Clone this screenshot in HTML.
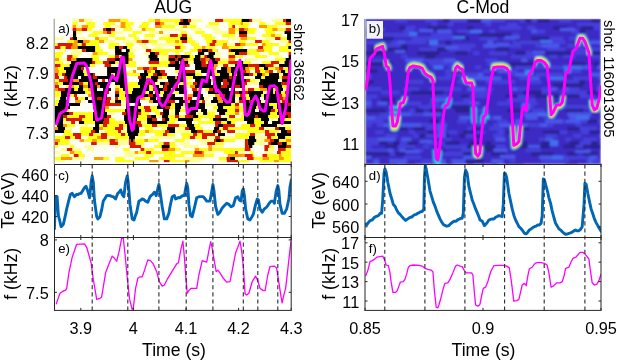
<!DOCTYPE html>
<html><head><meta charset="utf-8"><style>
html,body{margin:0;padding:0;background:#fff;overflow:hidden;}
svg{display:block;will-change:transform;}
text{font-family:"Liberation Sans", sans-serif;fill:#000;}
</style></head><body>
<svg width="617" height="360" viewBox="0 0 617 360">
<rect width="617" height="360" fill="#fff"/>
<defs><filter id="blur1" x="0" y="0" width="1" height="1"><feGaussianBlur stdDeviation="0.7"/></filter><clipPath id="sl"><rect x="55.0" y="18.8" width="236.2" height="143.5"/></clipPath></defs>
<g filter="url(#blur1)" clip-path="url(#sl)"><rect x="55.0" y="18.8" width="236.2" height="143.5" fill="#fff8a0"/><path fill="#ff9a00" d="M55 18.8h4.1v3.1h-4.1zM75 18.8h4.1v3.1h-4.1zM119 18.8h4.1v3.1h-4.1zM55 24.8h4.1v3.1h-4.1zM59 24.8h4.1v3.1h-4.1zM79 24.8h4.1v3.1h-4.1zM139 24.8h4.1v3.1h-4.1zM239 24.8h4.1v3.1h-4.1zM255 27.8h4.1v3.1h-4.1zM271 27.8h4.1v3.1h-4.1zM291 27.8h0.3v3.1h-0.3zM123 30.8h4.1v3.1h-4.1zM199 30.8h4.1v3.1h-4.1zM203 30.8h4.1v3.1h-4.1zM251 30.8h4.1v3.1h-4.1zM55 33.8h4.1v3.1h-4.1zM147 33.8h4.1v3.1h-4.1zM195 33.8h4.1v3.1h-4.1zM199 33.8h4.1v3.1h-4.1zM151 36.8h4.1v3.1h-4.1zM211 36.8h4.1v3.1h-4.1zM227 36.8h4.1v3.1h-4.1zM179 39.8h4.1v3.1h-4.1zM71 42.8h4.1v3.1h-4.1zM143 42.8h4.1v3.1h-4.1zM179 42.8h4.1v3.1h-4.1zM63 45.8h4.1v3.1h-4.1zM291 45.8h0.3v3.1h-0.3zM183 48.8h4.1v3.1h-4.1zM283 48.8h4.1v3.1h-4.1zM111 51.8h4.1v3.1h-4.1zM243 51.8h4.1v3.1h-4.1zM171 54.8h4.1v3.1h-4.1zM155 57.8h4.1v3.1h-4.1zM183 57.8h4.1v3.1h-4.1zM283 57.8h4.1v3.1h-4.1zM123 60.8h4.1v3.1h-4.1zM143 60.8h4.1v3.1h-4.1zM155 60.8h4.1v3.1h-4.1zM211 60.8h4.1v3.1h-4.1zM151 63.8h4.1v3.1h-4.1zM163 63.8h4.1v3.1h-4.1zM167 63.8h4.1v3.1h-4.1zM179 63.8h4.1v3.1h-4.1zM199 63.8h4.1v3.1h-4.1zM55 66.8h4.1v3.1h-4.1zM207 66.8h4.1v3.1h-4.1zM263 66.8h4.1v3.1h-4.1zM63 69.8h4.1v3.1h-4.1zM147 69.8h4.1v3.1h-4.1zM175 69.8h4.1v3.1h-4.1zM179 69.8h4.1v3.1h-4.1zM235 69.8h4.1v3.1h-4.1zM291 69.8h0.3v3.1h-0.3zM187 75.8h4.1v3.1h-4.1zM155 78.8h4.1v3.1h-4.1zM283 78.8h4.1v3.1h-4.1zM99 81.8h4.1v3.1h-4.1zM159 81.8h4.1v3.1h-4.1zM55 84.8h4.1v3.1h-4.1zM91 84.8h4.1v3.1h-4.1zM95 84.8h4.1v3.1h-4.1zM159 84.8h4.1v3.1h-4.1zM203 84.8h4.1v3.1h-4.1zM55 87.8h4.1v3.1h-4.1zM135 87.8h4.1v3.1h-4.1zM139 87.8h4.1v3.1h-4.1zM143 87.8h4.1v3.1h-4.1zM155 87.8h4.1v3.1h-4.1zM235 87.8h4.1v3.1h-4.1zM243 87.8h4.1v3.1h-4.1zM151 90.8h4.1v3.1h-4.1zM159 90.8h4.1v3.1h-4.1zM195 90.8h4.1v3.1h-4.1zM235 90.8h4.1v3.1h-4.1zM119 93.8h4.1v3.1h-4.1zM227 96.8h4.1v3.1h-4.1zM231 96.8h4.1v3.1h-4.1zM167 102.8h4.1v3.1h-4.1zM187 102.8h4.1v3.1h-4.1zM235 102.8h4.1v3.1h-4.1zM95 105.8h4.1v3.1h-4.1zM123 105.8h4.1v3.1h-4.1zM227 105.8h4.1v3.1h-4.1zM163 108.8h4.1v3.1h-4.1zM215 108.8h4.1v3.1h-4.1zM283 108.8h4.1v3.1h-4.1zM107 111.8h4.1v3.1h-4.1zM79 114.8h4.1v3.1h-4.1zM207 114.8h4.1v3.1h-4.1zM159 117.8h4.1v3.1h-4.1zM227 117.8h4.1v3.1h-4.1zM199 120.8h4.1v3.1h-4.1zM239 120.8h4.1v3.1h-4.1zM275 120.8h4.1v3.1h-4.1zM279 120.8h4.1v3.1h-4.1zM83 123.8h4.1v3.1h-4.1zM163 123.8h4.1v3.1h-4.1zM175 123.8h4.1v3.1h-4.1zM183 123.8h4.1v3.1h-4.1zM203 123.8h4.1v3.1h-4.1zM95 126.8h4.1v3.1h-4.1zM127 126.8h4.1v3.1h-4.1zM135 126.8h4.1v3.1h-4.1zM235 126.8h4.1v3.1h-4.1zM75 129.8h4.1v3.1h-4.1zM87 129.8h4.1v3.1h-4.1zM207 129.8h4.1v3.1h-4.1zM79 132.8h4.1v3.1h-4.1zM131 132.8h4.1v3.1h-4.1zM147 132.8h4.1v3.1h-4.1zM151 132.8h4.1v3.1h-4.1zM251 132.8h4.1v3.1h-4.1zM255 132.8h4.1v3.1h-4.1zM175 135.8h4.1v3.1h-4.1zM179 135.8h4.1v3.1h-4.1zM187 135.8h4.1v3.1h-4.1zM199 135.8h4.1v3.1h-4.1zM99 138.8h4.1v3.1h-4.1zM215 138.8h4.1v3.1h-4.1zM55 141.8h4.1v3.1h-4.1zM191 141.8h4.1v3.1h-4.1zM107 144.8h4.1v3.1h-4.1zM163 144.8h4.1v3.1h-4.1zM183 144.8h4.1v3.1h-4.1zM99 147.8h4.1v3.1h-4.1zM247 147.8h4.1v3.1h-4.1zM163 150.8h4.1v3.1h-4.1zM87 153.8h4.1v3.1h-4.1zM119 153.8h4.1v3.1h-4.1zM195 153.8h4.1v3.1h-4.1zM271 153.8h4.1v3.1h-4.1zM275 153.8h4.1v3.1h-4.1zM267 156.8h4.1v3.1h-4.1z"/><path fill="#ffff14" d="M59 18.8h8.1v3.1h-8.1zM83 18.8h8.1v3.1h-8.1zM115 18.8h4.1v3.1h-4.1zM123 18.8h12.1v3.1h-12.1zM139 18.8h4.1v3.1h-4.1zM147 18.8h4.1v3.1h-4.1zM179 18.8h12.1v3.1h-12.1zM219 18.8h4.1v3.1h-4.1zM223 18.8h12.1v3.1h-12.1zM235 18.8h8.1v3.1h-8.1zM271 18.8h4.1v3.1h-4.1zM275 18.8h12.1v3.1h-12.1zM55 21.8h8.1v3.1h-8.1zM83 21.8h8.1v3.1h-8.1zM107 21.8h12.1v3.1h-12.1zM127 21.8h8.1v3.1h-8.1zM151 21.8h8.1v3.1h-8.1zM191 21.8h16.1v3.1h-16.1zM291 21.8h0.3v3.1h-0.3zM115 24.8h8.1v3.1h-8.1zM123 24.8h12.1v3.1h-12.1zM159 24.8h4.1v3.1h-4.1zM195 24.8h16.1v3.1h-16.1zM215 24.8h4.1v3.1h-4.1zM255 24.8h4.1v3.1h-4.1zM259 24.8h4.1v3.1h-4.1zM263 24.8h8.1v3.1h-8.1zM283 24.8h8.1v3.1h-8.1zM107 27.8h16.1v3.1h-16.1zM135 27.8h8.1v3.1h-8.1zM147 27.8h4.1v3.1h-4.1zM163 27.8h4.1v3.1h-4.1zM195 27.8h8.1v3.1h-8.1zM207 27.8h8.1v3.1h-8.1zM235 27.8h8.1v3.1h-8.1zM115 30.8h4.1v3.1h-4.1zM127 30.8h4.1v3.1h-4.1zM135 30.8h16.1v3.1h-16.1zM163 30.8h4.1v3.1h-4.1zM207 30.8h16.1v3.1h-16.1zM223 30.8h12.1v3.1h-12.1zM247 30.8h4.1v3.1h-4.1zM255 30.8h4.1v3.1h-4.1zM263 30.8h8.1v3.1h-8.1zM271 30.8h4.1v3.1h-4.1zM283 30.8h8.3v3.1h-8.3zM71 33.8h4.1v3.1h-4.1zM87 33.8h4.1v3.1h-4.1zM95 33.8h12.1v3.1h-12.1zM123 33.8h12.1v3.1h-12.1zM135 33.8h8.1v3.1h-8.1zM155 33.8h4.1v3.1h-4.1zM159 33.8h8.1v3.1h-8.1zM203 33.8h16.1v3.1h-16.1zM263 33.8h12.1v3.1h-12.1zM55 36.8h12.1v3.1h-12.1zM83 36.8h8.1v3.1h-8.1zM91 36.8h8.1v3.1h-8.1zM143 36.8h8.1v3.1h-8.1zM155 36.8h12.1v3.1h-12.1zM179 36.8h4.1v3.1h-4.1zM187 36.8h4.1v3.1h-4.1zM203 36.8h4.1v3.1h-4.1zM215 36.8h8.1v3.1h-8.1zM223 36.8h4.1v3.1h-4.1zM239 36.8h8.1v3.1h-8.1zM259 36.8h8.1v3.1h-8.1zM63 39.8h12.1v3.1h-12.1zM83 39.8h16.1v3.1h-16.1zM99 39.8h8.1v3.1h-8.1zM139 39.8h4.1v3.1h-4.1zM167 39.8h8.1v3.1h-8.1zM259 39.8h8.1v3.1h-8.1zM75 42.8h4.1v3.1h-4.1zM123 42.8h16.1v3.1h-16.1zM147 42.8h16.1v3.1h-16.1zM183 42.8h12.1v3.1h-12.1zM227 42.8h16.1v3.1h-16.1zM247 42.8h4.1v3.1h-4.1zM255 42.8h8.1v3.1h-8.1zM91 45.8h16.1v3.1h-16.1zM131 45.8h4.1v3.1h-4.1zM151 45.8h4.1v3.1h-4.1zM183 45.8h8.1v3.1h-8.1zM235 45.8h16.1v3.1h-16.1zM251 45.8h16.1v3.1h-16.1zM267 45.8h8.1v3.1h-8.1zM103 48.8h16.1v3.1h-16.1zM123 48.8h4.1v3.1h-4.1zM155 48.8h4.1v3.1h-4.1zM247 48.8h8.1v3.1h-8.1zM259 48.8h8.1v3.1h-8.1zM287 48.8h4.3v3.1h-4.3zM55 51.8h12.1v3.1h-12.1zM83 51.8h16.1v3.1h-16.1zM135 51.8h8.1v3.1h-8.1zM199 51.8h8.1v3.1h-8.1zM231 51.8h4.1v3.1h-4.1zM235 51.8h8.1v3.1h-8.1zM247 51.8h8.1v3.1h-8.1zM67 54.8h16.1v3.1h-16.1zM91 54.8h4.1v3.1h-4.1zM103 54.8h12.1v3.1h-12.1zM123 54.8h16.1v3.1h-16.1zM199 54.8h4.1v3.1h-4.1zM251 54.8h4.1v3.1h-4.1zM275 54.8h16.1v3.1h-16.1zM55 57.8h8.1v3.1h-8.1zM115 57.8h8.1v3.1h-8.1zM123 57.8h4.1v3.1h-4.1zM127 57.8h4.1v3.1h-4.1zM135 57.8h16.1v3.1h-16.1zM159 57.8h16.1v3.1h-16.1zM187 57.8h4.1v3.1h-4.1zM271 57.8h12.1v3.1h-12.1zM287 57.8h4.3v3.1h-4.3zM95 60.8h4.1v3.1h-4.1zM115 60.8h8.1v3.1h-8.1zM159 60.8h16.1v3.1h-16.1zM175 60.8h8.1v3.1h-8.1zM191 60.8h8.1v3.1h-8.1zM215 60.8h4.1v3.1h-4.1zM239 60.8h16.1v3.1h-16.1zM255 60.8h8.1v3.1h-8.1zM251 63.8h8.1v3.1h-8.1zM279 63.8h4.1v3.1h-4.1zM283 63.8h8.1v3.1h-8.1zM67 66.8h8.1v3.1h-8.1zM83 66.8h8.1v3.1h-8.1zM163 66.8h4.1v3.1h-4.1zM191 66.8h4.1v3.1h-4.1zM195 66.8h4.1v3.1h-4.1zM199 66.8h4.1v3.1h-4.1zM251 66.8h4.1v3.1h-4.1zM267 66.8h4.1v3.1h-4.1zM271 66.8h16.1v3.1h-16.1zM59 69.8h4.1v3.1h-4.1zM79 69.8h4.1v3.1h-4.1zM87 69.8h8.1v3.1h-8.1zM95 69.8h4.1v3.1h-4.1zM99 69.8h8.1v3.1h-8.1zM107 69.8h4.1v3.1h-4.1zM111 69.8h4.1v3.1h-4.1zM151 69.8h8.1v3.1h-8.1zM159 69.8h8.1v3.1h-8.1zM191 69.8h4.1v3.1h-4.1zM195 69.8h8.1v3.1h-8.1zM207 69.8h4.1v3.1h-4.1zM239 69.8h16.1v3.1h-16.1zM259 69.8h4.1v3.1h-4.1zM63 72.8h16.1v3.1h-16.1zM79 72.8h4.1v3.1h-4.1zM83 72.8h4.1v3.1h-4.1zM175 72.8h12.1v3.1h-12.1zM203 72.8h16.1v3.1h-16.1zM231 72.8h8.1v3.1h-8.1zM239 72.8h8.1v3.1h-8.1zM283 72.8h8.1v3.1h-8.1zM63 75.8h8.1v3.1h-8.1zM119 75.8h16.1v3.1h-16.1zM139 75.8h8.1v3.1h-8.1zM243 75.8h8.1v3.1h-8.1zM59 78.8h8.1v3.1h-8.1zM83 78.8h12.1v3.1h-12.1zM111 78.8h8.1v3.1h-8.1zM127 78.8h4.1v3.1h-4.1zM131 78.8h4.1v3.1h-4.1zM187 78.8h16.1v3.1h-16.1zM219 78.8h4.1v3.1h-4.1zM227 78.8h4.1v3.1h-4.1zM239 78.8h8.1v3.1h-8.1zM247 78.8h8.1v3.1h-8.1zM267 78.8h8.1v3.1h-8.1zM103 81.8h12.1v3.1h-12.1zM115 81.8h8.1v3.1h-8.1zM167 81.8h12.1v3.1h-12.1zM183 81.8h4.1v3.1h-4.1zM187 81.8h16.1v3.1h-16.1zM203 81.8h16.1v3.1h-16.1zM271 81.8h16.1v3.1h-16.1zM107 84.8h8.1v3.1h-8.1zM115 84.8h16.1v3.1h-16.1zM135 84.8h8.1v3.1h-8.1zM223 84.8h12.1v3.1h-12.1zM247 84.8h4.1v3.1h-4.1zM275 84.8h8.1v3.1h-8.1zM283 84.8h4.1v3.1h-4.1zM83 87.8h16.1v3.1h-16.1zM175 87.8h16.1v3.1h-16.1zM247 87.8h12.1v3.1h-12.1zM259 87.8h8.1v3.1h-8.1zM271 87.8h4.1v3.1h-4.1zM67 90.8h4.1v3.1h-4.1zM79 90.8h4.1v3.1h-4.1zM155 90.8h4.1v3.1h-4.1zM163 90.8h4.1v3.1h-4.1zM167 90.8h16.1v3.1h-16.1zM183 90.8h4.1v3.1h-4.1zM287 90.8h4.3v3.1h-4.3zM55 93.8h8.1v3.1h-8.1zM75 93.8h8.1v3.1h-8.1zM99 93.8h8.1v3.1h-8.1zM107 93.8h8.1v3.1h-8.1zM123 93.8h4.1v3.1h-4.1zM235 93.8h4.1v3.1h-4.1zM243 93.8h8.1v3.1h-8.1zM267 93.8h8.1v3.1h-8.1zM279 93.8h12.3v3.1h-12.3zM207 96.8h8.1v3.1h-8.1zM215 96.8h4.1v3.1h-4.1zM219 96.8h8.1v3.1h-8.1zM283 96.8h4.1v3.1h-4.1zM291 96.8h0.3v3.1h-0.3zM55 99.8h16.1v3.1h-16.1zM71 99.8h4.1v3.1h-4.1zM75 99.8h8.1v3.1h-8.1zM159 99.8h8.1v3.1h-8.1zM203 99.8h8.1v3.1h-8.1zM235 99.8h16.1v3.1h-16.1zM275 99.8h8.1v3.1h-8.1zM123 102.8h8.1v3.1h-8.1zM171 102.8h4.1v3.1h-4.1zM175 102.8h8.1v3.1h-8.1zM183 102.8h4.1v3.1h-4.1zM251 102.8h16.1v3.1h-16.1zM267 102.8h4.1v3.1h-4.1zM67 105.8h4.1v3.1h-4.1zM71 105.8h8.1v3.1h-8.1zM79 105.8h4.1v3.1h-4.1zM99 105.8h16.1v3.1h-16.1zM131 105.8h8.1v3.1h-8.1zM139 105.8h12.1v3.1h-12.1zM159 105.8h8.1v3.1h-8.1zM239 105.8h4.1v3.1h-4.1zM255 105.8h16.1v3.1h-16.1zM71 108.8h8.1v3.1h-8.1zM99 108.8h8.1v3.1h-8.1zM123 108.8h4.1v3.1h-4.1zM139 108.8h4.1v3.1h-4.1zM167 108.8h12.1v3.1h-12.1zM191 108.8h8.1v3.1h-8.1zM231 108.8h4.1v3.1h-4.1zM267 108.8h4.1v3.1h-4.1zM271 108.8h8.1v3.1h-8.1zM99 111.8h8.1v3.1h-8.1zM111 111.8h4.1v3.1h-4.1zM131 111.8h8.1v3.1h-8.1zM139 111.8h8.1v3.1h-8.1zM151 111.8h12.1v3.1h-12.1zM187 111.8h16.1v3.1h-16.1zM203 111.8h4.1v3.1h-4.1zM215 111.8h16.1v3.1h-16.1zM71 114.8h8.1v3.1h-8.1zM139 114.8h8.1v3.1h-8.1zM199 114.8h8.1v3.1h-8.1zM287 114.8h4.3v3.1h-4.3zM143 117.8h4.1v3.1h-4.1zM179 117.8h8.1v3.1h-8.1zM191 117.8h8.1v3.1h-8.1zM215 117.8h12.1v3.1h-12.1zM243 117.8h12.1v3.1h-12.1zM279 117.8h12.1v3.1h-12.1zM87 120.8h12.1v3.1h-12.1zM103 120.8h12.1v3.1h-12.1zM127 120.8h8.1v3.1h-8.1zM183 120.8h16.1v3.1h-16.1zM243 120.8h16.1v3.1h-16.1zM259 120.8h4.1v3.1h-4.1zM103 123.8h12.1v3.1h-12.1zM167 123.8h4.1v3.1h-4.1zM239 123.8h4.1v3.1h-4.1zM271 123.8h8.1v3.1h-8.1zM279 123.8h4.1v3.1h-4.1zM99 126.8h12.1v3.1h-12.1zM179 126.8h4.1v3.1h-4.1zM195 126.8h8.1v3.1h-8.1zM223 126.8h4.1v3.1h-4.1zM231 126.8h4.1v3.1h-4.1zM239 126.8h16.1v3.1h-16.1zM263 126.8h4.1v3.1h-4.1zM267 126.8h16.1v3.1h-16.1zM283 126.8h4.1v3.1h-4.1zM63 129.8h4.1v3.1h-4.1zM115 129.8h4.1v3.1h-4.1zM155 129.8h8.1v3.1h-8.1zM195 129.8h8.1v3.1h-8.1zM211 129.8h8.1v3.1h-8.1zM219 129.8h4.1v3.1h-4.1zM239 129.8h4.1v3.1h-4.1zM247 129.8h8.1v3.1h-8.1zM283 129.8h8.3v3.1h-8.3zM55 132.8h8.1v3.1h-8.1zM63 132.8h16.1v3.1h-16.1zM107 132.8h8.1v3.1h-8.1zM123 132.8h4.1v3.1h-4.1zM127 132.8h4.1v3.1h-4.1zM135 132.8h4.1v3.1h-4.1zM191 132.8h8.1v3.1h-8.1zM259 132.8h16.1v3.1h-16.1zM71 135.8h4.1v3.1h-4.1zM83 135.8h8.1v3.1h-8.1zM95 135.8h16.1v3.1h-16.1zM111 135.8h16.1v3.1h-16.1zM127 135.8h16.1v3.1h-16.1zM143 135.8h4.1v3.1h-4.1zM155 135.8h4.1v3.1h-4.1zM183 135.8h4.1v3.1h-4.1zM203 135.8h8.1v3.1h-8.1zM243 135.8h4.1v3.1h-4.1zM247 135.8h4.1v3.1h-4.1zM251 135.8h8.1v3.1h-8.1zM271 135.8h8.1v3.1h-8.1zM55 138.8h12.1v3.1h-12.1zM91 138.8h8.1v3.1h-8.1zM111 138.8h4.1v3.1h-4.1zM115 138.8h8.1v3.1h-8.1zM123 138.8h4.1v3.1h-4.1zM135 138.8h4.1v3.1h-4.1zM155 138.8h4.1v3.1h-4.1zM263 138.8h12.1v3.1h-12.1zM95 141.8h12.1v3.1h-12.1zM107 141.8h8.1v3.1h-8.1zM143 141.8h8.1v3.1h-8.1zM199 141.8h8.1v3.1h-8.1zM227 141.8h12.1v3.1h-12.1zM239 141.8h8.1v3.1h-8.1zM75 144.8h8.1v3.1h-8.1zM99 144.8h8.1v3.1h-8.1zM187 144.8h8.1v3.1h-8.1zM219 144.8h4.1v3.1h-4.1zM223 144.8h4.1v3.1h-4.1zM259 144.8h16.1v3.1h-16.1zM279 144.8h12.3v3.1h-12.3zM63 147.8h4.1v3.1h-4.1zM83 147.8h4.1v3.1h-4.1zM87 147.8h12.1v3.1h-12.1zM131 147.8h4.1v3.1h-4.1zM151 147.8h12.1v3.1h-12.1zM163 147.8h8.1v3.1h-8.1zM171 147.8h4.1v3.1h-4.1zM235 147.8h4.1v3.1h-4.1zM263 147.8h4.1v3.1h-4.1zM119 150.8h16.1v3.1h-16.1zM167 150.8h8.1v3.1h-8.1zM187 150.8h8.1v3.1h-8.1zM243 150.8h8.1v3.1h-8.1zM251 150.8h4.1v3.1h-4.1zM55 153.8h8.1v3.1h-8.1zM107 153.8h12.1v3.1h-12.1zM127 153.8h4.1v3.1h-4.1zM147 153.8h16.1v3.1h-16.1zM199 153.8h4.1v3.1h-4.1zM255 153.8h8.1v3.1h-8.1zM167 156.8h4.1v3.1h-4.1zM195 156.8h8.1v3.1h-8.1zM203 156.8h4.1v3.1h-4.1zM207 156.8h4.1v3.1h-4.1zM211 156.8h16.1v3.1h-16.1zM271 156.8h12.1v3.1h-12.1zM71 159.8h4.1v2.6h-4.1zM91 159.8h16.1v2.6h-16.1zM115 159.8h8.1v2.6h-8.1zM147 159.8h16.1v2.6h-16.1zM191 159.8h16.1v2.6h-16.1zM207 159.8h4.1v2.6h-4.1zM283 159.8h8.1v2.6h-8.1zM291 159.8h0.3v2.6h-0.3z"/><path fill="#ffff9a" d="M67 18.8h4.1v3.1h-4.1zM195 18.8h12.1v3.1h-12.1zM251 18.8h4.1v3.1h-4.1zM255 18.8h16.1v3.1h-16.1zM287 18.8h4.3v3.1h-4.3zM135 21.8h12.1v3.1h-12.1zM147 21.8h4.1v3.1h-4.1zM175 21.8h16.1v3.1h-16.1zM207 21.8h16.1v3.1h-16.1zM223 21.8h8.1v3.1h-8.1zM63 24.8h8.1v3.1h-8.1zM71 24.8h8.1v3.1h-8.1zM135 24.8h4.1v3.1h-4.1zM143 24.8h16.1v3.1h-16.1zM163 24.8h16.1v3.1h-16.1zM55 27.8h4.1v3.1h-4.1zM123 27.8h4.1v3.1h-4.1zM131 27.8h4.1v3.1h-4.1zM167 27.8h4.1v3.1h-4.1zM171 27.8h8.1v3.1h-8.1zM203 27.8h4.1v3.1h-4.1zM243 27.8h12.1v3.1h-12.1zM259 27.8h8.1v3.1h-8.1zM267 27.8h4.1v3.1h-4.1zM275 27.8h16.1v3.1h-16.1zM55 30.8h8.1v3.1h-8.1zM87 30.8h8.1v3.1h-8.1zM95 30.8h4.1v3.1h-4.1zM107 30.8h8.1v3.1h-8.1zM151 30.8h12.1v3.1h-12.1zM167 30.8h4.1v3.1h-4.1zM179 30.8h4.1v3.1h-4.1zM191 30.8h8.1v3.1h-8.1zM275 30.8h8.1v3.1h-8.1zM143 33.8h4.1v3.1h-4.1zM151 33.8h4.1v3.1h-4.1zM167 33.8h4.1v3.1h-4.1zM227 33.8h4.1v3.1h-4.1zM243 33.8h16.1v3.1h-16.1zM259 33.8h4.1v3.1h-4.1zM123 36.8h4.1v3.1h-4.1zM127 36.8h16.1v3.1h-16.1zM175 36.8h4.1v3.1h-4.1zM247 36.8h12.1v3.1h-12.1zM283 36.8h8.1v3.1h-8.1zM55 39.8h4.1v3.1h-4.1zM111 39.8h8.1v3.1h-8.1zM123 39.8h16.1v3.1h-16.1zM151 39.8h16.1v3.1h-16.1zM79 42.8h16.1v3.1h-16.1zM107 42.8h8.1v3.1h-8.1zM163 42.8h16.1v3.1h-16.1zM195 42.8h4.1v3.1h-4.1zM199 42.8h12.1v3.1h-12.1zM211 42.8h16.1v3.1h-16.1zM279 42.8h12.1v3.1h-12.1zM55 45.8h8.1v3.1h-8.1zM107 45.8h4.1v3.1h-4.1zM111 45.8h4.1v3.1h-4.1zM123 45.8h8.1v3.1h-8.1zM231 45.8h4.1v3.1h-4.1zM59 48.8h4.1v3.1h-4.1zM119 48.8h4.1v3.1h-4.1zM139 48.8h8.1v3.1h-8.1zM175 48.8h8.1v3.1h-8.1zM187 48.8h4.1v3.1h-4.1zM231 48.8h8.1v3.1h-8.1zM243 48.8h4.1v3.1h-4.1zM275 48.8h8.1v3.1h-8.1zM99 51.8h12.1v3.1h-12.1zM151 51.8h16.1v3.1h-16.1zM55 54.8h4.1v3.1h-4.1zM99 54.8h4.1v3.1h-4.1zM139 54.8h8.1v3.1h-8.1zM151 54.8h8.1v3.1h-8.1zM175 54.8h12.1v3.1h-12.1zM219 54.8h16.1v3.1h-16.1zM223 57.8h8.1v3.1h-8.1zM247 57.8h8.1v3.1h-8.1zM183 60.8h8.1v3.1h-8.1zM223 60.8h8.1v3.1h-8.1zM271 60.8h8.1v3.1h-8.1zM55 63.8h16.1v3.1h-16.1zM135 63.8h16.1v3.1h-16.1zM183 63.8h8.1v3.1h-8.1zM191 63.8h8.1v3.1h-8.1zM223 63.8h16.1v3.1h-16.1zM107 66.8h12.1v3.1h-12.1zM119 66.8h16.1v3.1h-16.1zM155 66.8h8.1v3.1h-8.1zM211 66.8h4.1v3.1h-4.1zM255 66.8h8.1v3.1h-8.1zM67 69.8h4.1v3.1h-4.1zM71 69.8h8.1v3.1h-8.1zM115 69.8h8.1v3.1h-8.1zM167 69.8h8.1v3.1h-8.1zM211 69.8h16.1v3.1h-16.1zM267 69.8h8.1v3.1h-8.1zM87 72.8h12.1v3.1h-12.1zM139 72.8h12.1v3.1h-12.1zM187 72.8h16.1v3.1h-16.1zM263 72.8h12.1v3.1h-12.1zM275 72.8h8.1v3.1h-8.1zM135 75.8h4.1v3.1h-4.1zM155 75.8h16.1v3.1h-16.1zM183 75.8h4.1v3.1h-4.1zM191 75.8h4.1v3.1h-4.1zM195 75.8h12.1v3.1h-12.1zM267 75.8h8.1v3.1h-8.1zM67 78.8h12.1v3.1h-12.1zM95 78.8h8.1v3.1h-8.1zM159 78.8h8.1v3.1h-8.1zM287 78.8h4.1v3.1h-4.1zM71 81.8h16.1v3.1h-16.1zM87 81.8h8.1v3.1h-8.1zM123 81.8h12.1v3.1h-12.1zM255 81.8h16.1v3.1h-16.1zM287 81.8h4.3v3.1h-4.3zM59 84.8h4.1v3.1h-4.1zM99 84.8h8.1v3.1h-8.1zM179 84.8h4.1v3.1h-4.1zM207 84.8h16.1v3.1h-16.1zM235 84.8h12.1v3.1h-12.1zM267 84.8h8.1v3.1h-8.1zM119 87.8h12.1v3.1h-12.1zM131 87.8h4.1v3.1h-4.1zM199 87.8h4.1v3.1h-4.1zM239 87.8h4.1v3.1h-4.1zM267 87.8h4.1v3.1h-4.1zM83 90.8h8.1v3.1h-8.1zM103 90.8h16.1v3.1h-16.1zM275 90.8h12.1v3.1h-12.1zM135 93.8h16.1v3.1h-16.1zM219 93.8h8.1v3.1h-8.1zM255 93.8h8.1v3.1h-8.1zM71 96.8h8.1v3.1h-8.1zM79 96.8h12.1v3.1h-12.1zM91 96.8h8.1v3.1h-8.1zM99 96.8h16.1v3.1h-16.1zM115 96.8h16.1v3.1h-16.1zM131 96.8h4.1v3.1h-4.1zM159 96.8h16.1v3.1h-16.1zM183 96.8h8.1v3.1h-8.1zM235 96.8h8.1v3.1h-8.1zM243 96.8h8.1v3.1h-8.1zM267 96.8h16.1v3.1h-16.1zM287 96.8h4.1v3.1h-4.1zM83 99.8h8.1v3.1h-8.1zM115 99.8h12.1v3.1h-12.1zM127 99.8h4.1v3.1h-4.1zM191 99.8h8.1v3.1h-8.1zM215 99.8h4.1v3.1h-4.1zM251 99.8h4.1v3.1h-4.1zM259 99.8h16.1v3.1h-16.1zM283 99.8h8.1v3.1h-8.1zM67 102.8h8.1v3.1h-8.1zM75 102.8h8.1v3.1h-8.1zM91 102.8h16.1v3.1h-16.1zM155 102.8h8.1v3.1h-8.1zM219 102.8h4.1v3.1h-4.1zM223 102.8h4.1v3.1h-4.1zM227 102.8h8.1v3.1h-8.1zM271 102.8h12.1v3.1h-12.1zM55 105.8h4.1v3.1h-4.1zM59 105.8h8.1v3.1h-8.1zM151 105.8h8.1v3.1h-8.1zM231 105.8h8.1v3.1h-8.1zM243 105.8h8.1v3.1h-8.1zM291 105.8h0.3v3.1h-0.3zM55 108.8h12.1v3.1h-12.1zM131 108.8h8.1v3.1h-8.1zM235 108.8h16.1v3.1h-16.1zM287 108.8h4.3v3.1h-4.3zM71 111.8h4.1v3.1h-4.1zM75 111.8h12.1v3.1h-12.1zM127 111.8h4.1v3.1h-4.1zM147 111.8h4.1v3.1h-4.1zM167 111.8h8.1v3.1h-8.1zM255 111.8h16.1v3.1h-16.1zM275 111.8h16.1v3.1h-16.1zM291 111.8h0.3v3.1h-0.3zM59 114.8h12.1v3.1h-12.1zM83 114.8h4.1v3.1h-4.1zM91 114.8h16.1v3.1h-16.1zM155 114.8h12.1v3.1h-12.1zM167 114.8h8.1v3.1h-8.1zM231 114.8h16.1v3.1h-16.1zM259 114.8h12.1v3.1h-12.1zM271 114.8h4.1v3.1h-4.1zM275 114.8h12.1v3.1h-12.1zM75 117.8h4.1v3.1h-4.1zM79 117.8h8.1v3.1h-8.1zM107 117.8h4.1v3.1h-4.1zM123 117.8h12.1v3.1h-12.1zM147 117.8h8.1v3.1h-8.1zM155 117.8h4.1v3.1h-4.1zM167 117.8h4.1v3.1h-4.1zM171 117.8h8.1v3.1h-8.1zM187 117.8h4.1v3.1h-4.1zM199 117.8h12.1v3.1h-12.1zM291 117.8h0.3v3.1h-0.3zM71 120.8h8.1v3.1h-8.1zM135 120.8h8.1v3.1h-8.1zM147 120.8h8.1v3.1h-8.1zM219 120.8h4.1v3.1h-4.1zM283 120.8h4.1v3.1h-4.1zM291 120.8h0.3v3.1h-0.3zM55 123.8h16.1v3.1h-16.1zM87 123.8h16.1v3.1h-16.1zM171 123.8h4.1v3.1h-4.1zM207 123.8h8.1v3.1h-8.1zM139 126.8h4.1v3.1h-4.1zM227 126.8h4.1v3.1h-4.1zM291 126.8h0.3v3.1h-0.3zM55 129.8h8.1v3.1h-8.1zM143 129.8h12.1v3.1h-12.1zM187 129.8h8.1v3.1h-8.1zM259 129.8h16.1v3.1h-16.1zM139 132.8h8.1v3.1h-8.1zM155 132.8h8.1v3.1h-8.1zM163 132.8h12.1v3.1h-12.1zM187 132.8h4.1v3.1h-4.1zM199 132.8h8.1v3.1h-8.1zM207 132.8h12.1v3.1h-12.1zM219 132.8h8.1v3.1h-8.1zM75 135.8h8.1v3.1h-8.1zM219 135.8h4.1v3.1h-4.1zM223 135.8h8.1v3.1h-8.1zM231 135.8h12.1v3.1h-12.1zM139 138.8h16.1v3.1h-16.1zM191 138.8h12.1v3.1h-12.1zM227 138.8h16.1v3.1h-16.1zM71 141.8h8.1v3.1h-8.1zM79 141.8h8.1v3.1h-8.1zM115 141.8h4.1v3.1h-4.1zM135 141.8h8.1v3.1h-8.1zM171 141.8h12.1v3.1h-12.1zM215 141.8h12.1v3.1h-12.1zM247 141.8h12.1v3.1h-12.1zM291 141.8h0.3v3.1h-0.3zM123 144.8h12.1v3.1h-12.1zM147 144.8h4.1v3.1h-4.1zM243 144.8h16.1v3.1h-16.1zM175 147.8h16.1v3.1h-16.1zM251 147.8h12.1v3.1h-12.1zM283 147.8h8.3v3.1h-8.3zM91 150.8h8.1v3.1h-8.1zM179 150.8h8.1v3.1h-8.1zM255 150.8h8.1v3.1h-8.1zM63 153.8h4.1v3.1h-4.1zM123 153.8h4.1v3.1h-4.1zM131 153.8h8.1v3.1h-8.1zM187 153.8h4.1v3.1h-4.1zM203 153.8h8.1v3.1h-8.1zM263 153.8h8.1v3.1h-8.1zM283 153.8h8.3v3.1h-8.3zM79 156.8h16.1v3.1h-16.1zM131 156.8h12.1v3.1h-12.1zM143 156.8h16.1v3.1h-16.1zM227 156.8h8.1v3.1h-8.1zM63 159.8h8.1v2.6h-8.1zM123 159.8h8.1v2.6h-8.1zM131 159.8h16.1v2.6h-16.1zM215 159.8h16.1v2.6h-16.1z"/><path fill="#fffff4" d="M71 18.8h4.1v3.1h-4.1zM79 18.8h4.1v3.1h-4.1zM91 18.8h4.1v3.1h-4.1zM95 18.8h8.1v3.1h-8.1zM103 18.8h12.1v3.1h-12.1zM143 18.8h4.1v3.1h-4.1zM151 18.8h12.1v3.1h-12.1zM163 18.8h16.1v3.1h-16.1zM191 18.8h4.1v3.1h-4.1zM207 18.8h12.1v3.1h-12.1zM243 18.8h8.1v3.1h-8.1zM63 21.8h4.1v3.1h-4.1zM67 21.8h8.1v3.1h-8.1zM75 21.8h8.1v3.1h-8.1zM91 21.8h16.1v3.1h-16.1zM119 21.8h8.1v3.1h-8.1zM159 21.8h16.1v3.1h-16.1zM231 21.8h16.1v3.1h-16.1zM247 21.8h8.1v3.1h-8.1zM255 21.8h12.1v3.1h-12.1zM267 21.8h4.1v3.1h-4.1zM271 21.8h8.1v3.1h-8.1zM279 21.8h4.1v3.1h-4.1zM283 21.8h8.1v3.1h-8.1zM83 24.8h4.1v3.1h-4.1zM87 24.8h4.1v3.1h-4.1zM91 24.8h4.1v3.1h-4.1zM95 24.8h12.1v3.1h-12.1zM107 24.8h8.1v3.1h-8.1zM179 24.8h8.1v3.1h-8.1zM187 24.8h8.1v3.1h-8.1zM211 24.8h4.1v3.1h-4.1zM219 24.8h4.1v3.1h-4.1zM223 24.8h4.1v3.1h-4.1zM227 24.8h12.1v3.1h-12.1zM243 24.8h12.1v3.1h-12.1zM271 24.8h8.1v3.1h-8.1zM291 24.8h0.3v3.1h-0.3zM59 27.8h16.1v3.1h-16.1zM75 27.8h16.1v3.1h-16.1zM91 27.8h4.1v3.1h-4.1zM95 27.8h12.1v3.1h-12.1zM143 27.8h4.1v3.1h-4.1zM151 27.8h12.1v3.1h-12.1zM179 27.8h4.1v3.1h-4.1zM183 27.8h8.1v3.1h-8.1zM219 27.8h8.1v3.1h-8.1zM227 27.8h4.1v3.1h-4.1zM231 27.8h4.1v3.1h-4.1zM63 30.8h8.1v3.1h-8.1zM71 30.8h16.1v3.1h-16.1zM103 30.8h4.1v3.1h-4.1zM131 30.8h4.1v3.1h-4.1zM171 30.8h4.1v3.1h-4.1zM175 30.8h4.1v3.1h-4.1zM183 30.8h8.1v3.1h-8.1zM235 30.8h12.1v3.1h-12.1zM259 30.8h4.1v3.1h-4.1zM59 33.8h4.1v3.1h-4.1zM63 33.8h8.1v3.1h-8.1zM75 33.8h12.1v3.1h-12.1zM107 33.8h16.1v3.1h-16.1zM171 33.8h8.1v3.1h-8.1zM179 33.8h16.1v3.1h-16.1zM219 33.8h4.1v3.1h-4.1zM231 33.8h4.1v3.1h-4.1zM235 33.8h8.1v3.1h-8.1zM275 33.8h8.1v3.1h-8.1zM283 33.8h8.1v3.1h-8.1zM291 33.8h0.3v3.1h-0.3zM67 36.8h16.1v3.1h-16.1zM99 36.8h4.1v3.1h-4.1zM107 36.8h4.1v3.1h-4.1zM111 36.8h8.1v3.1h-8.1zM119 36.8h4.1v3.1h-4.1zM167 36.8h8.1v3.1h-8.1zM183 36.8h4.1v3.1h-4.1zM191 36.8h8.1v3.1h-8.1zM199 36.8h4.1v3.1h-4.1zM231 36.8h4.1v3.1h-4.1zM235 36.8h4.1v3.1h-4.1zM267 36.8h16.1v3.1h-16.1zM291 36.8h0.3v3.1h-0.3zM75 39.8h8.1v3.1h-8.1zM119 39.8h4.1v3.1h-4.1zM147 39.8h4.1v3.1h-4.1zM175 39.8h4.1v3.1h-4.1zM187 39.8h12.1v3.1h-12.1zM199 39.8h8.1v3.1h-8.1zM207 39.8h4.1v3.1h-4.1zM211 39.8h8.1v3.1h-8.1zM223 39.8h12.1v3.1h-12.1zM239 39.8h8.1v3.1h-8.1zM247 39.8h4.1v3.1h-4.1zM251 39.8h8.1v3.1h-8.1zM267 39.8h4.1v3.1h-4.1zM271 39.8h4.1v3.1h-4.1zM275 39.8h4.1v3.1h-4.1zM279 39.8h12.1v3.1h-12.1zM291 39.8h0.3v3.1h-0.3zM55 42.8h16.1v3.1h-16.1zM95 42.8h12.1v3.1h-12.1zM115 42.8h8.1v3.1h-8.1zM139 42.8h4.1v3.1h-4.1zM243 42.8h4.1v3.1h-4.1zM251 42.8h4.1v3.1h-4.1zM263 42.8h16.1v3.1h-16.1zM291 42.8h0.3v3.1h-0.3zM67 45.8h12.1v3.1h-12.1zM79 45.8h12.1v3.1h-12.1zM115 45.8h4.1v3.1h-4.1zM135 45.8h16.1v3.1h-16.1zM155 45.8h16.1v3.1h-16.1zM171 45.8h12.1v3.1h-12.1zM191 45.8h16.1v3.1h-16.1zM207 45.8h12.1v3.1h-12.1zM219 45.8h8.1v3.1h-8.1zM279 45.8h12.1v3.1h-12.1zM55 48.8h4.1v3.1h-4.1zM67 48.8h8.1v3.1h-8.1zM75 48.8h4.1v3.1h-4.1zM79 48.8h4.1v3.1h-4.1zM83 48.8h12.1v3.1h-12.1zM95 48.8h8.1v3.1h-8.1zM127 48.8h8.1v3.1h-8.1zM135 48.8h4.1v3.1h-4.1zM147 48.8h8.1v3.1h-8.1zM159 48.8h8.1v3.1h-8.1zM167 48.8h8.1v3.1h-8.1zM191 48.8h16.1v3.1h-16.1zM207 48.8h8.1v3.1h-8.1zM219 48.8h12.1v3.1h-12.1zM239 48.8h4.1v3.1h-4.1zM255 48.8h4.1v3.1h-4.1zM267 48.8h8.1v3.1h-8.1zM67 51.8h16.1v3.1h-16.1zM115 51.8h8.1v3.1h-8.1zM123 51.8h12.1v3.1h-12.1zM143 51.8h8.1v3.1h-8.1zM167 51.8h16.1v3.1h-16.1zM183 51.8h16.1v3.1h-16.1zM207 51.8h8.1v3.1h-8.1zM215 51.8h16.1v3.1h-16.1zM255 51.8h12.1v3.1h-12.1zM267 51.8h4.1v3.1h-4.1zM271 51.8h12.1v3.1h-12.1zM283 51.8h4.1v3.1h-4.1zM287 51.8h4.3v3.1h-4.3zM59 54.8h8.1v3.1h-8.1zM83 54.8h8.1v3.1h-8.1zM115 54.8h4.1v3.1h-4.1zM119 54.8h4.1v3.1h-4.1zM147 54.8h4.1v3.1h-4.1zM163 54.8h8.1v3.1h-8.1zM187 54.8h8.1v3.1h-8.1zM195 54.8h4.1v3.1h-4.1zM203 54.8h16.1v3.1h-16.1zM235 54.8h8.1v3.1h-8.1zM243 54.8h4.1v3.1h-4.1zM247 54.8h4.1v3.1h-4.1zM259 54.8h16.1v3.1h-16.1zM291 54.8h0.3v3.1h-0.3zM63 57.8h12.1v3.1h-12.1zM75 57.8h8.1v3.1h-8.1zM83 57.8h12.1v3.1h-12.1zM95 57.8h12.1v3.1h-12.1zM107 57.8h8.1v3.1h-8.1zM151 57.8h4.1v3.1h-4.1zM175 57.8h8.1v3.1h-8.1zM191 57.8h16.1v3.1h-16.1zM207 57.8h8.1v3.1h-8.1zM215 57.8h8.1v3.1h-8.1zM231 57.8h12.1v3.1h-12.1zM255 57.8h4.1v3.1h-4.1zM259 57.8h4.1v3.1h-4.1zM263 57.8h8.1v3.1h-8.1zM55 60.8h16.1v3.1h-16.1zM71 60.8h12.1v3.1h-12.1zM83 60.8h8.1v3.1h-8.1zM99 60.8h16.1v3.1h-16.1zM127 60.8h16.1v3.1h-16.1zM147 60.8h8.1v3.1h-8.1zM199 60.8h4.1v3.1h-4.1zM203 60.8h8.1v3.1h-8.1zM219 60.8h4.1v3.1h-4.1zM231 60.8h8.1v3.1h-8.1zM263 60.8h8.1v3.1h-8.1zM279 60.8h8.1v3.1h-8.1zM287 60.8h4.3v3.1h-4.3zM71 63.8h4.1v3.1h-4.1zM75 63.8h8.1v3.1h-8.1zM83 63.8h4.1v3.1h-4.1zM87 63.8h16.1v3.1h-16.1zM103 63.8h12.1v3.1h-12.1zM115 63.8h8.1v3.1h-8.1zM123 63.8h12.1v3.1h-12.1zM155 63.8h8.1v3.1h-8.1zM171 63.8h4.1v3.1h-4.1zM175 63.8h4.1v3.1h-4.1zM203 63.8h4.1v3.1h-4.1zM207 63.8h16.1v3.1h-16.1zM239 63.8h12.1v3.1h-12.1zM259 63.8h12.1v3.1h-12.1zM271 63.8h4.1v3.1h-4.1zM275 63.8h4.1v3.1h-4.1zM291 63.8h0.3v3.1h-0.3zM59 66.8h4.1v3.1h-4.1zM63 66.8h4.1v3.1h-4.1zM79 66.8h4.1v3.1h-4.1zM91 66.8h16.1v3.1h-16.1zM135 66.8h8.1v3.1h-8.1zM143 66.8h12.1v3.1h-12.1zM167 66.8h4.1v3.1h-4.1zM171 66.8h4.1v3.1h-4.1zM175 66.8h12.1v3.1h-12.1zM187 66.8h4.1v3.1h-4.1zM203 66.8h4.1v3.1h-4.1zM215 66.8h8.1v3.1h-8.1zM223 66.8h8.1v3.1h-8.1zM231 66.8h4.1v3.1h-4.1zM235 66.8h12.1v3.1h-12.1zM247 66.8h4.1v3.1h-4.1zM287 66.8h4.1v3.1h-4.1zM291 66.8h0.3v3.1h-0.3zM83 69.8h4.1v3.1h-4.1zM127 69.8h16.1v3.1h-16.1zM143 69.8h4.1v3.1h-4.1zM183 69.8h8.1v3.1h-8.1zM203 69.8h4.1v3.1h-4.1zM227 69.8h8.1v3.1h-8.1zM255 69.8h4.1v3.1h-4.1zM263 69.8h4.1v3.1h-4.1zM275 69.8h4.1v3.1h-4.1zM283 69.8h8.1v3.1h-8.1zM55 72.8h8.1v3.1h-8.1zM99 72.8h8.1v3.1h-8.1zM107 72.8h4.1v3.1h-4.1zM111 72.8h12.1v3.1h-12.1zM123 72.8h8.1v3.1h-8.1zM135 72.8h4.1v3.1h-4.1zM151 72.8h16.1v3.1h-16.1zM167 72.8h8.1v3.1h-8.1zM219 72.8h12.1v3.1h-12.1zM247 72.8h4.1v3.1h-4.1zM255 72.8h8.1v3.1h-8.1zM291 72.8h0.3v3.1h-0.3zM55 75.8h8.1v3.1h-8.1zM71 75.8h16.1v3.1h-16.1zM87 75.8h16.1v3.1h-16.1zM103 75.8h16.1v3.1h-16.1zM147 75.8h4.1v3.1h-4.1zM171 75.8h4.1v3.1h-4.1zM175 75.8h8.1v3.1h-8.1zM207 75.8h4.1v3.1h-4.1zM211 75.8h12.1v3.1h-12.1zM223 75.8h8.1v3.1h-8.1zM235 75.8h8.1v3.1h-8.1zM251 75.8h4.1v3.1h-4.1zM255 75.8h4.1v3.1h-4.1zM259 75.8h8.1v3.1h-8.1zM275 75.8h8.1v3.1h-8.1zM283 75.8h8.1v3.1h-8.1zM291 75.8h0.3v3.1h-0.3zM79 78.8h4.1v3.1h-4.1zM103 78.8h8.1v3.1h-8.1zM119 78.8h8.1v3.1h-8.1zM135 78.8h4.1v3.1h-4.1zM139 78.8h12.1v3.1h-12.1zM167 78.8h16.1v3.1h-16.1zM183 78.8h4.1v3.1h-4.1zM203 78.8h12.1v3.1h-12.1zM215 78.8h4.1v3.1h-4.1zM223 78.8h4.1v3.1h-4.1zM231 78.8h8.1v3.1h-8.1zM255 78.8h12.1v3.1h-12.1zM275 78.8h8.1v3.1h-8.1zM291 78.8h0.3v3.1h-0.3zM55 81.8h16.1v3.1h-16.1zM95 81.8h4.1v3.1h-4.1zM135 81.8h4.1v3.1h-4.1zM139 81.8h4.1v3.1h-4.1zM143 81.8h12.1v3.1h-12.1zM155 81.8h4.1v3.1h-4.1zM163 81.8h4.1v3.1h-4.1zM179 81.8h4.1v3.1h-4.1zM219 81.8h12.1v3.1h-12.1zM231 81.8h8.1v3.1h-8.1zM239 81.8h16.1v3.1h-16.1zM63 84.8h8.1v3.1h-8.1zM71 84.8h4.1v3.1h-4.1zM75 84.8h16.1v3.1h-16.1zM143 84.8h4.1v3.1h-4.1zM147 84.8h12.1v3.1h-12.1zM163 84.8h16.1v3.1h-16.1zM183 84.8h8.1v3.1h-8.1zM191 84.8h8.1v3.1h-8.1zM199 84.8h4.1v3.1h-4.1zM251 84.8h16.1v3.1h-16.1zM287 84.8h4.1v3.1h-4.1zM291 84.8h0.3v3.1h-0.3zM63 87.8h16.1v3.1h-16.1zM79 87.8h4.1v3.1h-4.1zM99 87.8h16.1v3.1h-16.1zM115 87.8h4.1v3.1h-4.1zM147 87.8h4.1v3.1h-4.1zM151 87.8h4.1v3.1h-4.1zM159 87.8h16.1v3.1h-16.1zM191 87.8h8.1v3.1h-8.1zM203 87.8h16.1v3.1h-16.1zM219 87.8h8.1v3.1h-8.1zM227 87.8h8.1v3.1h-8.1zM275 87.8h4.1v3.1h-4.1zM279 87.8h12.3v3.1h-12.3zM55 90.8h12.1v3.1h-12.1zM71 90.8h8.1v3.1h-8.1zM91 90.8h4.1v3.1h-4.1zM95 90.8h8.1v3.1h-8.1zM123 90.8h12.1v3.1h-12.1zM135 90.8h12.1v3.1h-12.1zM147 90.8h4.1v3.1h-4.1zM187 90.8h8.1v3.1h-8.1zM199 90.8h16.1v3.1h-16.1zM215 90.8h16.1v3.1h-16.1zM231 90.8h4.1v3.1h-4.1zM239 90.8h12.1v3.1h-12.1zM251 90.8h16.1v3.1h-16.1zM267 90.8h8.1v3.1h-8.1zM63 93.8h12.1v3.1h-12.1zM83 93.8h16.1v3.1h-16.1zM115 93.8h4.1v3.1h-4.1zM127 93.8h8.1v3.1h-8.1zM151 93.8h12.1v3.1h-12.1zM167 93.8h16.1v3.1h-16.1zM183 93.8h12.1v3.1h-12.1zM195 93.8h4.1v3.1h-4.1zM199 93.8h4.1v3.1h-4.1zM211 93.8h4.1v3.1h-4.1zM227 93.8h8.1v3.1h-8.1zM239 93.8h4.1v3.1h-4.1zM251 93.8h4.1v3.1h-4.1zM275 93.8h4.1v3.1h-4.1zM55 96.8h16.1v3.1h-16.1zM135 96.8h16.1v3.1h-16.1zM151 96.8h8.1v3.1h-8.1zM175 96.8h8.1v3.1h-8.1zM191 96.8h16.1v3.1h-16.1zM251 96.8h4.1v3.1h-4.1zM255 96.8h12.1v3.1h-12.1zM91 99.8h8.1v3.1h-8.1zM99 99.8h16.1v3.1h-16.1zM131 99.8h12.1v3.1h-12.1zM143 99.8h4.1v3.1h-4.1zM147 99.8h8.1v3.1h-8.1zM155 99.8h4.1v3.1h-4.1zM167 99.8h16.1v3.1h-16.1zM183 99.8h8.1v3.1h-8.1zM211 99.8h4.1v3.1h-4.1zM219 99.8h16.1v3.1h-16.1zM255 99.8h4.1v3.1h-4.1zM291 99.8h0.3v3.1h-0.3zM55 102.8h8.1v3.1h-8.1zM63 102.8h4.1v3.1h-4.1zM83 102.8h8.1v3.1h-8.1zM107 102.8h8.1v3.1h-8.1zM115 102.8h8.1v3.1h-8.1zM131 102.8h16.1v3.1h-16.1zM147 102.8h8.1v3.1h-8.1zM163 102.8h4.1v3.1h-4.1zM191 102.8h16.1v3.1h-16.1zM207 102.8h12.1v3.1h-12.1zM239 102.8h12.1v3.1h-12.1zM283 102.8h8.1v3.1h-8.1zM291 102.8h0.3v3.1h-0.3zM83 105.8h12.1v3.1h-12.1zM115 105.8h8.1v3.1h-8.1zM127 105.8h4.1v3.1h-4.1zM167 105.8h16.1v3.1h-16.1zM183 105.8h16.1v3.1h-16.1zM199 105.8h16.1v3.1h-16.1zM215 105.8h12.1v3.1h-12.1zM251 105.8h4.1v3.1h-4.1zM271 105.8h4.1v3.1h-4.1zM275 105.8h16.1v3.1h-16.1zM67 108.8h4.1v3.1h-4.1zM79 108.8h12.1v3.1h-12.1zM91 108.8h8.1v3.1h-8.1zM111 108.8h12.1v3.1h-12.1zM127 108.8h4.1v3.1h-4.1zM143 108.8h16.1v3.1h-16.1zM159 108.8h4.1v3.1h-4.1zM179 108.8h8.1v3.1h-8.1zM187 108.8h4.1v3.1h-4.1zM199 108.8h16.1v3.1h-16.1zM219 108.8h12.1v3.1h-12.1zM251 108.8h16.1v3.1h-16.1zM279 108.8h4.1v3.1h-4.1zM55 111.8h16.1v3.1h-16.1zM87 111.8h8.1v3.1h-8.1zM95 111.8h4.1v3.1h-4.1zM115 111.8h12.1v3.1h-12.1zM175 111.8h12.1v3.1h-12.1zM207 111.8h8.1v3.1h-8.1zM231 111.8h4.1v3.1h-4.1zM235 111.8h4.1v3.1h-4.1zM239 111.8h4.1v3.1h-4.1zM243 111.8h12.1v3.1h-12.1zM271 111.8h4.1v3.1h-4.1zM55 114.8h4.1v3.1h-4.1zM87 114.8h4.1v3.1h-4.1zM107 114.8h12.1v3.1h-12.1zM119 114.8h8.1v3.1h-8.1zM127 114.8h12.1v3.1h-12.1zM147 114.8h8.1v3.1h-8.1zM179 114.8h4.1v3.1h-4.1zM183 114.8h16.1v3.1h-16.1zM211 114.8h12.1v3.1h-12.1zM223 114.8h8.1v3.1h-8.1zM247 114.8h12.1v3.1h-12.1zM55 117.8h4.1v3.1h-4.1zM59 117.8h16.1v3.1h-16.1zM87 117.8h8.1v3.1h-8.1zM95 117.8h8.1v3.1h-8.1zM103 117.8h4.1v3.1h-4.1zM111 117.8h12.1v3.1h-12.1zM135 117.8h8.1v3.1h-8.1zM163 117.8h4.1v3.1h-4.1zM211 117.8h4.1v3.1h-4.1zM231 117.8h12.1v3.1h-12.1zM255 117.8h4.1v3.1h-4.1zM259 117.8h4.1v3.1h-4.1zM263 117.8h16.1v3.1h-16.1zM55 120.8h4.1v3.1h-4.1zM59 120.8h8.1v3.1h-8.1zM67 120.8h4.1v3.1h-4.1zM79 120.8h4.1v3.1h-4.1zM83 120.8h4.1v3.1h-4.1zM99 120.8h4.1v3.1h-4.1zM115 120.8h12.1v3.1h-12.1zM155 120.8h8.1v3.1h-8.1zM163 120.8h4.1v3.1h-4.1zM167 120.8h4.1v3.1h-4.1zM171 120.8h12.1v3.1h-12.1zM203 120.8h16.1v3.1h-16.1zM223 120.8h4.1v3.1h-4.1zM227 120.8h12.1v3.1h-12.1zM263 120.8h4.1v3.1h-4.1zM271 120.8h4.1v3.1h-4.1zM287 120.8h4.1v3.1h-4.1zM71 123.8h8.1v3.1h-8.1zM79 123.8h4.1v3.1h-4.1zM115 123.8h16.1v3.1h-16.1zM131 123.8h8.1v3.1h-8.1zM139 123.8h8.1v3.1h-8.1zM147 123.8h8.1v3.1h-8.1zM155 123.8h8.1v3.1h-8.1zM179 123.8h4.1v3.1h-4.1zM187 123.8h16.1v3.1h-16.1zM215 123.8h16.1v3.1h-16.1zM231 123.8h8.1v3.1h-8.1zM243 123.8h16.1v3.1h-16.1zM259 123.8h8.1v3.1h-8.1zM267 123.8h4.1v3.1h-4.1zM283 123.8h4.1v3.1h-4.1zM287 123.8h4.3v3.1h-4.3zM55 126.8h4.1v3.1h-4.1zM59 126.8h8.1v3.1h-8.1zM67 126.8h4.1v3.1h-4.1zM71 126.8h4.1v3.1h-4.1zM75 126.8h8.1v3.1h-8.1zM83 126.8h12.1v3.1h-12.1zM111 126.8h8.1v3.1h-8.1zM131 126.8h4.1v3.1h-4.1zM143 126.8h8.1v3.1h-8.1zM151 126.8h16.1v3.1h-16.1zM167 126.8h12.1v3.1h-12.1zM183 126.8h12.1v3.1h-12.1zM203 126.8h8.1v3.1h-8.1zM211 126.8h12.1v3.1h-12.1zM255 126.8h8.1v3.1h-8.1zM287 126.8h4.1v3.1h-4.1zM67 129.8h8.1v3.1h-8.1zM79 129.8h8.1v3.1h-8.1zM91 129.8h8.1v3.1h-8.1zM99 129.8h16.1v3.1h-16.1zM119 129.8h8.1v3.1h-8.1zM127 129.8h16.1v3.1h-16.1zM167 129.8h4.1v3.1h-4.1zM171 129.8h16.1v3.1h-16.1zM203 129.8h4.1v3.1h-4.1zM223 129.8h12.1v3.1h-12.1zM243 129.8h4.1v3.1h-4.1zM255 129.8h4.1v3.1h-4.1zM275 129.8h8.1v3.1h-8.1zM83 132.8h16.1v3.1h-16.1zM99 132.8h8.1v3.1h-8.1zM115 132.8h8.1v3.1h-8.1zM175 132.8h12.1v3.1h-12.1zM227 132.8h12.1v3.1h-12.1zM239 132.8h12.1v3.1h-12.1zM275 132.8h8.1v3.1h-8.1zM283 132.8h4.1v3.1h-4.1zM287 132.8h4.3v3.1h-4.3zM55 135.8h16.1v3.1h-16.1zM91 135.8h4.1v3.1h-4.1zM147 135.8h8.1v3.1h-8.1zM159 135.8h4.1v3.1h-4.1zM163 135.8h8.1v3.1h-8.1zM171 135.8h4.1v3.1h-4.1zM191 135.8h8.1v3.1h-8.1zM211 135.8h8.1v3.1h-8.1zM259 135.8h12.1v3.1h-12.1zM279 135.8h8.1v3.1h-8.1zM287 135.8h4.3v3.1h-4.3zM67 138.8h12.1v3.1h-12.1zM79 138.8h8.1v3.1h-8.1zM87 138.8h4.1v3.1h-4.1zM103 138.8h4.1v3.1h-4.1zM107 138.8h4.1v3.1h-4.1zM127 138.8h8.1v3.1h-8.1zM159 138.8h16.1v3.1h-16.1zM175 138.8h16.1v3.1h-16.1zM203 138.8h12.1v3.1h-12.1zM219 138.8h8.1v3.1h-8.1zM243 138.8h16.1v3.1h-16.1zM259 138.8h4.1v3.1h-4.1zM275 138.8h8.1v3.1h-8.1zM283 138.8h8.3v3.1h-8.3zM59 141.8h12.1v3.1h-12.1zM87 141.8h8.1v3.1h-8.1zM119 141.8h8.1v3.1h-8.1zM127 141.8h8.1v3.1h-8.1zM151 141.8h12.1v3.1h-12.1zM163 141.8h8.1v3.1h-8.1zM183 141.8h8.1v3.1h-8.1zM195 141.8h4.1v3.1h-4.1zM207 141.8h8.1v3.1h-8.1zM259 141.8h8.1v3.1h-8.1zM267 141.8h8.1v3.1h-8.1zM275 141.8h16.1v3.1h-16.1zM55 144.8h12.1v3.1h-12.1zM67 144.8h8.1v3.1h-8.1zM83 144.8h12.1v3.1h-12.1zM111 144.8h12.1v3.1h-12.1zM135 144.8h4.1v3.1h-4.1zM139 144.8h8.1v3.1h-8.1zM151 144.8h12.1v3.1h-12.1zM167 144.8h16.1v3.1h-16.1zM195 144.8h12.1v3.1h-12.1zM207 144.8h12.1v3.1h-12.1zM227 144.8h12.1v3.1h-12.1zM275 144.8h4.1v3.1h-4.1zM55 147.8h8.1v3.1h-8.1zM67 147.8h16.1v3.1h-16.1zM107 147.8h12.1v3.1h-12.1zM119 147.8h12.1v3.1h-12.1zM135 147.8h12.1v3.1h-12.1zM147 147.8h4.1v3.1h-4.1zM191 147.8h8.1v3.1h-8.1zM199 147.8h4.1v3.1h-4.1zM203 147.8h4.1v3.1h-4.1zM207 147.8h16.1v3.1h-16.1zM223 147.8h12.1v3.1h-12.1zM239 147.8h8.1v3.1h-8.1zM267 147.8h12.1v3.1h-12.1zM279 147.8h4.1v3.1h-4.1zM55 150.8h8.1v3.1h-8.1zM63 150.8h8.1v3.1h-8.1zM71 150.8h12.1v3.1h-12.1zM87 150.8h4.1v3.1h-4.1zM99 150.8h12.1v3.1h-12.1zM111 150.8h8.1v3.1h-8.1zM135 150.8h4.1v3.1h-4.1zM139 150.8h4.1v3.1h-4.1zM143 150.8h4.1v3.1h-4.1zM147 150.8h8.1v3.1h-8.1zM155 150.8h8.1v3.1h-8.1zM195 150.8h8.1v3.1h-8.1zM203 150.8h8.1v3.1h-8.1zM211 150.8h8.1v3.1h-8.1zM219 150.8h16.1v3.1h-16.1zM235 150.8h4.1v3.1h-4.1zM239 150.8h4.1v3.1h-4.1zM263 150.8h4.1v3.1h-4.1zM267 150.8h8.1v3.1h-8.1zM275 150.8h8.1v3.1h-8.1zM283 150.8h8.3v3.1h-8.3zM67 153.8h16.1v3.1h-16.1zM95 153.8h12.1v3.1h-12.1zM139 153.8h8.1v3.1h-8.1zM163 153.8h8.1v3.1h-8.1zM171 153.8h16.1v3.1h-16.1zM191 153.8h4.1v3.1h-4.1zM211 153.8h8.1v3.1h-8.1zM219 153.8h16.1v3.1h-16.1zM235 153.8h4.1v3.1h-4.1zM239 153.8h16.1v3.1h-16.1zM279 153.8h4.1v3.1h-4.1zM55 156.8h16.1v3.1h-16.1zM71 156.8h8.1v3.1h-8.1zM99 156.8h8.1v3.1h-8.1zM107 156.8h16.1v3.1h-16.1zM123 156.8h8.1v3.1h-8.1zM159 156.8h8.1v3.1h-8.1zM171 156.8h8.1v3.1h-8.1zM179 156.8h16.1v3.1h-16.1zM235 156.8h12.1v3.1h-12.1zM247 156.8h4.1v3.1h-4.1zM251 156.8h16.1v3.1h-16.1zM287 156.8h4.3v3.1h-4.3zM55 159.8h8.1v2.6h-8.1zM75 159.8h16.1v2.6h-16.1zM107 159.8h4.1v2.6h-4.1zM111 159.8h4.1v2.6h-4.1zM163 159.8h12.1v2.6h-12.1zM175 159.8h16.1v2.6h-16.1zM211 159.8h4.1v2.6h-4.1zM231 159.8h12.1v2.6h-12.1zM243 159.8h12.1v2.6h-12.1zM255 159.8h16.1v2.6h-16.1zM271 159.8h8.1v2.6h-8.1zM279 159.8h4.1v2.6h-4.1z"/><path fill="#e01800" d="M135 18.8h4.1v3.1h-4.1zM279 24.8h4.1v3.1h-4.1zM127 27.8h4.1v3.1h-4.1zM191 27.8h4.1v3.1h-4.1zM215 27.8h4.1v3.1h-4.1zM99 30.8h4.1v3.1h-4.1zM119 30.8h4.1v3.1h-4.1zM91 33.8h4.1v3.1h-4.1zM223 33.8h4.1v3.1h-4.1zM103 36.8h4.1v3.1h-4.1zM207 36.8h4.1v3.1h-4.1zM59 39.8h4.1v3.1h-4.1zM107 39.8h4.1v3.1h-4.1zM143 39.8h4.1v3.1h-4.1zM183 39.8h4.1v3.1h-4.1zM219 39.8h4.1v3.1h-4.1zM235 39.8h4.1v3.1h-4.1zM119 45.8h4.1v3.1h-4.1zM227 45.8h4.1v3.1h-4.1zM275 45.8h4.1v3.1h-4.1zM63 48.8h4.1v3.1h-4.1zM215 48.8h4.1v3.1h-4.1zM95 54.8h4.1v3.1h-4.1zM159 54.8h4.1v3.1h-4.1zM255 54.8h4.1v3.1h-4.1zM131 57.8h4.1v3.1h-4.1zM243 57.8h4.1v3.1h-4.1zM91 60.8h4.1v3.1h-4.1zM75 66.8h4.1v3.1h-4.1zM55 69.8h4.1v3.1h-4.1zM123 69.8h4.1v3.1h-4.1zM279 69.8h4.1v3.1h-4.1zM131 72.8h4.1v3.1h-4.1zM251 72.8h4.1v3.1h-4.1zM151 75.8h4.1v3.1h-4.1zM231 75.8h4.1v3.1h-4.1zM55 78.8h4.1v3.1h-4.1zM151 78.8h4.1v3.1h-4.1zM131 84.8h4.1v3.1h-4.1zM59 87.8h4.1v3.1h-4.1zM119 90.8h4.1v3.1h-4.1zM163 93.8h4.1v3.1h-4.1zM203 93.8h4.1v3.1h-4.1zM207 93.8h4.1v3.1h-4.1zM215 93.8h4.1v3.1h-4.1zM263 93.8h4.1v3.1h-4.1zM199 99.8h4.1v3.1h-4.1zM107 108.8h4.1v3.1h-4.1zM163 111.8h4.1v3.1h-4.1zM175 114.8h4.1v3.1h-4.1zM143 120.8h4.1v3.1h-4.1zM267 120.8h4.1v3.1h-4.1zM119 126.8h4.1v3.1h-4.1zM123 126.8h4.1v3.1h-4.1zM163 129.8h4.1v3.1h-4.1zM235 129.8h4.1v3.1h-4.1zM95 144.8h4.1v3.1h-4.1zM239 144.8h4.1v3.1h-4.1zM103 147.8h4.1v3.1h-4.1zM83 150.8h4.1v3.1h-4.1zM175 150.8h4.1v3.1h-4.1zM83 153.8h4.1v3.1h-4.1zM91 153.8h4.1v3.1h-4.1zM95 156.8h4.1v3.1h-4.1zM283 156.8h4.1v3.1h-4.1z"/><path fill="#ff9a00" d="M55 67h3.1v3.1h-3.1zM55 70h4.1v3.1h-4.1zM73 79h6.1v3.1h-6.1zM55 82h3.1v3.1h-3.1zM70 85h4.1v3.1h-4.1zM83 85h5.1v3.1h-5.1zM97 85h3.1v3.1h-3.1zM55 88h3.1v3.1h-3.1zM88 88h4.1v3.1h-4.1zM88 94h4.1v3.1h-4.1zM75 100h6.1v3.1h-6.1zM137 67h6.1v3.1h-6.1zM149 67h4.1v3.1h-4.1zM133 70h3.1v3.1h-3.1zM147 70h4.1v3.1h-4.1zM158 76h4.1v3.1h-4.1zM115 88h4.1v3.1h-4.1zM140 97h5.1v3.1h-5.1zM149 100h4.1v3.1h-4.1zM213 67h3.1v3.1h-3.1zM227 67h4.1v3.1h-4.1zM227 70h4.1v3.1h-4.1zM175 76h2.1v3.1h-2.1zM190 85h5.1v3.1h-5.1zM188 94h5.1v3.1h-5.1zM215 94h5.1v3.1h-5.1zM217 97h5.1v3.1h-5.1zM185 100h5.1v3.1h-5.1zM218 100h5.1v3.1h-5.1zM245 67h4.1v3.1h-4.1zM275 67h4.1v3.1h-4.1zM246 70h4.1v3.1h-4.1zM265 70h4.1v3.1h-4.1zM277 70h4.1v3.1h-4.1zM262 73h3.1v3.1h-3.1zM260 88h7.1v3.1h-7.1zM283 97h5.1v3.1h-5.1zM105 106h4.1v3.1h-4.1zM63 124h4.1v3.1h-4.1zM55 127h3.1v3.1h-3.1zM99 127h4.1v3.1h-4.1zM97 136h4.1v3.1h-4.1zM145 130h4.1v3.1h-4.1zM235 106h4.1v3.1h-4.1zM235 112h4.1v3.1h-4.1zM79 18.8h5.4v3.3h-5.4zM108.3 18.8h6.8v3.3h-6.8zM72.3 25h4.1v3.1h-4.1zM81.7 25h6.8v3.1h-6.8zM76.3 28h5.4v3.1h-5.4zM103 31h4.1v3.1h-4.1zM95 37h4.1v3.1h-4.1zM73.7 40h4.1v3.1h-4.1zM83 40h6.8v3.1h-6.8zM99 40h5.4v3.1h-5.4zM72.3 43h5.4v3.1h-5.4zM71 46h6.8v3.1h-6.8zM92.3 52h5.4v3.1h-5.4zM55 58h4.1v3.1h-4.1zM71 58h5.4v3.1h-5.4zM115 18.8h5.4v3.3h-5.4zM155 18.8h5.4v3.3h-5.4zM120.3 22h5.4v3.1h-5.4zM160.3 22h4.1v3.1h-4.1zM120.3 25h5.4v3.1h-5.4zM155 25h6.8v3.1h-6.8zM141.7 28h4.1v3.1h-4.1zM159 31h4.1v3.1h-4.1zM136.3 40h5.4v3.1h-5.4zM128.3 58h4.1v3.1h-4.1zM183 25h4.1v3.1h-4.1zM228.3 28h6.8v3.1h-6.8zM228.3 31h6.8v3.1h-6.8zM175 40h4.1v3.1h-4.1zM223 43h4.1v3.1h-4.1zM201.7 46h4.1v3.1h-4.1zM221.7 46h6.8v3.1h-6.8zM183 58h5.4v3.1h-5.4zM205.7 58h4.1v3.1h-4.1zM228.3 58h6.8v3.1h-6.8zM213.7 64h4.1v3.1h-4.1zM240.3 22h2.8v3.1h-2.8zM259 25h8.1v3.1h-8.1zM244.3 28h4.1v3.1h-4.1zM272.3 28h5.4v3.1h-5.4zM271 34h4.1v3.1h-4.1zM240.3 37h6.8v3.1h-6.8zM240.3 43h5.4v3.1h-5.4zM261.7 43h4.1v3.1h-4.1zM256.3 49h8.1v3.1h-8.1zM55 139h5v3.1h-5zM79.3 139h5v3.1h-5zM92 139h5v3.1h-5zM69.6 151h5v3.1h-5zM60.8 157h11.8v3.1h-11.8zM93.9 157h9.8v3.1h-9.8zM115 139h3v3.1h-3zM144.2 139h4v3.1h-4zM168.5 148h6.6v3.1h-6.6zM134.5 151h4v3.1h-4zM149 160h9.8v2.4h-9.8zM208.1 145h4v3.1h-4zM194.5 148h5v3.1h-5zM208.1 148h4v3.1h-4zM202.2 151h2v3.1h-2zM192.5 154h11.8v3.1h-11.8zM227.5 154h7.6v3.1h-7.6zM184.7 160h5v2.4h-5zM264.2 139h5.9v3.1h-5.9zM285.6 139h5.6v3.1h-5.6zM235 154h9.8v3.1h-9.8zM278.8 154h3v3.1h-3zM262.2 157h6.9v3.1h-6.9zM278.8 157h5v3.1h-5zM273.9 160h5v2.4h-5z"/><path fill="#ffff14" d="M58 67h6.1v3.1h-6.1zM59 70h7.1v3.1h-7.1zM83 70h6.1v3.1h-6.1zM58 73h4.1v3.1h-4.1zM84 73h5.1v3.1h-5.1zM111 73h4.1v3.1h-4.1zM55 79h4.1v3.1h-4.1zM58 82h5.1v3.1h-5.1zM83 82h5.1v3.1h-5.1zM66 85h4.1v3.1h-4.1zM74 85h5.1v3.1h-5.1zM74 88h4.1v3.1h-4.1zM83 88h5.1v3.1h-5.1zM55 91h6.1v3.1h-6.1zM85 91h6.1v3.1h-6.1zM55 94h6.1v3.1h-6.1zM67 94h7.1v3.1h-7.1zM78 97h7.1v3.1h-7.1zM55 100h4.1v3.1h-4.1zM151 70h4.1v3.1h-4.1zM126 73h14.1v3.1h-14.1zM148 73h5.1v3.1h-5.1zM146 76h5.1v3.1h-5.1zM162 76h5.1v3.1h-5.1zM126 82h12.1v3.1h-12.1zM115 85h5.1v3.1h-5.1zM126 85h14.1v3.1h-14.1zM149 85h6.1v3.1h-6.1zM119 88h4.1v3.1h-4.1zM126 88h7.1v3.1h-7.1zM149 88h4.1v3.1h-4.1zM171 88h4.1v3.1h-4.1zM119 91h7.1v3.1h-7.1zM127 91h5.1v3.1h-5.1zM145 91h3.1v3.1h-3.1zM160 91h4.1v3.1h-4.1zM119 94h6.1v3.1h-6.1zM118 97h8.1v3.1h-8.1zM145 97h5.1v3.1h-5.1zM175 70h4.1v3.1h-4.1zM212 70h5.1v3.1h-5.1zM195 73h7.1v3.1h-7.1zM213 73h7.1v3.1h-7.1zM229 73h3.1v3.1h-3.1zM185 76h8.1v3.1h-8.1zM211 79h4.1v3.1h-4.1zM178 82h7.1v3.1h-7.1zM185 82h8.1v3.1h-8.1zM197 88h4.1v3.1h-4.1zM205 88h4.1v3.1h-4.1zM175 91h4.1v3.1h-4.1zM184 94h4.1v3.1h-4.1zM183 97h5.1v3.1h-5.1zM198 100h4.1v3.1h-4.1zM249 67h6.1v3.1h-6.1zM259 67h5.1v3.1h-5.1zM268 67h7.1v3.1h-7.1zM283 67h5.1v3.1h-5.1zM260 70h5.1v3.1h-5.1zM285 70h3.1v3.1h-3.1zM235 73h2.1v3.1h-2.1zM253 73h4.1v3.1h-4.1zM265 73h4.1v3.1h-4.1zM261 76h4.1v3.1h-4.1zM279 76h3.1v3.1h-3.1zM250 79h5.1v3.1h-5.1zM282 85h6.1v3.1h-6.1zM241 88h7.1v3.1h-7.1zM254 88h6.1v3.1h-6.1zM273 88h4.1v3.1h-4.1zM273 91h2.1v3.1h-2.1zM281 91h4.1v3.1h-4.1zM235 94h5.1v3.1h-5.1zM245 94h4.1v3.1h-4.1zM261 94h3.1v3.1h-3.1zM282 94h6.1v3.1h-6.1zM246 97h4.1v3.1h-4.1zM278 100h4.1v3.1h-4.1zM55 103h3.1v3.1h-3.1zM66 109h3.1v3.1h-3.1zM105 109h10.1v3.1h-10.1zM73 112h20.1v3.1h-20.1zM67 115h12.1v3.1h-12.1zM85 115h8.1v3.1h-8.1zM63 118h3.1v3.1h-3.1zM82 118h11.1v3.1h-11.1zM109 118h6.1v3.1h-6.1zM84 121h11.1v3.1h-11.1zM109 121h6.1v3.1h-6.1zM67 124h8.1v3.1h-8.1zM99 124h4.1v3.1h-4.1zM107 124h8.1v3.1h-8.1zM80 127h13.1v3.1h-13.1zM103 127h12.1v3.1h-12.1zM64 130h7.1v3.1h-7.1zM80 130h11.1v3.1h-11.1zM105 130h10.1v3.1h-10.1zM63 133h10.1v3.1h-10.1zM81 133h8.1v3.1h-8.1zM93 133h8.1v3.1h-8.1zM107 133h8.1v3.1h-8.1zM55 136h10.1v3.1h-10.1zM70 136h5.1v3.1h-5.1zM88 136h9.1v3.1h-9.1zM171 103h4.1v3.1h-4.1zM138 106h6.1v3.1h-6.1zM150 106h7.1v3.1h-7.1zM170 106h5.1v3.1h-5.1zM115 109h10.1v3.1h-10.1zM141 109h4.1v3.1h-4.1zM151 109h8.1v3.1h-8.1zM141 112h8.1v3.1h-8.1zM155 112h5.1v3.1h-5.1zM138 115h9.1v3.1h-9.1zM168 115h7.1v3.1h-7.1zM137 118h10.1v3.1h-10.1zM169 118h6.1v3.1h-6.1zM115 121h10.1v3.1h-10.1zM167 121h8.1v3.1h-8.1zM115 124h4.1v3.1h-4.1zM123 124h4.1v3.1h-4.1zM142 124h10.1v3.1h-10.1zM157 124h11.1v3.1h-11.1zM145 127h8.1v3.1h-8.1zM115 130h3.1v3.1h-3.1zM139 130h6.1v3.1h-6.1zM149 130h16.1v3.1h-16.1zM115 133h6.1v3.1h-6.1zM125 133h3.1v3.1h-3.1zM138 133h7.1v3.1h-7.1zM155 133h8.1v3.1h-8.1zM167 133h8.1v3.1h-8.1zM115 136h13.1v3.1h-13.1zM183 103h3.1v3.1h-3.1zM231 103h4.1v3.1h-4.1zM213 106h5.1v3.1h-5.1zM223 106h12.1v3.1h-12.1zM180 109h6.1v3.1h-6.1zM227 109h8.1v3.1h-8.1zM207 112h8.1v3.1h-8.1zM225 112h10.1v3.1h-10.1zM179 115h6.1v3.1h-6.1zM198 115h17.1v3.1h-17.1zM175 118h3.1v3.1h-3.1zM193 118h8.1v3.1h-8.1zM209 118h4.1v3.1h-4.1zM227 118h8.1v3.1h-8.1zM198 121h17.1v3.1h-17.1zM221 121h6.1v3.1h-6.1zM231 121h4.1v3.1h-4.1zM179 124h8.1v3.1h-8.1zM194 124h6.1v3.1h-6.1zM195 127h8.1v3.1h-8.1zM219 127h4.1v3.1h-4.1zM228 127h7.1v3.1h-7.1zM203 130h10.1v3.1h-10.1zM181 133h12.1v3.1h-12.1zM197 133h5.1v3.1h-5.1zM182 136h8.1v3.1h-8.1zM195 136h7.1v3.1h-7.1zM257 103h2.1v3.1h-2.1zM269 103h8.1v3.1h-8.1zM239 106h5.1v3.1h-5.1zM256 106h3.1v3.1h-3.1zM273 106h4.1v3.1h-4.1zM239 109h5.1v3.1h-5.1zM275 109h3.1v3.1h-3.1zM270 112h7.1v3.1h-7.1zM241 115h3.1v3.1h-3.1zM268 115h11.1v3.1h-11.1zM235 118h9.1v3.1h-9.1zM254 118h7.1v3.1h-7.1zM283 118h8.1v3.1h-8.1zM254 121h10.1v3.1h-10.1zM241 124h9.1v3.1h-9.1zM255 124h6.1v3.1h-6.1zM235 127h24.1v3.1h-24.1zM285 127h6.1v3.1h-6.1zM247 130h18.1v3.1h-18.1zM269 130h10.1v3.1h-10.1zM235 133h15.1v3.1h-15.1zM235 136h13.1v3.1h-13.1zM271 136h7.1v3.1h-7.1zM285 136h6.1v3.1h-6.1zM72.3 22h5.4v3.1h-5.4zM85.7 22h9.4v3.1h-9.4zM103 22h12.1v3.1h-12.1zM88.3 25h6.8v3.1h-6.8zM104.3 25h6.8v3.1h-6.8zM87 28h5.4v3.1h-5.4zM92.3 31h10.8v3.1h-10.8zM111 31h4.1v3.1h-4.1zM88.3 34h9.4v3.1h-9.4zM108.3 34h6.8v3.1h-6.8zM99 37h9.4v3.1h-9.4zM67 40h6.8v3.1h-6.8zM89.7 40h9.4v3.1h-9.4zM55 43h2.8v3.1h-2.8zM77.7 43h4.1v3.1h-4.1zM85.7 43h13.4v3.1h-13.4zM108.3 43h6.8v3.1h-6.8zM60.3 46h5.4v3.1h-5.4zM95 46h5.4v3.1h-5.4zM108.3 46h6.8v3.1h-6.8zM95 49h8.1v3.1h-8.1zM55 52h8.1v3.1h-8.1zM97.7 52h10.8v3.1h-10.8zM55 55h6.8v3.1h-6.8zM72.3 55h5.4v3.1h-5.4zM91 55h8.1v3.1h-8.1zM108.3 55h6.8v3.1h-6.8zM92.3 58h6.8v3.1h-6.8zM55 61h8.1v3.1h-8.1zM95 61h8.1v3.1h-8.1zM60.3 64h9.4v3.1h-9.4zM89.7 64h5.4v3.1h-5.4zM120.3 18.8h8.1v3.3h-8.1zM148.3 18.8h6.8v3.3h-6.8zM160.3 18.8h14.8v3.3h-14.8zM125.7 22h8.1v3.1h-8.1zM141.7 22h8.1v3.1h-8.1zM125.7 25h5.4v3.1h-5.4zM139 25h9.4v3.1h-9.4zM161.7 25h13.4v3.1h-13.4zM123 28h9.4v3.1h-9.4zM145.7 28h9.4v3.1h-9.4zM132.3 31h9.4v3.1h-9.4zM128.3 34h8.1v3.1h-8.1zM144.3 34h10.8v3.1h-10.8zM115 37h10.8v3.1h-10.8zM133.7 37h5.4v3.1h-5.4zM159 37h16.1v3.1h-16.1zM148.3 40h9.4v3.1h-9.4zM165.7 40h9.4v3.1h-9.4zM115 43h4.1v3.1h-4.1zM125.7 43h8.1v3.1h-8.1zM127 46h5.4v3.1h-5.4zM151 49h24.1v3.1h-24.1zM128.3 52h5.4v3.1h-5.4zM159 52h9.4v3.1h-9.4zM119 55h2.8v3.1h-2.8zM128.3 55h6.8v3.1h-6.8zM115 61h4.1v3.1h-4.1zM128.3 61h8.1v3.1h-8.1zM159 61h10.8v3.1h-10.8zM124.3 64h12.1v3.1h-12.1zM149.7 64h18.8v3.1h-18.8zM175 18.8h5.4v3.3h-5.4zM223 18.8h12.1v3.3h-12.1zM175 22h4.1v3.1h-4.1zM208.3 22h10.8v3.1h-10.8zM228.3 22h6.8v3.1h-6.8zM180.3 25h2.8v3.1h-2.8zM187 25h9.4v3.1h-9.4zM228.3 25h4.1v3.1h-4.1zM180.3 31h6.8v3.1h-6.8zM195 31h9.4v3.1h-9.4zM177.7 34h4.1v3.1h-4.1zM201.7 34h10.8v3.1h-10.8zM221.7 34h13.4v3.1h-13.4zM175 37h5.4v3.1h-5.4zM187 37h5.4v3.1h-5.4zM204.3 37h10.8v3.1h-10.8zM179 40h2.8v3.1h-2.8zM187 40h8.1v3.1h-8.1zM205.7 40h6.8v3.1h-6.8zM216.3 40h12.1v3.1h-12.1zM175 43h8.1v3.1h-8.1zM191 43h8.1v3.1h-8.1zM207 43h2.8v3.1h-2.8zM215 43h8.1v3.1h-8.1zM180.3 46h5.4v3.1h-5.4zM193.7 46h8.1v3.1h-8.1zM205.7 46h9.4v3.1h-9.4zM228.3 46h6.8v3.1h-6.8zM175 49h8.1v3.1h-8.1zM189.7 49h8.1v3.1h-8.1zM212.3 49h5.4v3.1h-5.4zM175 52h4.1v3.1h-4.1zM184.3 52h6.8v3.1h-6.8zM228.3 52h6.8v3.1h-6.8zM189.7 55h5.4v3.1h-5.4zM200.3 55h4.1v3.1h-4.1zM188.3 58h5.4v3.1h-5.4zM205.7 61h2.8v3.1h-2.8zM217.7 61h10.8v3.1h-10.8zM235 18.8h6.8v3.3h-6.8zM235 22h5.4v3.1h-5.4zM243 22h6.8v3.1h-6.8zM259 22h6.8v3.1h-6.8zM275 22h10.8v3.1h-10.8zM239 25h9.4v3.1h-9.4zM267 25h10.8v3.1h-10.8zM235 28h4.1v3.1h-4.1zM248.3 28h8.1v3.1h-8.1zM264.3 28h8.1v3.1h-8.1zM277.7 28h8.1v3.1h-8.1zM247 31h8.1v3.1h-8.1zM265.7 31h9.4v3.1h-9.4zM261.7 34h9.4v3.1h-9.4zM275 34h6.8v3.1h-6.8zM247 37h9.4v3.1h-9.4zM280.3 37h6.8v3.1h-6.8zM239 40h6.8v3.1h-6.8zM261.7 40h8.1v3.1h-8.1zM245.7 43h12.1v3.1h-12.1zM265.7 43h13.4v3.1h-13.4zM285.7 43h5.4v3.1h-5.4zM235 46h8.1v3.1h-8.1zM263 46h9.4v3.1h-9.4zM279 46h9.4v3.1h-9.4zM247 49h9.4v3.1h-9.4zM264.3 49h8.1v3.1h-8.1zM279 49h12.1v3.1h-12.1zM247 52h12.1v3.1h-12.1zM268.3 52h10.8v3.1h-10.8zM235 55h8.1v3.1h-8.1zM255 55h12.1v3.1h-12.1zM275 58h10.8v3.1h-10.8zM243 61h8.1v3.1h-8.1zM261.7 61h9.4v3.1h-9.4zM59.9 139h9.8v3.1h-9.8zM84.2 139h7.9v3.1h-7.9zM96.8 139h12.7v3.1h-12.7zM57.9 142h11.8v3.1h-11.8zM55 145h3v3.1h-3zM69.6 145h5v3.1h-5zM74.5 151h7.9v3.1h-7.9zM60.8 154h8.9v3.1h-8.9zM78.3 154h5.9v3.1h-5.9zM55 157h5.9v3.1h-5.9zM103.6 157h5.9v3.1h-5.9zM134.5 139h9.8v3.1h-9.8zM148.1 139h10.8v3.1h-10.8zM135.4 142h8.9v3.1h-8.9zM158.8 142h5v3.1h-5zM169.5 142h5.6v3.1h-5.6zM153.9 145h7.9v3.1h-7.9zM169.5 145h5.6v3.1h-5.6zM122.8 148h6.9v3.1h-6.9zM144.2 148h9.8v3.1h-9.8zM138.3 151h7.9v3.1h-7.9zM151 151h24.1v3.1h-24.1zM144.2 154h9.8v3.1h-9.8zM163.6 154h11.5v3.1h-11.5zM115 157h9.8v3.1h-9.8zM134.5 157h14.7v3.1h-14.7zM158.8 157h16.3v3.1h-16.3zM115 160h19.6v2.4h-19.6zM169.5 160h5.6v2.4h-5.6zM175 139h9.8v3.1h-9.8zM223.6 139h11.5v3.1h-11.5zM214.9 142h8.9v3.1h-8.9zM175 148h5.9v3.1h-5.9zM199.3 148h8.9v3.1h-8.9zM212 148h23.2v3.1h-23.2zM180.8 151h13.7v3.1h-13.7zM223.6 151h11.5v3.1h-11.5zM175 154h9.8v3.1h-9.8zM204.2 154h9.8v3.1h-9.8zM218.8 157h7.9v3.1h-7.9zM175 160h9.8v2.4h-9.8zM278.8 139h6.9v3.1h-6.9zM286.6 142h4.7v3.1h-4.7zM269 145h5v3.1h-5zM235 148h9.8v3.1h-9.8zM285.6 148h5.6v3.1h-5.6zM249.6 151h4v3.1h-4zM280.7 151h10.5v3.1h-10.5zM252.5 154h2v3.1h-2zM267.1 154h11.8v3.1h-11.8zM281.7 154h9.5v3.1h-9.5zM253.5 157h8.9v3.1h-8.9zM269 157h9.8v3.1h-9.8zM283.6 157h7.6v3.1h-7.6zM237.9 160h11.8v2.4h-11.8zM259.3 160h14.7v2.4h-14.7zM278.8 160h12.5v2.4h-12.5z"/><path fill="#000000" d="M64 67h7.1v3.1h-7.1zM71 67h6.1v3.1h-6.1zM77 67h4.1v3.1h-4.1zM107 67h8.1v3.1h-8.1zM66 70h5.1v3.1h-5.1zM71 70h7.1v3.1h-7.1zM78 70h5.1v3.1h-5.1zM107 70h8.1v3.1h-8.1zM65 73h7.1v3.1h-7.1zM72 73h3.1v3.1h-3.1zM75 73h9.1v3.1h-9.1zM89 73h4.1v3.1h-4.1zM107 73h4.1v3.1h-4.1zM67 76h4.1v3.1h-4.1zM71 76h2.1v3.1h-2.1zM73 76h5.1v3.1h-5.1zM81 76h12.1v3.1h-12.1zM97 76h18.1v3.1h-18.1zM68 79h1.1v3.1h-1.1zM69 79h4.1v3.1h-4.1zM79 79h19.1v3.1h-19.1zM108 79h7.1v3.1h-7.1zM63 82h4.1v3.1h-4.1zM67 82h4.1v3.1h-4.1zM71 82h8.1v3.1h-8.1zM88 82h7.1v3.1h-7.1zM98 82h11.1v3.1h-11.1zM79 85h4.1v3.1h-4.1zM88 85h5.1v3.1h-5.1zM93 85h4.1v3.1h-4.1zM100 85h9.1v3.1h-9.1zM65 88h5.1v3.1h-5.1zM70 88h4.1v3.1h-4.1zM78 88h5.1v3.1h-5.1zM92 88h5.1v3.1h-5.1zM103 88h8.1v3.1h-8.1zM61 91h4.1v3.1h-4.1zM65 91h5.1v3.1h-5.1zM70 91h6.1v3.1h-6.1zM76 91h9.1v3.1h-9.1zM91 91h12.1v3.1h-12.1zM101 91h4.1v3.1h-4.1zM61 94h6.1v3.1h-6.1zM92 94h5.1v3.1h-5.1zM97 94h5.1v3.1h-5.1zM102 94h5.1v3.1h-5.1zM60 97h6.1v3.1h-6.1zM85 97h3.1v3.1h-3.1zM93 97h4.1v3.1h-4.1zM102 97h5.1v3.1h-5.1zM59 100h8.1v3.1h-8.1zM88 100h4.1v3.1h-4.1zM92 100h10.1v3.1h-10.1zM102 100h4.1v3.1h-4.1zM115 67h4.1v3.1h-4.1zM119 67h6.1v3.1h-6.1zM115 70h5.1v3.1h-5.1zM120 70h6.1v3.1h-6.1zM144 70h3.1v3.1h-3.1zM155 70h5.1v3.1h-5.1zM115 73h5.1v3.1h-5.1zM120 73h6.1v3.1h-6.1zM140 73h8.1v3.1h-8.1zM157 73h5.1v3.1h-5.1zM115 76h4.1v3.1h-4.1zM119 76h7.1v3.1h-7.1zM141 76h5.1v3.1h-5.1zM151 76h7.1v3.1h-7.1zM167 76h8.1v3.1h-8.1zM115 79h4.1v3.1h-4.1zM119 79h8.1v3.1h-8.1zM139 79h9.1v3.1h-9.1zM148 79h3.1v3.1h-3.1zM151 79h6.1v3.1h-6.1zM168 79h7.1v3.1h-7.1zM115 82h3.1v3.1h-3.1zM118 82h4.1v3.1h-4.1zM122 82h4.1v3.1h-4.1zM138 82h9.1v3.1h-9.1zM151 82h4.1v3.1h-4.1zM160 82h5.1v3.1h-5.1zM169 82h6.1v3.1h-6.1zM120 85h6.1v3.1h-6.1zM140 85h8.1v3.1h-8.1zM148 85h1.1v3.1h-1.1zM155 85h4.1v3.1h-4.1zM163 85h1.1v3.1h-1.1zM167 85h8.1v3.1h-8.1zM123 88h3.1v3.1h-3.1zM133 88h10.1v3.1h-10.1zM143 88h6.1v3.1h-6.1zM157 88h6.1v3.1h-6.1zM167 88h4.1v3.1h-4.1zM132 91h12.1v3.1h-12.1zM144 91h1.1v3.1h-1.1zM149 91h4.1v3.1h-4.1zM155 91h5.1v3.1h-5.1zM164 91h7.1v3.1h-7.1zM115 94h4.1v3.1h-4.1zM125 94h5.1v3.1h-5.1zM130 94h7.1v3.1h-7.1zM137 94h7.1v3.1h-7.1zM144 94h4.1v3.1h-4.1zM153 94h6.1v3.1h-6.1zM163 94h4.1v3.1h-4.1zM171 94h4.1v3.1h-4.1zM126 97h2.1v3.1h-2.1zM128 97h9.1v3.1h-9.1zM137 97h3.1v3.1h-3.1zM150 97h6.1v3.1h-6.1zM161 97h4.1v3.1h-4.1zM165 97h4.1v3.1h-4.1zM169 97h6.1v3.1h-6.1zM115 100h6.1v3.1h-6.1zM126 100h3.1v3.1h-3.1zM129 100h8.1v3.1h-8.1zM137 100h3.1v3.1h-3.1zM153 100h7.1v3.1h-7.1zM160 100h3.1v3.1h-3.1zM163 100h5.1v3.1h-5.1zM175 67h5.1v3.1h-5.1zM180 67h5.1v3.1h-5.1zM195 67h14.1v3.1h-14.1zM209 67h3.1v3.1h-3.1zM221 67h6.1v3.1h-6.1zM231 67h4.1v3.1h-4.1zM179 70h7.1v3.1h-7.1zM201 70h8.1v3.1h-8.1zM209 70h3.1v3.1h-3.1zM217 70h10.1v3.1h-10.1zM231 70h4.1v3.1h-4.1zM178 73h7.1v3.1h-7.1zM185 73h10.1v3.1h-10.1zM207 73h3.1v3.1h-3.1zM210 73h3.1v3.1h-3.1zM220 73h9.1v3.1h-9.1zM232 73h3.1v3.1h-3.1zM177 76h8.1v3.1h-8.1zM193 76h9.1v3.1h-9.1zM202 76h3.1v3.1h-3.1zM205 76h5.1v3.1h-5.1zM215 76h14.1v3.1h-14.1zM232 76h3.1v3.1h-3.1zM175 79h3.1v3.1h-3.1zM178 79h7.1v3.1h-7.1zM195 79h6.1v3.1h-6.1zM201 79h4.1v3.1h-4.1zM205 79h6.1v3.1h-6.1zM215 79h8.1v3.1h-8.1zM227 79h8.1v3.1h-8.1zM175 82h2.1v3.1h-2.1zM177 82h1.1v3.1h-1.1zM197 82h4.1v3.1h-4.1zM201 82h6.1v3.1h-6.1zM207 82h4.1v3.1h-4.1zM213 82h8.1v3.1h-8.1zM229 82h6.1v3.1h-6.1zM179 85h4.1v3.1h-4.1zM183 85h2.1v3.1h-2.1zM195 85h6.1v3.1h-6.1zM201 85h4.1v3.1h-4.1zM205 85h8.1v3.1h-8.1zM217 85h4.1v3.1h-4.1zM227 85h8.1v3.1h-8.1zM175 88h6.1v3.1h-6.1zM181 88h4.1v3.1h-4.1zM213 88h4.1v3.1h-4.1zM217 88h3.1v3.1h-3.1zM220 88h9.1v3.1h-9.1zM232 88h3.1v3.1h-3.1zM179 91h4.1v3.1h-4.1zM183 91h2.1v3.1h-2.1zM193 91h8.1v3.1h-8.1zM208 91h7.1v3.1h-7.1zM215 91h4.1v3.1h-4.1zM219 91h16.1v3.1h-16.1zM193 94h6.1v3.1h-6.1zM199 94h4.1v3.1h-4.1zM225 94h4.1v3.1h-4.1zM229 94h4.1v3.1h-4.1zM233 94h2.1v3.1h-2.1zM175 97h8.1v3.1h-8.1zM199 97h5.1v3.1h-5.1zM213 97h4.1v3.1h-4.1zM222 97h5.1v3.1h-5.1zM227 97h4.1v3.1h-4.1zM231 97h4.1v3.1h-4.1zM179 100h6.1v3.1h-6.1zM190 100h8.1v3.1h-8.1zM211 100h7.1v3.1h-7.1zM223 100h4.1v3.1h-4.1zM227 100h4.1v3.1h-4.1zM231 100h4.1v3.1h-4.1zM235 67h2.1v3.1h-2.1zM237 67h5.1v3.1h-5.1zM242 67h3.1v3.1h-3.1zM264 67h4.1v3.1h-4.1zM288 67h3.1v3.1h-3.1zM235 70h3.1v3.1h-3.1zM238 70h5.1v3.1h-5.1zM281 70h4.1v3.1h-4.1zM288 70h3.1v3.1h-3.1zM237 73h3.1v3.1h-3.1zM240 73h4.1v3.1h-4.1zM244 73h5.1v3.1h-5.1zM257 73h5.1v3.1h-5.1zM269 73h10.1v3.1h-10.1zM283 73h5.1v3.1h-5.1zM288 73h3.1v3.1h-3.1zM235 76h5.1v3.1h-5.1zM240 76h4.1v3.1h-4.1zM255 76h6.1v3.1h-6.1zM265 76h14.1v3.1h-14.1zM288 76h3.1v3.1h-3.1zM235 79h2.1v3.1h-2.1zM237 79h6.1v3.1h-6.1zM243 79h3.1v3.1h-3.1zM260 79h18.1v3.1h-18.1zM282 79h6.1v3.1h-6.1zM288 79h3.1v3.1h-3.1zM235 82h3.1v3.1h-3.1zM238 82h5.1v3.1h-5.1zM259 82h22.1v3.1h-22.1zM288 82h3.1v3.1h-3.1zM240 85h3.1v3.1h-3.1zM243 85h2.1v3.1h-2.1zM263 85h7.1v3.1h-7.1zM270 85h7.1v3.1h-7.1zM277 85h5.1v3.1h-5.1zM288 85h3.1v3.1h-3.1zM267 88h3.1v3.1h-3.1zM270 88h3.1v3.1h-3.1zM277 88h6.1v3.1h-6.1zM288 88h3.1v3.1h-3.1zM239 91h5.1v3.1h-5.1zM248 91h15.1v3.1h-15.1zM268 91h2.1v3.1h-2.1zM270 91h3.1v3.1h-3.1zM275 91h6.1v3.1h-6.1zM288 91h3.1v3.1h-3.1zM249 94h5.1v3.1h-5.1zM254 94h4.1v3.1h-4.1zM258 94h3.1v3.1h-3.1zM264 94h4.1v3.1h-4.1zM268 94h4.1v3.1h-4.1zM272 94h7.1v3.1h-7.1zM288 94h3.1v3.1h-3.1zM239 97h3.1v3.1h-3.1zM250 97h4.1v3.1h-4.1zM254 97h3.1v3.1h-3.1zM257 97h3.1v3.1h-3.1zM264 97h3.1v3.1h-3.1zM267 97h4.1v3.1h-4.1zM271 97h8.1v3.1h-8.1zM288 97h3.1v3.1h-3.1zM243 100h6.1v3.1h-6.1zM253 100h4.1v3.1h-4.1zM257 100h4.1v3.1h-4.1zM267 100h2.1v3.1h-2.1zM269 100h2.1v3.1h-2.1zM271 100h7.1v3.1h-7.1zM288 100h3.1v3.1h-3.1zM58 103h8.1v3.1h-8.1zM66 103h2.1v3.1h-2.1zM69 103h11.1v3.1h-11.1zM93 103h3.1v3.1h-3.1zM96 103h6.1v3.1h-6.1zM102 103h3.1v3.1h-3.1zM55 106h10.1v3.1h-10.1zM65 106h3.1v3.1h-3.1zM68 106h2.1v3.1h-2.1zM93 106h4.1v3.1h-4.1zM97 106h5.1v3.1h-5.1zM102 106h3.1v3.1h-3.1zM55 109h4.1v3.1h-4.1zM59 109h7.1v3.1h-7.1zM94 109h3.1v3.1h-3.1zM97 109h3.1v3.1h-3.1zM100 109h5.1v3.1h-5.1zM55 112h4.1v3.1h-4.1zM59 112h2.1v3.1h-2.1zM61 112h8.1v3.1h-8.1zM93 112h4.1v3.1h-4.1zM97 112h3.1v3.1h-3.1zM100 112h7.1v3.1h-7.1zM55 115h4.1v3.1h-4.1zM59 115h4.1v3.1h-4.1zM93 115h4.1v3.1h-4.1zM97 115h4.1v3.1h-4.1zM101 115h6.1v3.1h-6.1zM55 118h4.1v3.1h-4.1zM59 118h4.1v3.1h-4.1zM93 118h4.1v3.1h-4.1zM97 118h2.1v3.1h-2.1zM99 118h5.1v3.1h-5.1zM55 121h3.1v3.1h-3.1zM58 121h5.1v3.1h-5.1zM79 121h5.1v3.1h-5.1zM95 121h8.1v3.1h-8.1zM57 124h6.1v3.1h-6.1zM95 124h4.1v3.1h-4.1zM58 127h7.1v3.1h-7.1zM93 127h6.1v3.1h-6.1zM55 130h9.1v3.1h-9.1zM95 130h4.1v3.1h-4.1zM126 103h3.1v3.1h-3.1zM135 103h3.1v3.1h-3.1zM138 103h3.1v3.1h-3.1zM158 103h7.1v3.1h-7.1zM165 103h6.1v3.1h-6.1zM126 106h4.1v3.1h-4.1zM130 106h5.1v3.1h-5.1zM135 106h3.1v3.1h-3.1zM157 106h5.1v3.1h-5.1zM162 106h3.1v3.1h-3.1zM125 109h3.1v3.1h-3.1zM128 109h8.1v3.1h-8.1zM136 109h5.1v3.1h-5.1zM163 109h6.1v3.1h-6.1zM126 112h2.1v3.1h-2.1zM128 112h7.1v3.1h-7.1zM135 112h3.1v3.1h-3.1zM163 112h6.1v3.1h-6.1zM124 115h5.1v3.1h-5.1zM129 115h6.1v3.1h-6.1zM135 115h3.1v3.1h-3.1zM151 115h5.1v3.1h-5.1zM162 115h6.1v3.1h-6.1zM124 118h5.1v3.1h-5.1zM129 118h6.1v3.1h-6.1zM135 118h2.1v3.1h-2.1zM147 118h5.1v3.1h-5.1zM165 118h4.1v3.1h-4.1zM125 121h4.1v3.1h-4.1zM129 121h6.1v3.1h-6.1zM147 121h20.1v3.1h-20.1zM127 124h3.1v3.1h-3.1zM130 124h4.1v3.1h-4.1zM134 124h4.1v3.1h-4.1zM127 127h4.1v3.1h-4.1zM131 127h2.1v3.1h-2.1zM133 127h6.1v3.1h-6.1zM167 127h8.1v3.1h-8.1zM127 130h12.1v3.1h-12.1zM169 130h6.1v3.1h-6.1zM128 133h10.1v3.1h-10.1zM129 136h6.1v3.1h-6.1zM175 103h8.1v3.1h-8.1zM186 103h3.1v3.1h-3.1zM189 103h6.1v3.1h-6.1zM195 103h4.1v3.1h-4.1zM199 103h6.1v3.1h-6.1zM217 103h8.1v3.1h-8.1zM225 103h6.1v3.1h-6.1zM175 106h6.1v3.1h-6.1zM187 106h4.1v3.1h-4.1zM191 106h6.1v3.1h-6.1zM197 106h8.1v3.1h-8.1zM218 106h5.1v3.1h-5.1zM175 109h5.1v3.1h-5.1zM186 109h4.1v3.1h-4.1zM190 109h8.1v3.1h-8.1zM201 109h6.1v3.1h-6.1zM217 109h10.1v3.1h-10.1zM175 112h4.1v3.1h-4.1zM187 112h9.1v3.1h-9.1zM203 112h4.1v3.1h-4.1zM219 112h6.1v3.1h-6.1zM193 115h5.1v3.1h-5.1zM178 118h15.1v3.1h-15.1zM213 118h14.1v3.1h-14.1zM186 121h6.1v3.1h-6.1zM227 121h4.1v3.1h-4.1zM187 124h7.1v3.1h-7.1zM218 124h5.1v3.1h-5.1zM189 127h6.1v3.1h-6.1zM214 127h5.1v3.1h-5.1zM191 130h6.1v3.1h-6.1zM213 130h4.1v3.1h-4.1zM218 133h7.1v3.1h-7.1zM244 103h3.1v3.1h-3.1zM247 103h4.1v3.1h-4.1zM251 103h2.1v3.1h-2.1zM253 103h4.1v3.1h-4.1zM259 103h6.1v3.1h-6.1zM265 103h4.1v3.1h-4.1zM277 103h4.1v3.1h-4.1zM281 103h4.1v3.1h-4.1zM285 103h3.1v3.1h-3.1zM244 106h6.1v3.1h-6.1zM250 106h6.1v3.1h-6.1zM259 106h6.1v3.1h-6.1zM265 106h8.1v3.1h-8.1zM277 106h6.1v3.1h-6.1zM283 106h8.1v3.1h-8.1zM244 109h7.1v3.1h-7.1zM251 109h4.1v3.1h-4.1zM259 109h4.1v3.1h-4.1zM263 109h4.1v3.1h-4.1zM267 109h4.1v3.1h-4.1zM278 109h7.1v3.1h-7.1zM285 109h6.1v3.1h-6.1zM244 112h1.1v3.1h-1.1zM245 112h6.1v3.1h-6.1zM251 112h12.1v3.1h-12.1zM263 112h3.1v3.1h-3.1zM266 112h4.1v3.1h-4.1zM277 112h8.1v3.1h-8.1zM244 115h11.1v3.1h-11.1zM258 115h10.1v3.1h-10.1zM279 115h4.1v3.1h-4.1zM283 115h5.1v3.1h-5.1zM244 118h10.1v3.1h-10.1zM261 118h8.1v3.1h-8.1zM278 118h5.1v3.1h-5.1zM247 121h7.1v3.1h-7.1zM264 121h4.1v3.1h-4.1zM272 121h7.1v3.1h-7.1zM279 121h4.1v3.1h-4.1zM283 121h8.1v3.1h-8.1zM261 124h16.1v3.1h-16.1zM279 127h6.1v3.1h-6.1zM281 130h6.1v3.1h-6.1zM277 133h14.1v3.1h-14.1zM249 136h6.1v3.1h-6.1zM278 136h7.1v3.1h-7.1zM105.7 28h5.4v3.1h-5.4zM73 31h3.4v3.1h-3.4zM73 34h3.4v3.1h-3.4zM73 37h4.1v3.1h-4.1zM77.7 40h5.4v3.1h-5.4zM77.7 46h17.4v3.1h-17.4zM85.7 49h9.4v3.1h-9.4zM76.3 58h16.1v3.1h-16.1zM71 61h4.1v3.1h-4.1zM75 61h12.1v3.1h-12.1zM87 61h5.4v3.1h-5.4zM108.3 61h6.8v3.1h-6.8zM69.7 64h5.4v3.1h-5.4zM75 64h12.1v3.1h-12.1zM87 64h2.8v3.1h-2.8zM115 46h4.1v3.1h-4.1zM123 46h4.1v3.1h-4.1zM115 49h6.8v3.1h-6.8zM125.7 49h4.1v3.1h-4.1zM115 52h13.4v3.1h-13.4zM149.7 52h5.4v3.1h-5.4zM121.7 55h6.8v3.1h-6.8zM148.3 55h9.4v3.1h-9.4zM115 58h5.4v3.1h-5.4zM120.3 58h5.4v3.1h-5.4zM125.7 58h2.8v3.1h-2.8zM149.7 58h9.4v3.1h-9.4zM168.3 58h6.8v3.1h-6.8zM119 61h5.4v3.1h-5.4zM124.3 61h4.1v3.1h-4.1zM119 64h5.4v3.1h-5.4zM168.3 64h6.8v3.1h-6.8zM183 18.8h5.4v3.3h-5.4zM179 22h10.8v3.1h-10.8zM180.3 37h6.8v3.1h-6.8zM201.7 49h6.8v3.1h-6.8zM231 49h4.1v3.1h-4.1zM197.7 52h6.8v3.1h-6.8zM208.3 52h6.8v3.1h-6.8zM175 55h2.8v3.1h-2.8zM180.3 55h9.4v3.1h-9.4zM195 55h5.4v3.1h-5.4zM207 55h6.8v3.1h-6.8zM177.7 58h5.4v3.1h-5.4zM193.7 58h6.8v3.1h-6.8zM209.7 58h5.4v3.1h-5.4zM175 61h4.1v3.1h-4.1zM180.3 61h4.1v3.1h-4.1zM184.3 61h4.1v3.1h-4.1zM193.7 61h8.1v3.1h-8.1zM208.3 61h5.4v3.1h-5.4zM213.7 61h4.1v3.1h-4.1zM175 64h4.1v3.1h-4.1zM179 64h6.8v3.1h-6.8zM195 64h6.8v3.1h-6.8zM207 64h6.8v3.1h-6.8zM241.7 18.8h8.1v3.3h-8.1zM285.7 18.8h5.4v3.3h-5.4zM239 31h8.1v3.1h-8.1zM284.3 31h6.8v3.1h-6.8zM287 34h4.1v3.1h-4.1zM287 37h4.1v3.1h-4.1zM288.3 46h2.8v3.1h-2.8zM235 49h12.1v3.1h-12.1zM235 52h4.1v3.1h-4.1zM288.3 55h2.8v3.1h-2.8zM285.7 58h5.4v3.1h-5.4zM239 61h4.1v3.1h-4.1zM284.3 61h4.1v3.1h-4.1zM288.3 61h2.8v3.1h-2.8zM235 64h4.1v3.1h-4.1zM239 64h4.1v3.1h-4.1zM243 64h5.4v3.1h-5.4zM259 64h6.8v3.1h-6.8zM279 64h8.1v3.1h-8.1zM287 64h4.1v3.1h-4.1zM130.6 139h3v3.1h-3zM161.7 145h7.9v3.1h-7.9zM215.9 139h5v3.1h-5zM229.5 157h5.6v3.1h-5.6zM247.6 139h8.9v3.1h-8.9zM273.9 139h5v3.1h-5zM247.6 142h6.9v3.1h-6.9zM271 142h6.9v3.1h-6.9zM281.7 142h5v3.1h-5zM248.6 145h4v3.1h-4zM277.8 145h8.9v3.1h-8.9z"/><path fill="#e01800" d="M81 67h3.1v3.1h-3.1zM55 73h3.1v3.1h-3.1zM62 73h3.1v3.1h-3.1zM93 73h2.1v3.1h-2.1zM55 76h4.1v3.1h-4.1zM64 76h3.1v3.1h-3.1zM93 76h4.1v3.1h-4.1zM59 79h6.1v3.1h-6.1zM65 79h3.1v3.1h-3.1zM102 79h3.1v3.1h-3.1zM79 82h4.1v3.1h-4.1zM95 82h3.1v3.1h-3.1zM55 85h4.1v3.1h-4.1zM58 88h7.1v3.1h-7.1zM105 91h4.1v3.1h-4.1zM74 94h3.1v3.1h-3.1zM75 97h3.1v3.1h-3.1zM97 97h5.1v3.1h-5.1zM107 97h4.1v3.1h-4.1zM106 100h4.1v3.1h-4.1zM143 67h6.1v3.1h-6.1zM153 67h4.1v3.1h-4.1zM160 70h5.1v3.1h-5.1zM153 73h4.1v3.1h-4.1zM162 73h5.1v3.1h-5.1zM138 76h3.1v3.1h-3.1zM147 82h4.1v3.1h-4.1zM165 82h4.1v3.1h-4.1zM164 85h3.1v3.1h-3.1zM153 88h4.1v3.1h-4.1zM163 88h4.1v3.1h-4.1zM115 91h4.1v3.1h-4.1zM148 94h5.1v3.1h-5.1zM167 94h4.1v3.1h-4.1zM115 97h3.1v3.1h-3.1zM157 97h4.1v3.1h-4.1zM168 100h7.1v3.1h-7.1zM186 70h9.1v3.1h-9.1zM229 76h3.1v3.1h-3.1zM223 79h4.1v3.1h-4.1zM193 82h4.1v3.1h-4.1zM223 82h6.1v3.1h-6.1zM175 85h3.1v3.1h-3.1zM213 85h4.1v3.1h-4.1zM221 85h6.1v3.1h-6.1zM192 88h5.1v3.1h-5.1zM209 88h4.1v3.1h-4.1zM220 94h5.1v3.1h-5.1zM188 97h4.1v3.1h-4.1zM202 100h3.1v3.1h-3.1zM255 67h4.1v3.1h-4.1zM279 67h4.1v3.1h-4.1zM243 70h3.1v3.1h-3.1zM255 70h5.1v3.1h-5.1zM269 70h4.1v3.1h-4.1zM249 73h4.1v3.1h-4.1zM282 76h6.1v3.1h-6.1zM246 79h4.1v3.1h-4.1zM243 82h4.1v3.1h-4.1zM281 82h7.1v3.1h-7.1zM235 85h5.1v3.1h-5.1zM259 85h4.1v3.1h-4.1zM248 88h6.1v3.1h-6.1zM235 91h4.1v3.1h-4.1zM244 91h4.1v3.1h-4.1zM285 91h3.1v3.1h-3.1zM240 94h5.1v3.1h-5.1zM279 94h3.1v3.1h-3.1zM242 97h4.1v3.1h-4.1zM279 97h4.1v3.1h-4.1zM239 100h4.1v3.1h-4.1zM249 100h4.1v3.1h-4.1zM282 100h6.1v3.1h-6.1zM105 103h10.1v3.1h-10.1zM69 112h4.1v3.1h-4.1zM63 115h4.1v3.1h-4.1zM79 115h6.1v3.1h-6.1zM107 115h4.1v3.1h-4.1zM66 118h16.1v3.1h-16.1zM104 118h5.1v3.1h-5.1zM71 121h4.1v3.1h-4.1zM103 121h6.1v3.1h-6.1zM103 124h4.1v3.1h-4.1zM91 130h4.1v3.1h-4.1zM73 133h8.1v3.1h-8.1zM89 133h4.1v3.1h-4.1zM101 133h6.1v3.1h-6.1zM65 136h5.1v3.1h-5.1zM75 136h6.1v3.1h-6.1zM101 136h6.1v3.1h-6.1zM115 103h6.1v3.1h-6.1zM144 106h6.1v3.1h-6.1zM165 106h5.1v3.1h-5.1zM145 109h6.1v3.1h-6.1zM122 112h4.1v3.1h-4.1zM138 112h3.1v3.1h-3.1zM160 112h3.1v3.1h-3.1zM147 115h4.1v3.1h-4.1zM152 118h5.1v3.1h-5.1zM162 118h3.1v3.1h-3.1zM135 121h6.1v3.1h-6.1zM119 124h4.1v3.1h-4.1zM138 124h4.1v3.1h-4.1zM152 124h5.1v3.1h-5.1zM168 124h7.1v3.1h-7.1zM115 127h8.1v3.1h-8.1zM118 130h3.1v3.1h-3.1zM165 130h4.1v3.1h-4.1zM121 133h4.1v3.1h-4.1zM163 133h4.1v3.1h-4.1zM175 115h4.1v3.1h-4.1zM185 115h8.1v3.1h-8.1zM215 115h6.1v3.1h-6.1zM229 115h6.1v3.1h-6.1zM215 121h6.1v3.1h-6.1zM175 124h4.1v3.1h-4.1zM215 124h3.1v3.1h-3.1zM223 124h12.1v3.1h-12.1zM185 127h4.1v3.1h-4.1zM223 127h5.1v3.1h-5.1zM197 130h6.1v3.1h-6.1zM217 130h4.1v3.1h-4.1zM227 130h8.1v3.1h-8.1zM193 133h4.1v3.1h-4.1zM202 133h13.1v3.1h-13.1zM190 136h5.1v3.1h-5.1zM202 136h5.1v3.1h-5.1zM215 136h5.1v3.1h-5.1zM235 103h4.1v3.1h-4.1zM288 103h3.1v3.1h-3.1zM235 109h4.1v3.1h-4.1zM271 109h4.1v3.1h-4.1zM285 112h6.1v3.1h-6.1zM255 115h3.1v3.1h-3.1zM288 115h3.1v3.1h-3.1zM250 124h5.1v3.1h-5.1zM259 127h5.1v3.1h-5.1zM275 127h4.1v3.1h-4.1zM265 130h4.1v3.1h-4.1zM287 130h4.1v3.1h-4.1zM250 133h5.1v3.1h-5.1zM265 133h10.1v3.1h-10.1zM267 136h4.1v3.1h-4.1zM72.3 28h4.1v3.1h-4.1zM81.7 28h5.4v3.1h-5.4zM103 28h2.8v3.1h-2.8zM111 28h4.1v3.1h-4.1zM107 31h4.1v3.1h-4.1zM69.7 37h3.4v3.1h-3.4zM57.7 43h14.8v3.1h-14.8zM81.7 43h4.1v3.1h-4.1zM55 46h5.4v3.1h-5.4zM65.7 46h5.4v3.1h-5.4zM81.7 49h4.1v3.1h-4.1zM67 55h5.4v3.1h-5.4zM67 58h4.1v3.1h-4.1zM107 58h8.1v3.1h-8.1zM92.3 61h2.8v3.1h-2.8zM103 61h5.4v3.1h-5.4zM55 64h5.4v3.1h-5.4zM104.3 64h6.8v3.1h-6.8zM155 22h5.4v3.1h-5.4zM169.7 34h5.4v3.1h-5.4zM141.7 40h6.8v3.1h-6.8zM119 46h4.1v3.1h-4.1zM145.7 49h5.4v3.1h-5.4zM155 52h4.1v3.1h-4.1zM115 55h4.1v3.1h-4.1zM168.3 55h6.8v3.1h-6.8zM148.3 61h10.8v3.1h-10.8zM169.7 61h5.4v3.1h-5.4zM180.3 18.8h2.8v3.3h-2.8zM188.3 18.8h2.8v3.3h-2.8zM215 18.8h8.1v3.3h-8.1zM232.3 25h2.8v3.1h-2.8zM175 34h2.8v3.1h-2.8zM181.7 34h5.4v3.1h-5.4zM181.7 40h5.4v3.1h-5.4zM212.3 40h4.1v3.1h-4.1zM209.7 43h5.4v3.1h-5.4zM175 46h5.4v3.1h-5.4zM197.7 49h4.1v3.1h-4.1zM208.3 49h4.1v3.1h-4.1zM228.3 49h2.8v3.1h-2.8zM177.7 55h2.8v3.1h-2.8zM204.3 55h2.8v3.1h-2.8zM228.3 55h6.8v3.1h-6.8zM175 58h2.8v3.1h-2.8zM200.3 58h5.4v3.1h-5.4zM215 58h5.4v3.1h-5.4zM201.7 61h4.1v3.1h-4.1zM228.3 61h6.8v3.1h-6.8zM185.7 64h4.1v3.1h-4.1zM201.7 64h5.4v3.1h-5.4zM223 64h5.4v3.1h-5.4zM249.7 18.8h2.8v3.3h-2.8zM283 18.8h2.8v3.3h-2.8zM285.7 22h5.4v3.1h-5.4zM239 28h5.4v3.1h-5.4zM285.7 28h5.4v3.1h-5.4zM239 34h8.1v3.1h-8.1zM275 37h5.4v3.1h-5.4zM255 40h6.8v3.1h-6.8zM288.3 40h2.8v3.1h-2.8zM235 43h5.4v3.1h-5.4zM257.7 46h5.4v3.1h-5.4zM239 52h8.1v3.1h-8.1zM288.3 52h2.8v3.1h-2.8zM235 61h4.1v3.1h-4.1zM271 61h8.1v3.1h-8.1zM248.3 64h10.8v3.1h-10.8zM265.7 64h8.1v3.1h-8.1zM109.5 139h5.6v3.1h-5.6zM55 142h3v3.1h-3zM91 142h5.9v3.1h-5.9zM109.5 142h5.6v3.1h-5.6zM66.7 148h5.9v3.1h-5.9zM73.5 154h5v3.1h-5zM128.6 139h2v3.1h-2zM133.5 139h1.1v3.1h-1.1zM115 142h3v3.1h-3zM128.6 142h6.9v3.1h-6.9zM163.6 142h5.9v3.1h-5.9zM129.6 145h11.8v3.1h-11.8zM140.3 148h4v3.1h-4zM161.7 148h6.9v3.1h-6.9zM146.1 151h5v3.1h-5zM163.6 160h5.9v2.4h-5.9zM213.9 139h2v3.1h-2zM220.7 139h3v3.1h-3zM207.1 142h7.9v3.1h-7.9zM194.5 151h7.9v3.1h-7.9zM226.6 157h3v3.1h-3zM226.6 160h8.6v2.4h-8.6zM244.7 139h3v3.1h-3zM270 139h4v3.1h-4zM244.7 142h3v3.1h-3zM268.1 142h3v3.1h-3zM277.8 142h4v3.1h-4zM244.7 145h4v3.1h-4zM264.2 145h5v3.1h-5zM286.6 145h4.7v3.1h-4.7zM244.7 148h5.9v3.1h-5.9zM264.2 148h4v3.1h-4zM277.8 148h7.9v3.1h-7.9zM235 151h3v3.1h-3zM276.8 151h4v3.1h-4zM244.7 154h7.9v3.1h-7.9zM262.2 154h5v3.1h-5zM246.7 157h6.9v3.1h-6.9zM235 160h3v2.4h-3z"/><path fill="#fffff4" d="M84 67h23.1v3.1h-23.1zM89 70h18.1v3.1h-18.1zM95 73h12.1v3.1h-12.1zM59 76h5.1v3.1h-5.1zM78 76h3.1v3.1h-3.1zM98 79h4.1v3.1h-4.1zM105 79h3.1v3.1h-3.1zM109 82h6.1v3.1h-6.1zM59 85h7.1v3.1h-7.1zM109 85h6.1v3.1h-6.1zM97 88h6.1v3.1h-6.1zM111 88h4.1v3.1h-4.1zM109 91h6.1v3.1h-6.1zM77 94h11.1v3.1h-11.1zM107 94h8.1v3.1h-8.1zM66 97h9.1v3.1h-9.1zM88 97h5.1v3.1h-5.1zM111 97h4.1v3.1h-4.1zM67 100h8.1v3.1h-8.1zM81 100h7.1v3.1h-7.1zM126 67h11.1v3.1h-11.1zM157 67h18.1v3.1h-18.1zM136 70h8.1v3.1h-8.1zM165 70h10.1v3.1h-10.1zM167 73h8.1v3.1h-8.1zM126 76h12.1v3.1h-12.1zM127 79h11.1v3.1h-11.1zM158 79h10.1v3.1h-10.1zM140 100h9.1v3.1h-9.1zM185 67h10.1v3.1h-10.1zM216 67h5.1v3.1h-5.1zM175 73h3.1v3.1h-3.1zM202 73h5.1v3.1h-5.1zM210 76h5.1v3.1h-5.1zM191 79h4.1v3.1h-4.1zM211 82h2.1v3.1h-2.1zM185 88h7.1v3.1h-7.1zM201 88h4.1v3.1h-4.1zM229 88h3.1v3.1h-3.1zM185 91h8.1v3.1h-8.1zM201 91h7.1v3.1h-7.1zM175 94h9.1v3.1h-9.1zM203 94h5.1v3.1h-5.1zM192 97h6.1v3.1h-6.1zM208 97h5.1v3.1h-5.1zM175 100h4.1v3.1h-4.1zM205 100h6.1v3.1h-6.1zM250 70h5.1v3.1h-5.1zM273 70h4.1v3.1h-4.1zM250 76h5.1v3.1h-5.1zM278 79h4.1v3.1h-4.1zM248 85h11.1v3.1h-11.1zM235 88h6.1v3.1h-6.1zM235 97h4.1v3.1h-4.1zM260 97h4.1v3.1h-4.1zM80 103h13.1v3.1h-13.1zM70 106h23.1v3.1h-23.1zM109 106h6.1v3.1h-6.1zM69 109h25.1v3.1h-25.1zM111 115h4.1v3.1h-4.1zM75 121h3.1v3.1h-3.1zM75 124h6.1v3.1h-6.1zM88 124h7.1v3.1h-7.1zM72 127h8.1v3.1h-8.1zM71 130h9.1v3.1h-9.1zM99 130h6.1v3.1h-6.1zM55 133h8.1v3.1h-8.1zM81 136h7.1v3.1h-7.1zM129 103h6.1v3.1h-6.1zM141 103h17.1v3.1h-17.1zM115 106h11.1v3.1h-11.1zM159 109h4.1v3.1h-4.1zM115 112h7.1v3.1h-7.1zM149 112h6.1v3.1h-6.1zM115 115h9.1v3.1h-9.1zM115 118h9.1v3.1h-9.1zM157 118h5.1v3.1h-5.1zM139 127h6.1v3.1h-6.1zM153 127h9.1v3.1h-9.1zM145 133h10.1v3.1h-10.1zM143 136h8.1v3.1h-8.1zM205 106h8.1v3.1h-8.1zM179 112h7.1v3.1h-7.1zM215 112h4.1v3.1h-4.1zM201 118h8.1v3.1h-8.1zM175 121h11.1v3.1h-11.1zM192 121h6.1v3.1h-6.1zM200 124h15.1v3.1h-15.1zM203 127h11.1v3.1h-11.1zM175 133h6.1v3.1h-6.1zM225 133h10.1v3.1h-10.1zM175 136h7.1v3.1h-7.1zM255 109h4.1v3.1h-4.1zM235 115h6.1v3.1h-6.1zM235 121h12.1v3.1h-12.1zM268 121h4.1v3.1h-4.1zM235 124h6.1v3.1h-6.1zM235 130h12.1v3.1h-12.1zM259 133h6.1v3.1h-6.1zM55 18.8h17.4v3.3h-17.4zM92.3 18.8h16.1v3.3h-16.1zM55 22h17.4v3.1h-17.4zM77.7 22h8.1v3.1h-8.1zM95 22h8.1v3.1h-8.1zM55 25h17.4v3.1h-17.4zM95 25h9.4v3.1h-9.4zM111 25h4.1v3.1h-4.1zM55 28h17.4v3.1h-17.4zM92.3 28h10.8v3.1h-10.8zM55 31h17.4v3.1h-17.4zM81.7 31h10.8v3.1h-10.8zM55 34h17.4v3.1h-17.4zM76.3 34h12.1v3.1h-12.1zM97.7 34h10.8v3.1h-10.8zM63 37h6.8v3.1h-6.8zM85.7 37h9.4v3.1h-9.4zM108.3 37h6.8v3.1h-6.8zM55 40h12.1v3.1h-12.1zM99 43h9.4v3.1h-9.4zM100.3 46h8.1v3.1h-8.1zM55 49h4.1v3.1h-4.1zM65.7 49h6.8v3.1h-6.8zM103 49h12.1v3.1h-12.1zM63 52h8.1v3.1h-8.1zM81.7 52h10.8v3.1h-10.8zM108.3 52h6.8v3.1h-6.8zM61.7 55h5.4v3.1h-5.4zM77.7 55h13.4v3.1h-13.4zM99 55h9.4v3.1h-9.4zM99 58h8.1v3.1h-8.1zM63 61h4.1v3.1h-4.1zM95 64h9.4v3.1h-9.4zM128.3 18.8h20.1v3.3h-20.1zM115 22h5.4v3.1h-5.4zM133.7 22h8.1v3.1h-8.1zM149.7 22h5.4v3.1h-5.4zM131 25h8.1v3.1h-8.1zM148.3 25h6.8v3.1h-6.8zM115 28h8.1v3.1h-8.1zM132.3 28h9.4v3.1h-9.4zM155 28h5.4v3.1h-5.4zM123 31h9.4v3.1h-9.4zM141.7 31h8.1v3.1h-8.1zM163 31h12.1v3.1h-12.1zM115 34h13.4v3.1h-13.4zM136.3 34h8.1v3.1h-8.1zM155 34h8.1v3.1h-8.1zM125.7 37h8.1v3.1h-8.1zM139 37h5.4v3.1h-5.4zM152.3 37h6.8v3.1h-6.8zM115 40h8.1v3.1h-8.1zM157.7 40h8.1v3.1h-8.1zM119 43h6.8v3.1h-6.8zM133.7 43h5.4v3.1h-5.4zM145.7 43h6.8v3.1h-6.8zM132.3 46h9.4v3.1h-9.4zM148.3 46h6.8v3.1h-6.8zM163 46h12.1v3.1h-12.1zM121.7 49h4.1v3.1h-4.1zM136.3 49h9.4v3.1h-9.4zM133.7 52h10.8v3.1h-10.8zM168.3 52h6.8v3.1h-6.8zM135 55h13.4v3.1h-13.4zM132.3 58h16.1v3.1h-16.1zM136.3 61h12.1v3.1h-12.1zM115 64h4.1v3.1h-4.1zM136.3 64h13.4v3.1h-13.4zM201.7 18.8h13.4v3.3h-13.4zM196.3 22h12.1v3.1h-12.1zM219 22h9.4v3.1h-9.4zM175 25h5.4v3.1h-5.4zM196.3 25h9.4v3.1h-9.4zM217.7 25h10.8v3.1h-10.8zM183 28h8.1v3.1h-8.1zM201.7 28h10.8v3.1h-10.8zM220.3 28h8.1v3.1h-8.1zM175 31h5.4v3.1h-5.4zM187 31h8.1v3.1h-8.1zM204.3 31h10.8v3.1h-10.8zM191 34h10.8v3.1h-10.8zM212.3 34h9.4v3.1h-9.4zM192.3 37h12.1v3.1h-12.1zM215 37h13.4v3.1h-13.4zM195 40h10.8v3.1h-10.8zM228.3 40h6.8v3.1h-6.8zM183 43h8.1v3.1h-8.1zM199 43h8.1v3.1h-8.1zM185.7 46h8.1v3.1h-8.1zM215 46h6.8v3.1h-6.8zM183 49h6.8v3.1h-6.8zM217.7 49h10.8v3.1h-10.8zM179 52h5.4v3.1h-5.4zM191 52h6.8v3.1h-6.8zM204.3 52h4.1v3.1h-4.1zM220.3 52h8.1v3.1h-8.1zM220.3 55h8.1v3.1h-8.1zM189.7 64h5.4v3.1h-5.4zM261.7 18.8h10.8v3.3h-10.8zM249.7 22h9.4v3.1h-9.4zM265.7 22h9.4v3.1h-9.4zM235 25h4.1v3.1h-4.1zM248.3 25h10.8v3.1h-10.8zM277.7 25h8.1v3.1h-8.1zM256.3 28h8.1v3.1h-8.1zM255 31h10.8v3.1h-10.8zM275 31h9.4v3.1h-9.4zM235 34h4.1v3.1h-4.1zM247 34h14.8v3.1h-14.8zM281.7 34h5.4v3.1h-5.4zM256.3 37h9.4v3.1h-9.4zM235 40h4.1v3.1h-4.1zM245.7 40h9.4v3.1h-9.4zM269.7 40h10.8v3.1h-10.8zM257.7 43h4.1v3.1h-4.1zM279 43h6.8v3.1h-6.8zM243 46h14.8v3.1h-14.8zM272.3 46h6.8v3.1h-6.8zM272.3 49h6.8v3.1h-6.8zM259 52h9.4v3.1h-9.4zM279 52h9.4v3.1h-9.4zM243 55h12.1v3.1h-12.1zM267 55h8.1v3.1h-8.1zM281.7 55h6.8v3.1h-6.8zM235 58h10.8v3.1h-10.8zM257.7 58h17.4v3.1h-17.4zM251 61h10.8v3.1h-10.8zM69.6 139h9.8v3.1h-9.8zM69.6 142h21.5v3.1h-21.5zM57.9 145h11.8v3.1h-11.8zM74.5 145h9.8v3.1h-9.8zM92 145h23.2v3.1h-23.2zM55 148h5.9v3.1h-5.9zM80.3 148h6.9v3.1h-6.9zM93.9 148h21.2v3.1h-21.2zM59.9 151h9.8v3.1h-9.8zM82.2 151h32.9v3.1h-32.9zM55 154h5.9v3.1h-5.9zM69.6 154h4v3.1h-4zM84.2 154h30.9v3.1h-30.9zM84.2 157h9.8v3.1h-9.8zM109.5 157h5.6v3.1h-5.6zM64.7 160h50.4v2.4h-50.4zM158.8 139h16.3v3.1h-16.3zM144.2 142h14.7v3.1h-14.7zM119.9 145h9.8v3.1h-9.8zM144.2 145h9.8v3.1h-9.8zM115 148h7.9v3.1h-7.9zM129.6 148h10.8v3.1h-10.8zM153.9 148h7.9v3.1h-7.9zM115 151h9.8v3.1h-9.8zM115 154h9.8v3.1h-9.8zM134.5 154h9.8v3.1h-9.8zM153.9 154h9.8v3.1h-9.8zM124.7 157h9.8v3.1h-9.8zM149 157h9.8v3.1h-9.8zM134.5 160h14.7v2.4h-14.7zM158.8 160h5v2.4h-5zM184.7 139h14.7v3.1h-14.7zM175 142h5v3.1h-5zM189.6 142h12.7v3.1h-12.7zM223.6 142h11.5v3.1h-11.5zM177.9 145h6.9v3.1h-6.9zM199.3 145h8.9v3.1h-8.9zM223.6 145h11.5v3.1h-11.5zM180.8 148h13.7v3.1h-13.7zM175 151h5.9v3.1h-5.9zM213.9 151h9.8v3.1h-9.8zM184.7 154h7.9v3.1h-7.9zM213.9 154h13.7v3.1h-13.7zM175 157h7.9v3.1h-7.9zM204.2 157h14.7v3.1h-14.7zM199.3 160h19.6v2.4h-19.6zM235 139h9.8v3.1h-9.8zM235 142h9.8v3.1h-9.8zM264.2 142h4v3.1h-4zM235 145h9.8v3.1h-9.8zM252.5 145h11.8v3.1h-11.8zM273.9 145h4v3.1h-4zM250.6 148h13.7v3.1h-13.7zM273.9 148h4v3.1h-4zM244.7 151h5v3.1h-5zM253.5 151h10.8v3.1h-10.8zM273.9 151h3v3.1h-3zM254.5 154h7.9v3.1h-7.9zM237.9 157h8.9v3.1h-8.9zM249.6 160h9.8v2.4h-9.8z"/><path fill="#ffff9a" d="M55 97h5.1v3.1h-5.1zM110 100h5.1v3.1h-5.1zM126 70h7.1v3.1h-7.1zM155 82h5.1v3.1h-5.1zM159 85h4.1v3.1h-4.1zM153 91h2.1v3.1h-2.1zM171 91h4.1v3.1h-4.1zM159 94h4.1v3.1h-4.1zM121 100h5.1v3.1h-5.1zM195 70h6.1v3.1h-6.1zM185 79h6.1v3.1h-6.1zM185 85h5.1v3.1h-5.1zM208 94h7.1v3.1h-7.1zM204 97h4.1v3.1h-4.1zM279 73h4.1v3.1h-4.1zM244 76h6.1v3.1h-6.1zM255 79h5.1v3.1h-5.1zM247 82h12.1v3.1h-12.1zM245 85h3.1v3.1h-3.1zM283 88h5.1v3.1h-5.1zM263 91h5.1v3.1h-5.1zM235 100h4.1v3.1h-4.1zM261 100h6.1v3.1h-6.1zM107 112h8.1v3.1h-8.1zM63 121h8.1v3.1h-8.1zM55 124h2.1v3.1h-2.1zM81 124h7.1v3.1h-7.1zM65 127h7.1v3.1h-7.1zM107 136h8.1v3.1h-8.1zM121 103h5.1v3.1h-5.1zM169 109h6.1v3.1h-6.1zM169 112h6.1v3.1h-6.1zM156 115h6.1v3.1h-6.1zM141 121h6.1v3.1h-6.1zM123 127h4.1v3.1h-4.1zM162 127h5.1v3.1h-5.1zM121 130h6.1v3.1h-6.1zM135 136h8.1v3.1h-8.1zM151 136h24.1v3.1h-24.1zM205 103h12.1v3.1h-12.1zM181 106h6.1v3.1h-6.1zM198 109h3.1v3.1h-3.1zM207 109h10.1v3.1h-10.1zM196 112h7.1v3.1h-7.1zM221 115h8.1v3.1h-8.1zM175 127h10.1v3.1h-10.1zM175 130h16.1v3.1h-16.1zM221 130h6.1v3.1h-6.1zM215 133h3.1v3.1h-3.1zM207 136h8.1v3.1h-8.1zM220 136h15.1v3.1h-15.1zM239 103h5.1v3.1h-5.1zM239 112h5.1v3.1h-5.1zM269 118h9.1v3.1h-9.1zM277 124h14.1v3.1h-14.1zM264 127h11.1v3.1h-11.1zM255 133h4.1v3.1h-4.1zM275 133h2.1v3.1h-2.1zM255 136h12.1v3.1h-12.1zM72.3 18.8h6.8v3.3h-6.8zM84.3 18.8h8.1v3.3h-8.1zM76.3 25h5.4v3.1h-5.4zM76.3 31h5.4v3.1h-5.4zM55 37h8.1v3.1h-8.1zM77 37h8.8v3.1h-8.8zM104.3 40h10.8v3.1h-10.8zM59 49h6.8v3.1h-6.8zM72.3 49h9.4v3.1h-9.4zM71 52h10.8v3.1h-10.8zM59 58h8.1v3.1h-8.1zM67 61h4.1v3.1h-4.1zM111 64h4.1v3.1h-4.1zM164.3 22h10.8v3.1h-10.8zM115 25h5.4v3.1h-5.4zM160.3 28h14.8v3.1h-14.8zM115 31h8.1v3.1h-8.1zM149.7 31h9.4v3.1h-9.4zM163 34h6.8v3.1h-6.8zM144.3 37h8.1v3.1h-8.1zM123 40h13.4v3.1h-13.4zM139 43h6.8v3.1h-6.8zM152.3 43h22.8v3.1h-22.8zM141.7 46h6.8v3.1h-6.8zM155 46h8.1v3.1h-8.1zM129.7 49h6.8v3.1h-6.8zM144.3 52h5.4v3.1h-5.4zM157.7 55h10.8v3.1h-10.8zM159 58h9.4v3.1h-9.4zM191 18.8h10.8v3.3h-10.8zM189.7 22h6.8v3.1h-6.8zM205.7 25h12.1v3.1h-12.1zM175 28h8.1v3.1h-8.1zM191 28h10.8v3.1h-10.8zM212.3 28h8.1v3.1h-8.1zM215 31h13.4v3.1h-13.4zM187 34h4.1v3.1h-4.1zM228.3 37h6.8v3.1h-6.8zM227 43h8.1v3.1h-8.1zM215 52h5.4v3.1h-5.4zM213.7 55h6.8v3.1h-6.8zM220.3 58h8.1v3.1h-8.1zM188.3 61h5.4v3.1h-5.4zM217.7 64h5.4v3.1h-5.4zM228.3 64h6.8v3.1h-6.8zM252.3 18.8h9.4v3.3h-9.4zM272.3 18.8h10.8v3.3h-10.8zM285.7 25h5.4v3.1h-5.4zM235 31h4.1v3.1h-4.1zM235 37h5.4v3.1h-5.4zM265.7 37h9.4v3.1h-9.4zM280.3 40h8.1v3.1h-8.1zM275 55h6.8v3.1h-6.8zM245.7 58h12.1v3.1h-12.1zM279 61h5.4v3.1h-5.4zM273.7 64h5.4v3.1h-5.4zM96.8 142h12.7v3.1h-12.7zM84.2 145h7.9v3.1h-7.9zM60.8 148h5.9v3.1h-5.9zM72.5 148h7.9v3.1h-7.9zM87.1 148h6.9v3.1h-6.9zM55 151h5v3.1h-5zM72.5 157h11.8v3.1h-11.8zM55 160h9.8v2.4h-9.8zM117.9 139h10.8v3.1h-10.8zM117.9 142h10.8v3.1h-10.8zM115 145h5v3.1h-5zM141.3 145h3v3.1h-3zM124.7 151h9.8v3.1h-9.8zM124.7 154h9.8v3.1h-9.8zM199.3 139h14.7v3.1h-14.7zM179.9 142h9.8v3.1h-9.8zM202.2 142h5v3.1h-5zM175 145h3v3.1h-3zM184.7 145h14.7v3.1h-14.7zM212 145h11.8v3.1h-11.8zM204.2 151h9.8v3.1h-9.8zM182.8 157h21.5v3.1h-21.5zM189.6 160h9.8v2.4h-9.8zM218.8 160h7.9v2.4h-7.9zM256.4 139h7.9v3.1h-7.9zM254.5 142h9.8v3.1h-9.8zM268.1 148h5.9v3.1h-5.9zM237.9 151h6.9v3.1h-6.9zM264.2 151h9.8v3.1h-9.8zM235 157h3v3.1h-3z"/></g>
<defs><filter id="blur2" x="0" y="0" width="1" height="1"><feGaussianBlur stdDeviation="1.1"/></filter><clipPath id="sr"><rect x="365.3" y="18.8" width="235.6" height="145.5"/></clipPath></defs>
<defs><path id="cml" d="M365.6 90.3 L367.8 78.1 L370.0 58.6 L372.2 56.2 L374.4 53.8 L376.7 48.9 L380.0 47.4 L382.7 46.5 L384.4 53.8 L386.2 66.0 L388.4 67.4 L390.0 83.0 L391.1 102.5 L392.9 125.9 L395.6 125.9 L397.3 122.0 L398.9 112.2 L400.4 103.5 L403.3 102.5 L404.9 97.6 L406.7 85.4 L408.4 70.8 L410.0 67.4 L413.3 66.0 L418.9 66.9 L422.2 68.4 L424.9 73.3 L427.8 75.7 L431.1 77.2 L432.9 80.6 L434.4 122.0 L436.2 158.5 L437.8 160.0 L438.9 153.6 L441.1 136.6 L443.3 117.1 L444.9 106.4 L447.8 104.9 L450.0 97.6 L452.9 83.0 L455.6 68.4 L457.3 66.0 L460.0 68.4 L462.2 69.4 L464.4 78.1 L466.2 83.0 L468.9 83.0 L471.6 83.0 L472.9 87.9 L474.4 126.8 L475.6 153.6 L477.8 156.1 L479.6 153.6 L480.0 151.2 L481.8 131.7 L483.3 117.1 L485.6 114.7 L487.8 102.5 L490.7 80.6 L493.8 67.4 L497.8 66.9 L503.3 66.9 L506.7 68.4 L509.3 72.3 L511.1 97.6 L512.9 129.3 L513.8 145.4 L516.7 143.9 L518.9 141.5 L520.4 126.8 L522.2 109.8 L524.4 106.4 L526.2 111.3 L527.8 90.3 L529.3 74.2 L532.2 70.8 L535.1 62.5 L537.3 60.6 L541.1 60.6 L544.4 62.5 L547.1 66.0 L548.9 83.0 L551.1 114.7 L553.3 112.2 L556.7 104.9 L560.0 104.9 L562.2 102.5 L564.0 90.3 L565.6 73.3 L568.9 70.8 L570.7 61.1 L572.9 51.3 L576.0 48.9 L577.8 44.0 L580.0 38.2 L582.7 38.2 L584.9 41.6 L586.7 46.5 L588.9 52.8 L590.4 78.1 L592.2 104.9 L594.4 109.8 L596.7 108.3 L598.9 100.1 L601.1 85.4" fill="none" stroke-linejoin="round"/><clipPath id="h0"><rect x="375" y="40" width="12" height="10"/></clipPath><clipPath id="h1"><rect x="384" y="60" width="10" height="10"/></clipPath><clipPath id="h2"><rect x="406" y="60" width="22" height="11"/></clipPath><clipPath id="h3"><rect x="422" y="70" width="13" height="12"/></clipPath><clipPath id="h4"><rect x="452" y="61" width="11" height="10"/></clipPath><clipPath id="h5"><rect x="462" y="77" width="14" height="9"/></clipPath><clipPath id="h6"><rect x="491" y="59" width="20" height="11"/></clipPath><clipPath id="h7"><rect x="535" y="56" width="18" height="11"/></clipPath><clipPath id="h8"><rect x="533" y="46" width="10" height="10"/></clipPath><clipPath id="h9"><rect x="576" y="34" width="14" height="12"/></clipPath><clipPath id="h10"><rect x="587" y="46" width="10" height="9"/></clipPath><clipPath id="h11"><rect x="387" y="116" width="14" height="21"/></clipPath><clipPath id="h12"><rect x="432" y="150" width="10" height="14"/></clipPath><clipPath id="h13"><rect x="472" y="146" width="14" height="12"/></clipPath><clipPath id="h14"><rect x="510" y="126" width="13" height="24"/></clipPath><clipPath id="h15"><rect x="548" y="96" width="18" height="22"/></clipPath><clipPath id="h16"><rect x="588" y="100" width="13" height="12"/></clipPath><clipPath id="h17"><rect x="398" y="97" width="11" height="10"/></clipPath><clipPath id="h18"><rect x="440" y="98" width="12" height="10"/></clipPath><clipPath id="h19"><rect x="468" y="107" width="19" height="16"/></clipPath></defs><g filter="url(#blur2)" clip-path="url(#sr)"><rect x="365.3" y="18.8" width="235.6" height="145.5" fill="#3c2cc4"/><path fill="#4440dc" d="M365.3 18.8h12.1v3.7h-12.1zM395.3 18.8h12.1v3.7h-12.1zM425.3 18.8h12.1v3.7h-12.1zM449.3 18.8h18.1v3.7h-18.1zM491.3 18.8h14.1v3.7h-14.1zM519.3 18.8h6.1v3.7h-6.1zM531.3 18.8h6.1v3.7h-6.1zM559.3 18.8h12.1v3.7h-12.1zM431.3 22.4h6.1v3.7h-6.1zM447.3 22.4h6.1v3.7h-6.1zM485.3 22.4h6.1v3.7h-6.1zM507.3 22.4h10.1v3.7h-10.1zM577.3 22.4h14.1v3.7h-14.1zM591.3 22.4h9.7v3.7h-9.7zM365.3 26h10.1v3.7h-10.1zM405.3 26h10.1v3.7h-10.1zM499.3 26h6.1v3.7h-6.1zM505.3 26h10.1v3.7h-10.1zM515.3 26h6.1v3.7h-6.1zM527.3 26h8.1v3.7h-8.1zM593.3 26h7.7v3.7h-7.7zM403.3 29.6h10.1v3.7h-10.1zM457.3 29.6h12.1v3.7h-12.1zM469.3 29.6h12.1v3.7h-12.1zM489.3 29.6h6.1v3.7h-6.1zM537.3 29.6h8.1v3.7h-8.1zM571.3 29.6h8.1v3.7h-8.1zM599.3 29.6h1.7v3.7h-1.7zM383.3 33.2h6.1v3.7h-6.1zM389.3 33.2h14.1v3.7h-14.1zM403.3 33.2h6.1v3.7h-6.1zM431.3 33.2h6.1v3.7h-6.1zM437.3 33.2h10.1v3.7h-10.1zM447.3 33.2h6.1v3.7h-6.1zM511.3 33.2h8.1v3.7h-8.1zM575.3 33.2h12.1v3.7h-12.1zM599.3 33.2h1.7v3.7h-1.7zM411.3 36.8h18.1v3.7h-18.1zM429.3 36.8h14.1v3.7h-14.1zM443.3 36.8h10.1v3.7h-10.1zM479.3 36.8h18.1v3.7h-18.1zM503.3 36.8h12.1v3.7h-12.1zM549.3 36.8h6.1v3.7h-6.1zM555.3 36.8h8.1v3.7h-8.1zM569.3 36.8h8.1v3.7h-8.1zM365.3 40.4h14.1v3.7h-14.1zM391.3 40.4h6.1v3.7h-6.1zM405.3 40.4h6.1v3.7h-6.1zM411.3 40.4h8.1v3.7h-8.1zM419.3 40.4h8.1v3.7h-8.1zM513.3 40.4h14.1v3.7h-14.1zM527.3 40.4h6.1v3.7h-6.1zM533.3 40.4h6.1v3.7h-6.1zM547.3 40.4h6.1v3.7h-6.1zM553.3 40.4h12.1v3.7h-12.1zM383.3 44h18.1v3.7h-18.1zM431.3 44h14.1v3.7h-14.1zM451.3 44h12.1v3.7h-12.1zM463.3 44h12.1v3.7h-12.1zM497.3 44h6.1v3.7h-6.1zM503.3 44h18.1v3.7h-18.1zM535.3 44h6.1v3.7h-6.1zM567.3 44h14.1v3.7h-14.1zM419.3 47.6h18.1v3.7h-18.1zM447.3 47.6h12.1v3.7h-12.1zM459.3 47.6h12.1v3.7h-12.1zM547.3 47.6h18.1v3.7h-18.1zM573.3 47.6h10.1v3.7h-10.1zM583.3 47.6h17.7v3.7h-17.7zM473.3 51.2h6.1v3.7h-6.1zM489.3 51.2h18.1v3.7h-18.1zM525.3 51.2h10.1v3.7h-10.1zM571.3 51.2h18.1v3.7h-18.1zM401.3 54.8h6.1v3.7h-6.1zM511.3 54.8h12.1v3.7h-12.1zM523.3 54.8h6.1v3.7h-6.1zM529.3 54.8h14.1v3.7h-14.1zM549.3 54.8h8.1v3.7h-8.1zM563.3 54.8h6.1v3.7h-6.1zM569.3 54.8h6.1v3.7h-6.1zM589.3 54.8h10.1v3.7h-10.1zM371.3 58.4h14.1v3.7h-14.1zM423.3 58.4h6.1v3.7h-6.1zM429.3 58.4h14.1v3.7h-14.1zM485.3 58.4h12.1v3.7h-12.1zM429.3 62h6.1v3.7h-6.1zM435.3 62h14.1v3.7h-14.1zM449.3 62h14.1v3.7h-14.1zM487.3 62h8.1v3.7h-8.1zM537.3 62h8.1v3.7h-8.1zM599.3 62h1.7v3.7h-1.7zM385.3 65.6h6.1v3.7h-6.1zM409.3 65.6h10.1v3.7h-10.1zM449.3 65.6h6.1v3.7h-6.1zM475.3 65.6h6.1v3.7h-6.1zM495.3 65.6h8.1v3.7h-8.1zM515.3 65.6h12.1v3.7h-12.1zM527.3 65.6h6.1v3.7h-6.1zM533.3 65.6h18.1v3.7h-18.1zM551.3 65.6h12.1v3.7h-12.1zM423.3 69.2h8.1v3.7h-8.1zM445.3 69.2h6.1v3.7h-6.1zM483.3 69.2h8.1v3.7h-8.1zM511.3 69.2h6.1v3.7h-6.1zM563.3 69.2h18.1v3.7h-18.1zM365.3 72.8h6.1v3.7h-6.1zM445.3 72.8h12.1v3.7h-12.1zM457.3 72.8h8.1v3.7h-8.1zM465.3 72.8h12.1v3.7h-12.1zM507.3 72.8h8.1v3.7h-8.1zM535.3 72.8h14.1v3.7h-14.1zM549.3 72.8h14.1v3.7h-14.1zM365.3 76.4h6.1v3.7h-6.1zM437.3 76.4h6.1v3.7h-6.1zM443.3 76.4h8.1v3.7h-8.1zM459.3 76.4h8.1v3.7h-8.1zM519.3 76.4h10.1v3.7h-10.1zM573.3 76.4h18.1v3.7h-18.1zM597.3 76.4h3.7v3.7h-3.7zM405.3 80h18.1v3.7h-18.1zM457.3 80h14.1v3.7h-14.1zM485.3 80h14.1v3.7h-14.1zM499.3 80h8.1v3.7h-8.1zM507.3 80h8.1v3.7h-8.1zM527.3 80h14.1v3.7h-14.1zM565.3 80h14.1v3.7h-14.1zM597.3 83.6h3.7v3.7h-3.7zM365.3 87.2h6.1v3.7h-6.1zM371.3 87.2h10.1v3.7h-10.1zM403.3 87.2h8.1v3.7h-8.1zM411.3 87.2h8.1v3.7h-8.1zM429.3 87.2h18.1v3.7h-18.1zM447.3 87.2h14.1v3.7h-14.1zM485.3 87.2h8.1v3.7h-8.1zM517.3 87.2h12.1v3.7h-12.1zM541.3 87.2h6.1v3.7h-6.1zM569.3 87.2h10.1v3.7h-10.1zM381.3 90.8h18.1v3.7h-18.1zM473.3 90.8h18.1v3.7h-18.1zM541.3 90.8h10.1v3.7h-10.1zM559.3 90.8h18.1v3.7h-18.1zM577.3 90.8h10.1v3.7h-10.1zM365.3 94.4h12.1v3.7h-12.1zM401.3 94.4h6.1v3.7h-6.1zM433.3 94.4h6.1v3.7h-6.1zM439.3 94.4h12.1v3.7h-12.1zM469.3 94.4h18.1v3.7h-18.1zM517.3 94.4h12.1v3.7h-12.1zM579.3 94.4h10.1v3.7h-10.1zM589.3 94.4h6.1v3.7h-6.1zM365.3 98h6.1v3.7h-6.1zM463.3 98h10.1v3.7h-10.1zM507.3 98h10.1v3.7h-10.1zM517.3 98h18.1v3.7h-18.1zM589.3 98h10.1v3.7h-10.1zM401.3 101.6h8.1v3.7h-8.1zM409.3 101.6h12.1v3.7h-12.1zM429.3 101.6h10.1v3.7h-10.1zM447.3 101.6h8.1v3.7h-8.1zM455.3 101.6h14.1v3.7h-14.1zM497.3 101.6h14.1v3.7h-14.1zM527.3 101.6h10.1v3.7h-10.1zM365.3 105.2h6.1v3.7h-6.1zM419.3 105.2h18.1v3.7h-18.1zM437.3 105.2h14.1v3.7h-14.1zM521.3 105.2h12.1v3.7h-12.1zM563.3 105.2h6.1v3.7h-6.1zM569.3 105.2h12.1v3.7h-12.1zM581.3 105.2h14.1v3.7h-14.1zM409.3 108.8h6.1v3.7h-6.1zM475.3 108.8h14.1v3.7h-14.1zM531.3 108.8h14.1v3.7h-14.1zM589.3 108.8h11.7v3.7h-11.7zM379.3 112.4h18.1v3.7h-18.1zM411.3 112.4h12.1v3.7h-12.1zM481.3 112.4h8.1v3.7h-8.1zM375.3 116h18.1v3.7h-18.1zM485.3 116h8.1v3.7h-8.1zM543.3 116h6.1v3.7h-6.1zM549.3 116h6.1v3.7h-6.1zM365.3 119.6h12.1v3.7h-12.1zM377.3 119.6h6.1v3.7h-6.1zM439.3 119.6h6.1v3.7h-6.1zM457.3 119.6h10.1v3.7h-10.1zM497.3 119.6h10.1v3.7h-10.1zM569.3 119.6h18.1v3.7h-18.1zM597.3 119.6h3.7v3.7h-3.7zM365.3 123.2h6.1v3.7h-6.1zM377.3 123.2h6.1v3.7h-6.1zM421.3 123.2h8.1v3.7h-8.1zM429.3 123.2h18.1v3.7h-18.1zM471.3 123.2h14.1v3.7h-14.1zM493.3 123.2h6.1v3.7h-6.1zM527.3 123.2h12.1v3.7h-12.1zM547.3 123.2h6.1v3.7h-6.1zM575.3 123.2h6.1v3.7h-6.1zM425.3 126.8h18.1v3.7h-18.1zM467.3 126.8h6.1v3.7h-6.1zM489.3 126.8h14.1v3.7h-14.1zM579.3 126.8h18.1v3.7h-18.1zM375.3 130.4h8.1v3.7h-8.1zM409.3 130.4h6.1v3.7h-6.1zM447.3 130.4h10.1v3.7h-10.1zM475.3 130.4h10.1v3.7h-10.1zM497.3 130.4h8.1v3.7h-8.1zM559.3 130.4h8.1v3.7h-8.1zM581.3 130.4h8.1v3.7h-8.1zM385.3 134h12.1v3.7h-12.1zM413.3 134h6.1v3.7h-6.1zM425.3 134h18.1v3.7h-18.1zM465.3 134h10.1v3.7h-10.1zM493.3 134h10.1v3.7h-10.1zM509.3 134h14.1v3.7h-14.1zM545.3 134h12.1v3.7h-12.1zM573.3 134h8.1v3.7h-8.1zM365.3 137.6h12.1v3.7h-12.1zM445.3 137.6h6.1v3.7h-6.1zM539.3 137.6h6.1v3.7h-6.1zM565.3 137.6h6.1v3.7h-6.1zM583.3 137.6h14.1v3.7h-14.1zM365.3 141.2h14.1v3.7h-14.1zM399.3 141.2h8.1v3.7h-8.1zM427.3 141.2h18.1v3.7h-18.1zM551.3 141.2h6.1v3.7h-6.1zM579.3 141.2h12.1v3.7h-12.1zM365.3 144.8h6.1v3.7h-6.1zM397.3 144.8h18.1v3.7h-18.1zM423.3 144.8h6.1v3.7h-6.1zM443.3 144.8h18.1v3.7h-18.1zM461.3 144.8h6.1v3.7h-6.1zM495.3 144.8h10.1v3.7h-10.1zM575.3 144.8h8.1v3.7h-8.1zM365.3 148.4h14.1v3.7h-14.1zM379.3 148.4h8.1v3.7h-8.1zM413.3 148.4h10.1v3.7h-10.1zM431.3 148.4h8.1v3.7h-8.1zM461.3 148.4h8.1v3.7h-8.1zM469.3 148.4h6.1v3.7h-6.1zM475.3 148.4h10.1v3.7h-10.1zM525.3 148.4h6.1v3.7h-6.1zM531.3 148.4h10.1v3.7h-10.1zM585.3 148.4h6.1v3.7h-6.1zM389.3 152h6.1v3.7h-6.1zM437.3 152h12.1v3.7h-12.1zM449.3 152h14.1v3.7h-14.1zM471.3 152h6.1v3.7h-6.1zM403.3 155.6h18.1v3.7h-18.1zM501.3 155.6h14.1v3.7h-14.1zM563.3 155.6h14.1v3.7h-14.1zM577.3 155.6h12.1v3.7h-12.1zM421.3 159.2h14.1v3.7h-14.1zM509.3 159.2h6.1v3.7h-6.1zM541.3 159.2h10.1v3.7h-10.1zM551.3 159.2h18.1v3.7h-18.1zM593.3 159.2h7.7v3.7h-7.7zM365.3 162.8h8.1v1.6h-8.1zM397.3 162.8h8.1v1.6h-8.1zM415.3 162.8h8.1v1.6h-8.1z"/><path fill="#2c2090" d="M443.3 18.8h6.1v3.7h-6.1zM467.3 18.8h14.1v3.7h-14.1zM525.3 18.8h6.1v3.7h-6.1zM537.3 18.8h12.1v3.7h-12.1zM591.3 18.8h9.7v3.7h-9.7zM399.3 26h6.1v3.7h-6.1zM427.3 26h6.1v3.7h-6.1zM433.3 26h6.1v3.7h-6.1zM439.3 26h8.1v3.7h-8.1zM467.3 26h6.1v3.7h-6.1zM553.3 26h14.1v3.7h-14.1zM581.3 26h12.1v3.7h-12.1zM365.3 29.6h10.1v3.7h-10.1zM375.3 29.6h6.1v3.7h-6.1zM579.3 29.6h6.1v3.7h-6.1zM365.3 33.2h6.1v3.7h-6.1zM453.3 33.2h12.1v3.7h-12.1zM479.3 33.2h12.1v3.7h-12.1zM491.3 33.2h6.1v3.7h-6.1zM497.3 33.2h14.1v3.7h-14.1zM383.3 36.8h10.1v3.7h-10.1zM461.3 36.8h8.1v3.7h-8.1zM515.3 36.8h6.1v3.7h-6.1zM531.3 36.8h18.1v3.7h-18.1zM427.3 40.4h12.1v3.7h-12.1zM445.3 40.4h6.1v3.7h-6.1zM401.3 44h6.1v3.7h-6.1zM371.3 47.6h18.1v3.7h-18.1zM389.3 47.6h18.1v3.7h-18.1zM437.3 47.6h10.1v3.7h-10.1zM495.3 47.6h14.1v3.7h-14.1zM365.3 51.2h18.1v3.7h-18.1zM417.3 51.2h12.1v3.7h-12.1zM429.3 51.2h10.1v3.7h-10.1zM455.3 51.2h12.1v3.7h-12.1zM515.3 51.2h10.1v3.7h-10.1zM545.3 51.2h6.1v3.7h-6.1zM551.3 51.2h12.1v3.7h-12.1zM563.3 51.2h8.1v3.7h-8.1zM589.3 51.2h6.1v3.7h-6.1zM595.3 51.2h5.7v3.7h-5.7zM425.3 54.8h10.1v3.7h-10.1zM365.3 62h8.1v3.7h-8.1zM373.3 62h14.1v3.7h-14.1zM387.3 62h6.1v3.7h-6.1zM509.3 62h18.1v3.7h-18.1zM527.3 62h10.1v3.7h-10.1zM569.3 62h10.1v3.7h-10.1zM579.3 62h6.1v3.7h-6.1zM593.3 62h6.1v3.7h-6.1zM365.3 69.2h12.1v3.7h-12.1zM451.3 69.2h12.1v3.7h-12.1zM365.3 80h8.1v3.7h-8.1zM579.3 80h6.1v3.7h-6.1zM553.3 83.6h8.1v3.7h-8.1zM561.3 83.6h14.1v3.7h-14.1zM575.3 83.6h8.1v3.7h-8.1zM411.3 90.8h18.1v3.7h-18.1zM429.3 90.8h6.1v3.7h-6.1zM435.3 90.8h8.1v3.7h-8.1zM523.3 90.8h18.1v3.7h-18.1zM587.3 90.8h10.1v3.7h-10.1zM461.3 94.4h8.1v3.7h-8.1zM505.3 94.4h12.1v3.7h-12.1zM535.3 94.4h18.1v3.7h-18.1zM553.3 94.4h6.1v3.7h-6.1zM567.3 94.4h12.1v3.7h-12.1zM381.3 98h14.1v3.7h-14.1zM451.3 105.2h12.1v3.7h-12.1zM463.3 105.2h8.1v3.7h-8.1zM365.3 108.8h14.1v3.7h-14.1zM379.3 108.8h6.1v3.7h-6.1zM415.3 108.8h8.1v3.7h-8.1zM429.3 108.8h14.1v3.7h-14.1zM455.3 108.8h12.1v3.7h-12.1zM467.3 108.8h8.1v3.7h-8.1zM507.3 108.8h6.1v3.7h-6.1zM513.3 108.8h18.1v3.7h-18.1zM565.3 108.8h18.1v3.7h-18.1zM429.3 119.6h10.1v3.7h-10.1zM587.3 119.6h10.1v3.7h-10.1zM389.3 126.8h18.1v3.7h-18.1zM413.3 126.8h12.1v3.7h-12.1zM473.3 126.8h10.1v3.7h-10.1zM511.3 126.8h18.1v3.7h-18.1zM567.3 126.8h12.1v3.7h-12.1zM427.3 130.4h6.1v3.7h-6.1zM433.3 130.4h14.1v3.7h-14.1zM463.3 130.4h12.1v3.7h-12.1zM505.3 130.4h6.1v3.7h-6.1zM543.3 130.4h6.1v3.7h-6.1zM549.3 130.4h10.1v3.7h-10.1zM589.3 130.4h10.1v3.7h-10.1zM419.3 134h6.1v3.7h-6.1zM443.3 134h6.1v3.7h-6.1zM459.3 134h6.1v3.7h-6.1zM475.3 134h6.1v3.7h-6.1zM379.3 141.2h8.1v3.7h-8.1zM393.3 141.2h6.1v3.7h-6.1zM407.3 141.2h10.1v3.7h-10.1zM445.3 141.2h14.1v3.7h-14.1zM469.3 141.2h10.1v3.7h-10.1zM485.3 141.2h6.1v3.7h-6.1zM515.3 141.2h12.1v3.7h-12.1zM541.3 141.2h10.1v3.7h-10.1zM569.3 141.2h10.1v3.7h-10.1zM591.3 141.2h6.1v3.7h-6.1zM385.3 144.8h12.1v3.7h-12.1zM467.3 144.8h8.1v3.7h-8.1zM475.3 144.8h10.1v3.7h-10.1zM485.3 144.8h10.1v3.7h-10.1zM513.3 144.8h8.1v3.7h-8.1zM521.3 144.8h10.1v3.7h-10.1zM531.3 144.8h18.1v3.7h-18.1zM563.3 144.8h12.1v3.7h-12.1zM583.3 144.8h17.7v3.7h-17.7zM405.3 148.4h8.1v3.7h-8.1zM439.3 148.4h6.1v3.7h-6.1zM485.3 148.4h8.1v3.7h-8.1zM575.3 148.4h10.1v3.7h-10.1zM365.3 152h12.1v3.7h-12.1zM377.3 152h6.1v3.7h-6.1zM383.3 152h6.1v3.7h-6.1zM395.3 152h10.1v3.7h-10.1zM463.3 152h8.1v3.7h-8.1zM491.3 152h14.1v3.7h-14.1zM531.3 152h12.1v3.7h-12.1zM543.3 152h10.1v3.7h-10.1zM567.3 152h10.1v3.7h-10.1zM583.3 152h14.1v3.7h-14.1zM465.3 159.2h18.1v3.7h-18.1zM379.3 162.8h18.1v1.6h-18.1zM405.3 162.8h10.1v1.6h-10.1zM447.3 162.8h6.1v1.6h-6.1zM467.3 162.8h6.1v1.6h-6.1zM491.3 162.8h6.1v1.6h-6.1zM505.3 162.8h18.1v1.6h-18.1zM565.3 162.8h12.1v1.6h-12.1z"/><path fill="#4858ec" d="M481.3 18.8h10.1v3.7h-10.1zM365.3 22.4h10.1v3.7h-10.1zM437.3 29.6h14.1v3.7h-14.1zM531.3 29.6h6.1v3.7h-6.1zM397.3 40.4h8.1v3.7h-8.1zM487.3 40.4h6.1v3.7h-6.1zM589.3 40.4h11.7v3.7h-11.7zM483.3 44h14.1v3.7h-14.1zM541.3 44h6.1v3.7h-6.1zM547.3 44h12.1v3.7h-12.1zM405.3 58.4h18.1v3.7h-18.1zM443.3 58.4h12.1v3.7h-12.1zM521.3 58.4h6.1v3.7h-6.1zM581.3 65.6h10.1v3.7h-10.1zM597.3 65.6h3.7v3.7h-3.7zM497.3 69.2h14.1v3.7h-14.1zM477.3 72.8h6.1v3.7h-6.1zM515.3 72.8h12.1v3.7h-12.1zM589.3 72.8h11.7v3.7h-11.7zM467.3 76.4h6.1v3.7h-6.1zM473.3 76.4h6.1v3.7h-6.1zM479.3 76.4h10.1v3.7h-10.1zM489.3 76.4h12.1v3.7h-12.1zM529.3 76.4h10.1v3.7h-10.1zM467.3 87.2h18.1v3.7h-18.1zM511.3 87.2h6.1v3.7h-6.1zM547.3 87.2h10.1v3.7h-10.1zM563.3 87.2h6.1v3.7h-6.1zM597.3 87.2h3.7v3.7h-3.7zM431.3 98h18.1v3.7h-18.1zM599.3 98h1.7v3.7h-1.7zM365.3 101.6h6.1v3.7h-6.1zM377.3 101.6h10.1v3.7h-10.1zM469.3 101.6h10.1v3.7h-10.1zM397.3 112.4h14.1v3.7h-14.1zM423.3 112.4h18.1v3.7h-18.1zM523.3 112.4h14.1v3.7h-14.1zM567.3 112.4h12.1v3.7h-12.1zM579.3 112.4h12.1v3.7h-12.1zM365.3 116h10.1v3.7h-10.1zM459.3 116h12.1v3.7h-12.1zM493.3 116h8.1v3.7h-8.1zM525.3 116h12.1v3.7h-12.1zM569.3 116h6.1v3.7h-6.1zM515.3 119.6h6.1v3.7h-6.1zM545.3 119.6h18.1v3.7h-18.1zM383.3 123.2h8.1v3.7h-8.1zM399.3 123.2h8.1v3.7h-8.1zM407.3 123.2h14.1v3.7h-14.1zM499.3 123.2h8.1v3.7h-8.1zM507.3 123.2h8.1v3.7h-8.1zM515.3 123.2h12.1v3.7h-12.1zM539.3 123.2h8.1v3.7h-8.1zM599.3 134h1.7v3.7h-1.7zM377.3 137.6h18.1v3.7h-18.1zM401.3 137.6h10.1v3.7h-10.1zM495.3 137.6h10.1v3.7h-10.1zM545.3 137.6h8.1v3.7h-8.1zM387.3 148.4h6.1v3.7h-6.1zM399.3 148.4h6.1v3.7h-6.1zM493.3 148.4h14.1v3.7h-14.1zM365.3 155.6h6.1v3.7h-6.1zM463.3 155.6h14.1v3.7h-14.1zM539.3 155.6h12.1v3.7h-12.1zM589.3 155.6h8.1v3.7h-8.1zM373.3 159.2h6.1v3.7h-6.1zM389.3 159.2h18.1v3.7h-18.1zM435.3 159.2h10.1v3.7h-10.1zM451.3 159.2h14.1v3.7h-14.1zM491.3 159.2h12.1v3.7h-12.1zM587.3 159.2h6.1v3.7h-6.1z"/><path fill="#4070f2" d="M433.3 65.6h10.1v3.7h-10.1zM563.3 65.6h18.1v3.7h-18.1zM547.3 76.4h18.1v3.7h-18.1zM537.3 112.4h10.1v3.7h-10.1zM575.3 116h14.1v3.7h-14.1zM391.3 123.2h8.1v3.7h-8.1zM551.3 155.6h12.1v3.7h-12.1z"/><rect x="429" y="40" width="9" height="5" fill="#4070f2"/><rect x="409" y="32" width="8" height="4" fill="#4070f2"/><rect x="453" y="36" width="12" height="3" fill="#4070f2"/><rect x="419" y="29" width="14" height="3" fill="#4858ec"/><rect x="371" y="28" width="13" height="3" fill="#4858ec"/><rect x="445" y="46" width="13" height="3" fill="#4858ec"/><rect x="395" y="50" width="10" height="3" fill="#4858ec"/><rect x="470" y="30" width="12" height="3" fill="#4070f2"/><rect x="497" y="43" width="12" height="3" fill="#4858ec"/><rect x="533" y="51" width="12" height="3" fill="#4858ec"/><rect x="505" y="36" width="15" height="3" fill="#4858ec"/><rect x="560" y="28" width="15" height="3" fill="#4858ec"/><rect x="540" y="40" width="12" height="3" fill="#4070f2"/><rect x="525" y="70" width="8" height="5" fill="#2a90ee"/><rect x="565" y="69" width="6" height="4" fill="#2a90ee"/><rect x="390" y="106" width="10" height="3" fill="#22c8d8"/><rect x="390" y="111" width="10" height="3" fill="#22c8d8"/><rect x="437" y="124" width="9" height="14" fill="#4858ec"/><rect x="420" y="140" width="12" height="3" fill="#4858ec"/><rect x="405" y="150" width="15" height="3" fill="#4858ec"/><rect x="521.5" y="103" width="8.1" height="8" fill="#4070f2"/><rect x="550" y="140" width="8" height="6" fill="#4070f2"/><rect x="485" y="115" width="4" height="4" fill="#22c8d8"/><rect x="528" y="145" width="12" height="3" fill="#4858ec"/><rect x="565" y="120" width="15" height="3" fill="#4858ec"/><rect x="575" y="150" width="15" height="3" fill="#4858ec"/><rect x="500" y="155" width="15" height="3" fill="#4858ec"/><g clip-path="url(#h0)"><g transform="translate(0 -1.5)"><use href="#cml" stroke="#2a90ee" stroke-width="6.5"/><use href="#cml" stroke="#22c8d8" stroke-width="5"/><use href="#cml" stroke="#f4ec26" stroke-width="3.6"/></g></g><g clip-path="url(#h1)"><g transform="translate(0 -1.5)"><use href="#cml" stroke="#2a90ee" stroke-width="6.5"/><use href="#cml" stroke="#22c8d8" stroke-width="5"/><use href="#cml" stroke="#f4ec26" stroke-width="3.6"/></g></g><g clip-path="url(#h2)"><g transform="translate(0 -1.8)"><use href="#cml" stroke="#2a90ee" stroke-width="6.5"/><use href="#cml" stroke="#22c8d8" stroke-width="5"/><use href="#cml" stroke="#f4ec26" stroke-width="3.6"/></g></g><g clip-path="url(#h3)"><g transform="translate(0 -1.5)"><use href="#cml" stroke="#2a90ee" stroke-width="6.5"/><use href="#cml" stroke="#22c8d8" stroke-width="5"/><use href="#cml" stroke="#f4ec26" stroke-width="3.6"/></g></g><g clip-path="url(#h4)"><g transform="translate(0 -1.5)"><use href="#cml" stroke="#2a90ee" stroke-width="6.5"/><use href="#cml" stroke="#22c8d8" stroke-width="5"/><use href="#cml" stroke="#f4ec26" stroke-width="3.6"/></g></g><g clip-path="url(#h5)"><g transform="translate(0 -1.5)"><use href="#cml" stroke="#2a90ee" stroke-width="6.5"/><use href="#cml" stroke="#22c8d8" stroke-width="5"/><use href="#cml" stroke="#f4ec26" stroke-width="3.6"/></g></g><g clip-path="url(#h6)"><g transform="translate(0 -1.8)"><use href="#cml" stroke="#2a90ee" stroke-width="6.5"/><use href="#cml" stroke="#22c8d8" stroke-width="5"/><use href="#cml" stroke="#f4ec26" stroke-width="3.6"/></g></g><g clip-path="url(#h7)"><g transform="translate(0 -1.8)"><use href="#cml" stroke="#2a90ee" stroke-width="6.5"/><use href="#cml" stroke="#22c8d8" stroke-width="5"/><use href="#cml" stroke="#f4ec26" stroke-width="3.6"/></g></g><g clip-path="url(#h8)"><g transform="translate(0 -1)"><use href="#cml" stroke="#2a90ee" stroke-width="6.5"/><use href="#cml" stroke="#22c8d8" stroke-width="5"/></g></g><g clip-path="url(#h9)"><g transform="translate(0 -1.5)"><use href="#cml" stroke="#2a90ee" stroke-width="6.5"/><use href="#cml" stroke="#22c8d8" stroke-width="5"/><use href="#cml" stroke="#f4ec26" stroke-width="3.6"/></g></g><g clip-path="url(#h10)"><g transform="translate(0 -1.5)"><use href="#cml" stroke="#2a90ee" stroke-width="6.5"/><use href="#cml" stroke="#22c8d8" stroke-width="5"/><use href="#cml" stroke="#f4ec26" stroke-width="3.6"/></g></g><g clip-path="url(#h11)"><g transform="translate(0 2.5)"><use href="#cml" stroke="#2a90ee" stroke-width="6.5"/><use href="#cml" stroke="#22c8d8" stroke-width="5"/><use href="#cml" stroke="#f4ec26" stroke-width="3.6"/></g></g><g clip-path="url(#h12)"><g transform="translate(0 1.5)"><use href="#cml" stroke="#2a90ee" stroke-width="6.5"/><use href="#cml" stroke="#22c8d8" stroke-width="5"/></g></g><g clip-path="url(#h13)"><g transform="translate(0 1.5)"><use href="#cml" stroke="#2a90ee" stroke-width="6.5"/><use href="#cml" stroke="#22c8d8" stroke-width="5"/><use href="#cml" stroke="#f4ec26" stroke-width="3.6"/></g></g><g clip-path="url(#h14)"><g transform="translate(0 1.5)"><use href="#cml" stroke="#2a90ee" stroke-width="6.5"/><use href="#cml" stroke="#22c8d8" stroke-width="5"/><use href="#cml" stroke="#f4ec26" stroke-width="3.6"/></g></g><g clip-path="url(#h15)"><g transform="translate(0 1.5)"><use href="#cml" stroke="#2a90ee" stroke-width="6.5"/><use href="#cml" stroke="#22c8d8" stroke-width="5"/><use href="#cml" stroke="#f4ec26" stroke-width="3.6"/></g></g><g clip-path="url(#h16)"><g transform="translate(0 1.5)"><use href="#cml" stroke="#2a90ee" stroke-width="6.5"/><use href="#cml" stroke="#22c8d8" stroke-width="5"/><use href="#cml" stroke="#f4ec26" stroke-width="3.6"/></g></g><g clip-path="url(#h17)"><g transform="translate(0 0)"><use href="#cml" stroke="#2a90ee" stroke-width="6.5"/><use href="#cml" stroke="#22c8d8" stroke-width="5"/><use href="#cml" stroke="#f4ec26" stroke-width="3.6"/></g></g><g clip-path="url(#h18)"><g transform="translate(0 0)"><use href="#cml" stroke="#2a90ee" stroke-width="6.5"/><use href="#cml" stroke="#22c8d8" stroke-width="5"/></g></g><g clip-path="url(#h19)"><g transform="translate(0 0)"><use href="#cml" stroke="#2a90ee" stroke-width="6.5"/><use href="#cml" stroke="#22c8d8" stroke-width="5"/></g></g></g>
<defs><clipPath id="ca"><rect x="54.5" y="18.8" width="236.7" height="145.7"/></clipPath><clipPath id="cb"><rect x="365.0" y="18.8" width="236.0" height="145.7"/></clipPath><clipPath id="cc"><rect x="54.5" y="164.5" width="236.7" height="73.0"/></clipPath><clipPath id="cd"><rect x="365.0" y="164.5" width="236.0" height="73.0"/></clipPath><clipPath id="ce"><rect x="54.5" y="237.5" width="236.7" height="72.9"/></clipPath><clipPath id="cf"><rect x="365.0" y="237.5" width="236.0" height="72.9"/></clipPath></defs>
<path d="M54.0 196.7 L54.4 228.9 L55.6 196.7 L57.1 196.7 L58.4 215.6 L59.8 221.2 L61.1 226.7 L63.3 224.4 L65.0 217.2 L66.7 208.9 L68.6 201.2 L70.4 194.4 L72.2 193.3 L74.4 196.7 L76.7 194.4 L78.1 194.5 L79.6 193.6 L81.1 193.3 L82.8 190.4 L84.4 187.8 L86.0 186.2 L87.8 191.1 L89.6 197.8 L91.1 182.2 L92.2 176.0 L93.3 182.2 L94.4 200.0 L96.7 216.7 L97.8 218.9 L100.0 216.7 L101.7 209.7 L103.3 201.1 L105.0 198.4 L106.7 195.6 L108.3 195.5 L110.0 195.6 L111.7 196.4 L113.3 196.7 L115.6 198.9 L117.8 193.3 L119.2 192.2 L120.7 190.0 L122.2 194.4 L123.8 196.7 L125.6 182.2 L127.3 176.0 L128.2 182.2 L130.0 204.4 L132.2 218.9 L134.0 220.0 L135.3 216.1 L136.7 212.2 L138.9 201.1 L140.6 200.3 L142.2 198.9 L143.9 199.6 L145.6 201.1 L147.8 202.2 L150.0 196.7 L151.3 195.4 L152.7 194.4 L154.4 192.2 L156.2 195.6 L157.8 188.9 L158.9 184.4 L160.0 191.1 L162.2 206.7 L164.4 218.9 L166.7 218.9 L168.9 213.3 L170.0 206.7 L172.2 196.7 L174.4 195.6 L175.6 198.9 L177.0 198.3 L178.5 197.5 L180.0 197.8 L181.5 196.4 L183.0 195.6 L184.4 195.6 L185.6 188.9 L186.7 183.3 L187.8 187.8 L188.9 204.4 L190.4 215.6 L192.2 216.7 L194.4 207.8 L196.7 197.8 L198.9 196.7 L200.4 196.6 L201.9 196.6 L203.3 196.7 L205.0 198.7 L206.7 201.1 L208.3 201.1 L210.0 201.1 L211.8 191.1 L212.9 184.4 L214.0 191.1 L215.6 206.7 L217.8 214.4 L220.0 212.2 L221.7 208.8 L223.3 206.7 L225.0 205.0 L226.7 203.3 L228.9 204.4 L231.1 206.7 L233.3 205.6 L235.6 197.8 L237.8 196.7 L239.3 200.0 L241.1 201.1 L242.2 191.1 L243.3 188.9 L244.4 195.6 L245.6 208.9 L247.8 218.9 L250.0 220.0 L251.7 217.3 L253.3 214.4 L255.6 204.4 L257.3 198.9 L258.4 200.0 L260.0 208.9 L262.2 212.2 L264.4 208.9 L266.1 207.6 L267.8 205.6 L269.4 203.0 L271.1 201.1 L273.3 201.1 L274.4 203.3 L276.2 191.1 L277.8 185.6 L278.9 191.1 L280.0 204.4 L282.2 213.3 L284.4 213.3 L286.7 208.9 L288.9 198.9 L290.0 186.7 L291.6 178.9" fill="none" stroke="#0066b6" stroke-width="2.9" stroke-linejoin="round" clip-path="url(#cc)"/>
<path d="M364.9 223.3 L366.7 224.9 L368.9 221.8 L370.6 220.4 L372.2 220.0 L373.9 217.8 L375.6 216.7 L377.2 216.2 L378.9 215.1 L380.2 213.2 L381.6 213.3 L382.7 200.0 L384.0 173.3 L384.9 168.9 L386.2 172.2 L387.8 182.2 L390.0 193.3 L391.7 198.8 L393.3 204.4 L395.0 206.2 L396.7 210.0 L398.3 212.7 L400.0 214.4 L401.7 216.4 L403.3 218.2 L405.6 220.4 L407.8 218.9 L410.0 217.3 L411.7 217.1 L413.3 215.6 L414.8 214.6 L416.3 214.3 L417.8 213.3 L419.3 212.6 L420.7 211.8 L422.2 211.6 L423.8 208.9 L424.4 177.8 L425.3 165.6 L426.2 168.9 L427.8 177.8 L430.0 191.1 L431.7 196.7 L433.3 202.2 L435.0 206.1 L436.7 211.1 L438.3 214.8 L440.0 218.9 L441.7 222.0 L443.3 224.4 L445.0 225.4 L446.7 226.2 L448.9 225.6 L451.1 223.3 L452.8 222.0 L454.4 221.1 L456.1 221.3 L457.8 219.6 L459.3 219.1 L460.7 218.4 L462.2 218.2 L463.3 213.3 L464.4 177.8 L465.6 170.0 L467.1 173.3 L468.9 186.7 L470.6 193.4 L472.2 200.0 L473.9 204.2 L475.6 208.9 L477.2 212.6 L478.9 216.7 L480.0 220.0 L482.2 221.1 L484.4 225.6 L486.7 223.3 L488.9 220.0 L490.6 219.3 L492.2 218.9 L493.9 219.0 L495.6 217.3 L497.2 216.5 L498.9 215.6 L500.6 216.2 L502.2 216.7 L503.3 204.4 L504.4 173.3 L505.6 173.8 L506.7 177.8 L508.9 193.3 L510.6 201.4 L512.2 208.9 L513.9 215.4 L515.6 220.0 L517.2 223.2 L518.9 226.7 L520.6 228.1 L522.2 230.0 L524.4 233.3 L526.1 233.9 L527.8 232.2 L529.4 229.9 L531.1 228.9 L532.8 227.6 L534.4 226.7 L536.1 226.1 L537.8 224.9 L539.4 225.1 L541.1 223.3 L542.2 215.6 L543.3 178.9 L544.4 179.6 L546.2 186.7 L547.6 191.8 L548.9 197.8 L550.6 203.4 L552.2 211.1 L553.9 217.5 L555.6 223.3 L557.2 225.9 L558.9 228.9 L560.6 230.0 L562.2 231.6 L563.9 233.2 L565.6 234.4 L567.2 234.0 L568.9 233.3 L570.6 232.9 L572.2 232.2 L573.9 230.9 L575.6 230.0 L577.2 230.9 L578.9 230.7 L580.6 229.3 L582.2 226.7 L584.0 204.4 L584.9 183.3 L586.2 184.4 L587.8 193.3 L589.4 201.1 L591.1 208.9 L592.8 213.7 L594.4 218.9 L596.1 222.6 L597.8 225.6 L599.4 228.5 L601.1 231.1 L602.2 232.2" fill="none" stroke="#0066b6" stroke-width="2.9" stroke-linejoin="round" clip-path="url(#cd)"/>
<path d="M56.2 304.3 L57.8 299.4 L60.0 293.2 L62.2 291.7 L65.6 290.1 L66.7 288.3 L68.9 272.8 L72.2 257.2 L76.7 244.3 L84.4 243.9 L86.7 247.2 L91.1 262.8 L93.3 279.4 L96.7 299.4 L100.0 298.3 L101.6 297.2 L105.6 272.8 L108.9 263.9 L112.2 256.1 L114.4 258.3 L116.7 261.2 L119.3 250.6 L121.6 238.3 L123.3 238.3 L125.1 255.0 L127.3 278.3 L129.6 299.4 L132.2 309.4 L133.3 308.3 L135.6 288.3 L137.8 278.3 L140.0 276.8 L142.2 276.8 L144.4 270.6 L147.8 259.9 L150.4 260.6 L153.3 263.9 L156.7 271.7 L159.3 281.7 L162.2 286.1 L164.4 285.0 L167.8 278.3 L173.3 269.4 L176.7 263.9 L178.4 262.8 L181.1 248.3 L182.9 241.2 L184.4 257.2 L186.0 279.4 L187.3 293.2 L188.9 290.6 L191.1 288.3 L196.7 288.3 L198.9 275.0 L202.2 260.6 L205.1 261.7 L206.7 262.1 L208.9 250.6 L210.7 241.7 L212.2 248.3 L214.4 261.7 L216.2 271.7 L217.8 270.1 L220.0 272.8 L223.3 278.3 L226.7 282.1 L230.0 281.7 L232.2 270.6 L235.6 252.8 L237.8 247.2 L240.0 241.2 L241.6 250.6 L243.3 266.1 L245.1 293.9 L246.7 295.0 L248.9 293.2 L252.2 281.7 L255.6 276.1 L257.8 280.6 L260.0 288.3 L263.3 290.6 L265.1 290.6 L267.8 275.0 L270.0 266.6 L274.4 266.1 L276.7 268.3 L278.9 282.8 L281.1 297.2 L282.2 302.8 L283.3 297.2 L285.6 288.3 L286.7 279.4 L288.9 259.4 L291.1 240.6" fill="none" stroke="#ff00ff" stroke-width="1.3" stroke-linejoin="round" clip-path="url(#ce)"/>
<path d="M365.6 276.1 L367.8 270.6 L370.0 261.7 L372.2 260.6 L374.4 259.4 L376.7 257.2 L380.0 256.6 L382.7 256.1 L384.4 259.4 L386.2 265.0 L388.4 265.7 L390.0 272.8 L391.1 281.7 L392.9 292.3 L395.6 292.3 L397.3 290.6 L398.9 286.1 L400.4 282.1 L403.3 281.7 L404.9 279.4 L406.7 273.9 L408.4 267.2 L410.0 265.7 L413.3 265.0 L418.9 265.4 L422.2 266.1 L424.9 268.3 L427.8 269.4 L431.1 270.1 L432.9 271.7 L434.4 290.6 L436.2 307.2 L437.8 307.9 L438.9 305.0 L441.1 297.2 L443.3 288.3 L444.9 283.4 L447.8 282.8 L450.0 279.4 L452.9 272.8 L455.6 266.1 L457.3 265.0 L460.0 266.1 L462.2 266.6 L464.4 270.6 L466.2 272.8 L468.9 272.8 L471.6 272.8 L472.9 275.0 L474.4 292.8 L475.6 305.0 L477.8 306.1 L479.6 305.0 L480.0 303.9 L481.8 295.0 L483.3 288.3 L485.6 287.2 L487.8 281.7 L490.7 271.7 L493.8 265.7 L497.8 265.4 L503.3 265.4 L506.7 266.1 L509.3 267.9 L511.1 279.4 L512.9 293.9 L513.8 301.2 L516.7 300.6 L518.9 299.4 L520.4 292.8 L522.2 285.0 L524.4 283.4 L526.2 285.7 L527.8 276.1 L529.3 268.8 L532.2 267.2 L535.1 263.4 L537.3 262.6 L541.1 262.6 L544.4 263.4 L547.1 265.0 L548.9 272.8 L551.1 287.2 L553.3 286.1 L556.7 282.8 L560.0 282.8 L562.2 281.7 L564.0 276.1 L565.6 268.3 L568.9 267.2 L570.7 262.8 L572.9 258.3 L576.0 257.2 L577.8 255.0 L580.0 252.3 L582.7 252.3 L584.9 253.9 L586.7 256.1 L588.9 259.0 L590.4 270.6 L592.2 282.8 L594.4 285.0 L596.7 284.3 L598.9 280.6 L601.1 273.9" fill="none" stroke="#ff00ff" stroke-width="1.3" stroke-linejoin="round" clip-path="url(#cf)"/>
<path d="M56.2 125.1 L57.8 120.0 L60.0 113.6 L62.2 112.0 L65.6 110.4 L66.7 108.6 L68.9 92.6 L72.2 76.6 L76.7 63.4 L84.4 62.9 L86.7 66.3 L91.1 82.3 L93.3 99.5 L96.7 120.0 L100.0 118.9 L101.6 117.7 L105.6 92.6 L108.9 83.5 L112.2 75.5 L114.4 77.8 L116.7 80.7 L119.3 69.8 L121.6 57.2 L123.3 57.2 L125.1 74.3 L127.3 98.3 L129.6 120.0 L132.2 130.3 L133.3 129.2 L135.6 108.6 L137.8 98.3 L140.0 96.7 L142.2 96.7 L144.4 90.3 L147.8 79.4 L150.4 80.0 L153.3 83.5 L156.7 91.5 L159.3 101.7 L162.2 106.3 L164.4 105.2 L167.8 98.3 L173.3 89.2 L176.7 83.5 L178.4 82.3 L181.1 67.5 L182.9 60.2 L184.4 76.6 L186.0 99.5 L187.3 113.6 L188.9 110.9 L191.1 108.6 L196.7 108.6 L198.9 94.9 L202.2 80.0 L205.1 81.2 L206.7 81.6 L208.9 69.8 L210.7 60.6 L212.2 67.5 L214.4 81.2 L216.2 91.5 L217.8 89.9 L220.0 92.6 L223.3 98.3 L226.7 102.2 L230.0 101.7 L232.2 90.3 L235.6 72.0 L237.8 66.3 L240.0 60.2 L241.6 69.8 L243.3 85.8 L245.1 114.3 L246.7 115.5 L248.9 113.6 L252.2 101.7 L255.6 96.0 L257.8 100.6 L260.0 108.6 L263.3 110.9 L265.1 110.9 L267.8 94.9 L270.0 86.2 L274.4 85.8 L276.7 88.0 L278.9 102.9 L281.1 117.7 L282.2 123.5 L283.3 117.7 L285.6 108.6 L286.7 99.5 L288.9 78.9 L291.1 59.5" fill="none" stroke="#ff00ff" stroke-width="3" stroke-linejoin="round" clip-path="url(#ca)"/>
<path d="M365.6 90.3 L367.8 78.1 L370.0 58.6 L372.2 56.2 L374.4 53.8 L376.7 48.9 L380.0 47.4 L382.7 46.5 L384.4 53.8 L386.2 66.0 L388.4 67.4 L390.0 83.0 L391.1 102.5 L392.9 125.9 L395.6 125.9 L397.3 122.0 L398.9 112.2 L400.4 103.5 L403.3 102.5 L404.9 97.6 L406.7 85.4 L408.4 70.8 L410.0 67.4 L413.3 66.0 L418.9 66.9 L422.2 68.4 L424.9 73.3 L427.8 75.7 L431.1 77.2 L432.9 80.6 L434.4 122.0 L436.2 158.5 L437.8 160.0 L438.9 153.6 L441.1 136.6 L443.3 117.1 L444.9 106.4 L447.8 104.9 L450.0 97.6 L452.9 83.0 L455.6 68.4 L457.3 66.0 L460.0 68.4 L462.2 69.4 L464.4 78.1 L466.2 83.0 L468.9 83.0 L471.6 83.0 L472.9 87.9 L474.4 126.8 L475.6 153.6 L477.8 156.1 L479.6 153.6 L480.0 151.2 L481.8 131.7 L483.3 117.1 L485.6 114.7 L487.8 102.5 L490.7 80.6 L493.8 67.4 L497.8 66.9 L503.3 66.9 L506.7 68.4 L509.3 72.3 L511.1 97.6 L512.9 129.3 L513.8 145.4 L516.7 143.9 L518.9 141.5 L520.4 126.8 L522.2 109.8 L524.4 106.4 L526.2 111.3 L527.8 90.3 L529.3 74.2 L532.2 70.8 L535.1 62.5 L537.3 60.6 L541.1 60.6 L544.4 62.5 L547.1 66.0 L548.9 83.0 L551.1 114.7 L553.3 112.2 L556.7 104.9 L560.0 104.9 L562.2 102.5 L564.0 90.3 L565.6 73.3 L568.9 70.8 L570.7 61.1 L572.9 51.3 L576.0 48.9 L577.8 44.0 L580.0 38.2 L582.7 38.2 L584.9 41.6 L586.7 46.5 L588.9 52.8 L590.4 78.1 L592.2 104.9 L594.4 109.8 L596.7 108.3 L598.9 100.1 L601.1 85.4" fill="none" stroke="#ff00ff" stroke-width="3" stroke-linejoin="round" clip-path="url(#cb)"/>
<line x1="92.2" y1="164.5" x2="92.2" y2="310.4" stroke="#2a2a2a" stroke-width="1.1" stroke-dasharray="4.1,3"/>
<line x1="127.8" y1="164.5" x2="127.8" y2="310.4" stroke="#2a2a2a" stroke-width="1.1" stroke-dasharray="4.1,3"/>
<line x1="158.9" y1="164.5" x2="158.9" y2="310.4" stroke="#2a2a2a" stroke-width="1.1" stroke-dasharray="4.1,3"/>
<line x1="186.2" y1="164.5" x2="186.2" y2="310.4" stroke="#2a2a2a" stroke-width="1.1" stroke-dasharray="4.1,3"/>
<line x1="212.9" y1="164.5" x2="212.9" y2="310.4" stroke="#2a2a2a" stroke-width="1.1" stroke-dasharray="4.1,3"/>
<line x1="243.3" y1="164.5" x2="243.3" y2="310.4" stroke="#2a2a2a" stroke-width="1.1" stroke-dasharray="4.1,3"/>
<line x1="257.8" y1="164.5" x2="257.8" y2="310.4" stroke="#2a2a2a" stroke-width="1.1" stroke-dasharray="4.1,3"/>
<line x1="277.8" y1="164.5" x2="277.8" y2="310.4" stroke="#2a2a2a" stroke-width="1.1" stroke-dasharray="4.1,3"/>
<line x1="384.8" y1="164.5" x2="384.8" y2="310.4" stroke="#2a2a2a" stroke-width="1.1" stroke-dasharray="4.1,3"/>
<line x1="424.9" y1="164.5" x2="424.9" y2="310.4" stroke="#2a2a2a" stroke-width="1.1" stroke-dasharray="4.1,3"/>
<line x1="464.9" y1="164.5" x2="464.9" y2="310.4" stroke="#2a2a2a" stroke-width="1.1" stroke-dasharray="4.1,3"/>
<line x1="504.6" y1="164.5" x2="504.6" y2="310.4" stroke="#2a2a2a" stroke-width="1.1" stroke-dasharray="4.1,3"/>
<line x1="544.2" y1="164.5" x2="544.2" y2="310.4" stroke="#2a2a2a" stroke-width="1.1" stroke-dasharray="4.1,3"/>
<line x1="584.9" y1="164.5" x2="584.9" y2="310.4" stroke="#2a2a2a" stroke-width="1.1" stroke-dasharray="4.1,3"/>
<rect x="54.5" y="164.5" width="236.7" height="73.0" fill="none" stroke="#262626" stroke-width="1"/>
<rect x="54.5" y="237.5" width="236.7" height="72.9" fill="none" stroke="#262626" stroke-width="1"/>
<line x1="54.2" y1="18.8" x2="54.2" y2="164.5" stroke="#8a8a8a" stroke-width="1"/>
<rect x="365.0" y="164.5" width="236.0" height="73.0" fill="none" stroke="#262626" stroke-width="1"/>
<rect x="365.0" y="237.5" width="236.0" height="72.9" fill="none" stroke="#262626" stroke-width="1"/>
<line x1="364.7" y1="18.8" x2="364.7" y2="164.5" stroke="#8a8a8a" stroke-width="1"/>
<line x1="80.8" y1="164.5" x2="80.8" y2="161.5" stroke="#262626"/>
<line x1="133.4" y1="164.5" x2="133.4" y2="161.5" stroke="#262626"/>
<line x1="186.0" y1="164.5" x2="186.0" y2="161.5" stroke="#262626"/>
<line x1="238.6" y1="164.5" x2="238.6" y2="161.5" stroke="#262626"/>
<line x1="291.2" y1="164.5" x2="291.2" y2="161.5" stroke="#262626"/>
<line x1="365.0" y1="164.5" x2="365.0" y2="163.5" stroke="#262626"/>
<line x1="483.0" y1="164.5" x2="483.0" y2="163.5" stroke="#262626"/>
<line x1="601.0" y1="164.5" x2="601.0" y2="163.5" stroke="#262626"/>
<line x1="80.8" y1="237.5" x2="80.8" y2="235.0" stroke="#262626"/>
<line x1="80.8" y1="164.5" x2="80.8" y2="167.0" stroke="#262626"/>
<line x1="133.4" y1="237.5" x2="133.4" y2="235.0" stroke="#262626"/>
<line x1="133.4" y1="164.5" x2="133.4" y2="167.0" stroke="#262626"/>
<line x1="186.0" y1="237.5" x2="186.0" y2="235.0" stroke="#262626"/>
<line x1="186.0" y1="164.5" x2="186.0" y2="167.0" stroke="#262626"/>
<line x1="238.6" y1="237.5" x2="238.6" y2="235.0" stroke="#262626"/>
<line x1="238.6" y1="164.5" x2="238.6" y2="167.0" stroke="#262626"/>
<line x1="291.2" y1="237.5" x2="291.2" y2="235.0" stroke="#262626"/>
<line x1="291.2" y1="164.5" x2="291.2" y2="167.0" stroke="#262626"/>
<line x1="365.0" y1="237.5" x2="365.0" y2="235.0" stroke="#262626"/>
<line x1="365.0" y1="164.5" x2="365.0" y2="167.0" stroke="#262626"/>
<line x1="483.0" y1="237.5" x2="483.0" y2="235.0" stroke="#262626"/>
<line x1="483.0" y1="164.5" x2="483.0" y2="167.0" stroke="#262626"/>
<line x1="601.0" y1="237.5" x2="601.0" y2="235.0" stroke="#262626"/>
<line x1="601.0" y1="164.5" x2="601.0" y2="167.0" stroke="#262626"/>
<line x1="80.8" y1="310.4" x2="80.8" y2="307.9" stroke="#262626"/>
<line x1="80.8" y1="237.5" x2="80.8" y2="240.0" stroke="#262626"/>
<line x1="133.4" y1="310.4" x2="133.4" y2="307.9" stroke="#262626"/>
<line x1="133.4" y1="237.5" x2="133.4" y2="240.0" stroke="#262626"/>
<line x1="186.0" y1="310.4" x2="186.0" y2="307.9" stroke="#262626"/>
<line x1="186.0" y1="237.5" x2="186.0" y2="240.0" stroke="#262626"/>
<line x1="238.6" y1="310.4" x2="238.6" y2="307.9" stroke="#262626"/>
<line x1="238.6" y1="237.5" x2="238.6" y2="240.0" stroke="#262626"/>
<line x1="291.2" y1="310.4" x2="291.2" y2="307.9" stroke="#262626"/>
<line x1="291.2" y1="237.5" x2="291.2" y2="240.0" stroke="#262626"/>
<line x1="365.0" y1="310.4" x2="365.0" y2="307.9" stroke="#262626"/>
<line x1="365.0" y1="237.5" x2="365.0" y2="240.0" stroke="#262626"/>
<line x1="483.0" y1="310.4" x2="483.0" y2="307.9" stroke="#262626"/>
<line x1="483.0" y1="237.5" x2="483.0" y2="240.0" stroke="#262626"/>
<line x1="601.0" y1="310.4" x2="601.0" y2="307.9" stroke="#262626"/>
<line x1="601.0" y1="237.5" x2="601.0" y2="240.0" stroke="#262626"/>
<text x="80.8" y="333.9" font-size="16.3" text-anchor="middle" >3.9</text>
<text x="133.4" y="333.9" font-size="16.3" text-anchor="middle" >4</text>
<text x="186.0" y="333.9" font-size="16.3" text-anchor="middle" >4.1</text>
<text x="238.6" y="333.9" font-size="16.3" text-anchor="middle" >4.2</text>
<text x="291.2" y="333.9" font-size="16.3" text-anchor="middle" >4.3</text>
<text x="365.0" y="333.9" font-size="16.3" text-anchor="middle" >0.85</text>
<text x="483.0" y="333.9" font-size="16.3" text-anchor="middle" >0.9</text>
<text x="601.0" y="333.9" font-size="16.3" text-anchor="middle" >0.95</text>
<text x="48.7" y="48.5" font-size="16.3" text-anchor="end" >8.2</text>
<text x="48.7" y="78.8" font-size="16.3" text-anchor="end" >7.9</text>
<text x="48.7" y="109.1" font-size="16.3" text-anchor="end" >7.6</text>
<text x="48.7" y="139.4" font-size="16.3" text-anchor="end" >7.3</text>
<line x1="54.5" y1="174.9" x2="57.0" y2="174.9" stroke="#262626"/>
<line x1="291.2" y1="174.9" x2="288.7" y2="174.9" stroke="#262626"/>
<text x="48.7" y="181.4" font-size="16.3" text-anchor="end" >460</text>
<line x1="54.5" y1="195.7" x2="57.0" y2="195.7" stroke="#262626"/>
<line x1="291.2" y1="195.7" x2="288.7" y2="195.7" stroke="#262626"/>
<text x="48.7" y="202.2" font-size="16.3" text-anchor="end" >440</text>
<line x1="54.5" y1="216.5" x2="57.0" y2="216.5" stroke="#262626"/>
<line x1="291.2" y1="216.5" x2="288.7" y2="216.5" stroke="#262626"/>
<text x="48.7" y="223.0" font-size="16.3" text-anchor="end" >420</text>
<line x1="54.5" y1="239.9" x2="57.0" y2="239.9" stroke="#262626"/>
<line x1="291.2" y1="239.9" x2="288.7" y2="239.9" stroke="#262626"/>
<text x="48.7" y="246.4" font-size="16.3" text-anchor="end" >8</text>
<line x1="54.5" y1="292.3" x2="57.0" y2="292.3" stroke="#262626"/>
<line x1="291.2" y1="292.3" x2="288.7" y2="292.3" stroke="#262626"/>
<text x="48.7" y="298.8" font-size="16.3" text-anchor="end" >7.5</text>
<text x="359.2" y="25.8" font-size="16.3" text-anchor="end" >17</text>
<text x="359.2" y="67.1" font-size="16.3" text-anchor="end" >15</text>
<text x="359.2" y="108.5" font-size="16.3" text-anchor="end" >13</text>
<text x="359.2" y="149.8" font-size="16.3" text-anchor="end" >11</text>
<line x1="365.0" y1="181.3" x2="367.5" y2="181.3" stroke="#262626"/>
<line x1="601.0" y1="181.3" x2="598.5" y2="181.3" stroke="#262626"/>
<text x="359.2" y="187.8" font-size="16.3" text-anchor="end" >640</text>
<line x1="365.0" y1="204.0" x2="367.5" y2="204.0" stroke="#262626"/>
<line x1="601.0" y1="204.0" x2="598.5" y2="204.0" stroke="#262626"/>
<text x="359.2" y="210.5" font-size="16.3" text-anchor="end" >600</text>
<line x1="365.0" y1="226.8" x2="367.5" y2="226.8" stroke="#262626"/>
<line x1="601.0" y1="226.8" x2="598.5" y2="226.8" stroke="#262626"/>
<text x="359.2" y="233.3" font-size="16.3" text-anchor="end" >560</text>
<line x1="365.0" y1="242.8" x2="367.5" y2="242.8" stroke="#262626"/>
<line x1="601.0" y1="242.8" x2="598.5" y2="242.8" stroke="#262626"/>
<text x="359.2" y="249.3" font-size="16.3" text-anchor="end" >17</text>
<line x1="365.0" y1="262.2" x2="367.5" y2="262.2" stroke="#262626"/>
<line x1="601.0" y1="262.2" x2="598.5" y2="262.2" stroke="#262626"/>
<text x="359.2" y="268.7" font-size="16.3" text-anchor="end" >15</text>
<line x1="365.0" y1="281.6" x2="367.5" y2="281.6" stroke="#262626"/>
<line x1="601.0" y1="281.6" x2="598.5" y2="281.6" stroke="#262626"/>
<text x="359.2" y="288.1" font-size="16.3" text-anchor="end" >13</text>
<line x1="365.0" y1="301.0" x2="367.5" y2="301.0" stroke="#262626"/>
<line x1="601.0" y1="301.0" x2="598.5" y2="301.0" stroke="#262626"/>
<text x="359.2" y="307.5" font-size="16.3" text-anchor="end" >11</text>
<text x="174.0" y="355.8" font-size="17.6" text-anchor="middle" >Time (s)</text>
<text x="483.5" y="355.8" font-size="17.6" text-anchor="middle" >Time (s)</text>
<text x="173.2" y="13.3" font-size="17.6" text-anchor="middle" >AUG</text>
<text x="483.0" y="13.3" font-size="17.6" text-anchor="middle" >C-Mod</text>
<text x="0" y="0" font-size="17.6" text-anchor="middle" transform="translate(16.5 91.0) rotate(-90)">f (kHz)</text>
<text x="0" y="0" font-size="17.6" text-anchor="middle" transform="translate(13.7 200.5) rotate(-90)">Te (eV)</text>
<text x="0" y="0" font-size="17.6" text-anchor="middle" transform="translate(16.5 273.8) rotate(-90)">f (kHz)</text>
<text x="0" y="0" font-size="17.6" text-anchor="middle" transform="translate(334.5 91.0) rotate(-90)">f (kHz)</text>
<text x="0" y="0" font-size="17.6" text-anchor="middle" transform="translate(325.0 200.5) rotate(-90)">Te (eV)</text>
<text x="0" y="0" font-size="17.6" text-anchor="middle" transform="translate(334.5 273.8) rotate(-90)">f (kHz)</text>
<text x="0" y="0" font-size="14.8" text-anchor="start" transform="translate(293.5 23.5) rotate(90)">shot: 36562</text>
<text x="0" y="0" font-size="14.8" text-anchor="start" transform="translate(603.5 20.0) rotate(90)">shot: 1160913005</text>
<rect x="56.2" y="20.4" width="15.8" height="17" fill="#fff"/>
<rect x="366.5" y="21" width="16.5" height="17.7" fill="#f2f2fb"/>
<text x="58.2" y="33.0" font-size="13.2" text-anchor="start" >a)</text>
<text x="368.8" y="33.2" font-size="13.2" text-anchor="start" >b)</text>
<text x="58.2" y="179.6" font-size="13.2" text-anchor="start" >c)</text>
<text x="368.8" y="179.6" font-size="13.2" text-anchor="start" >d)</text>
<text x="58.2" y="252.9" font-size="13.2" text-anchor="start" >e)</text>
<text x="368.8" y="252.9" font-size="13.2" text-anchor="start" >f)</text>
</svg>
</body></html>
